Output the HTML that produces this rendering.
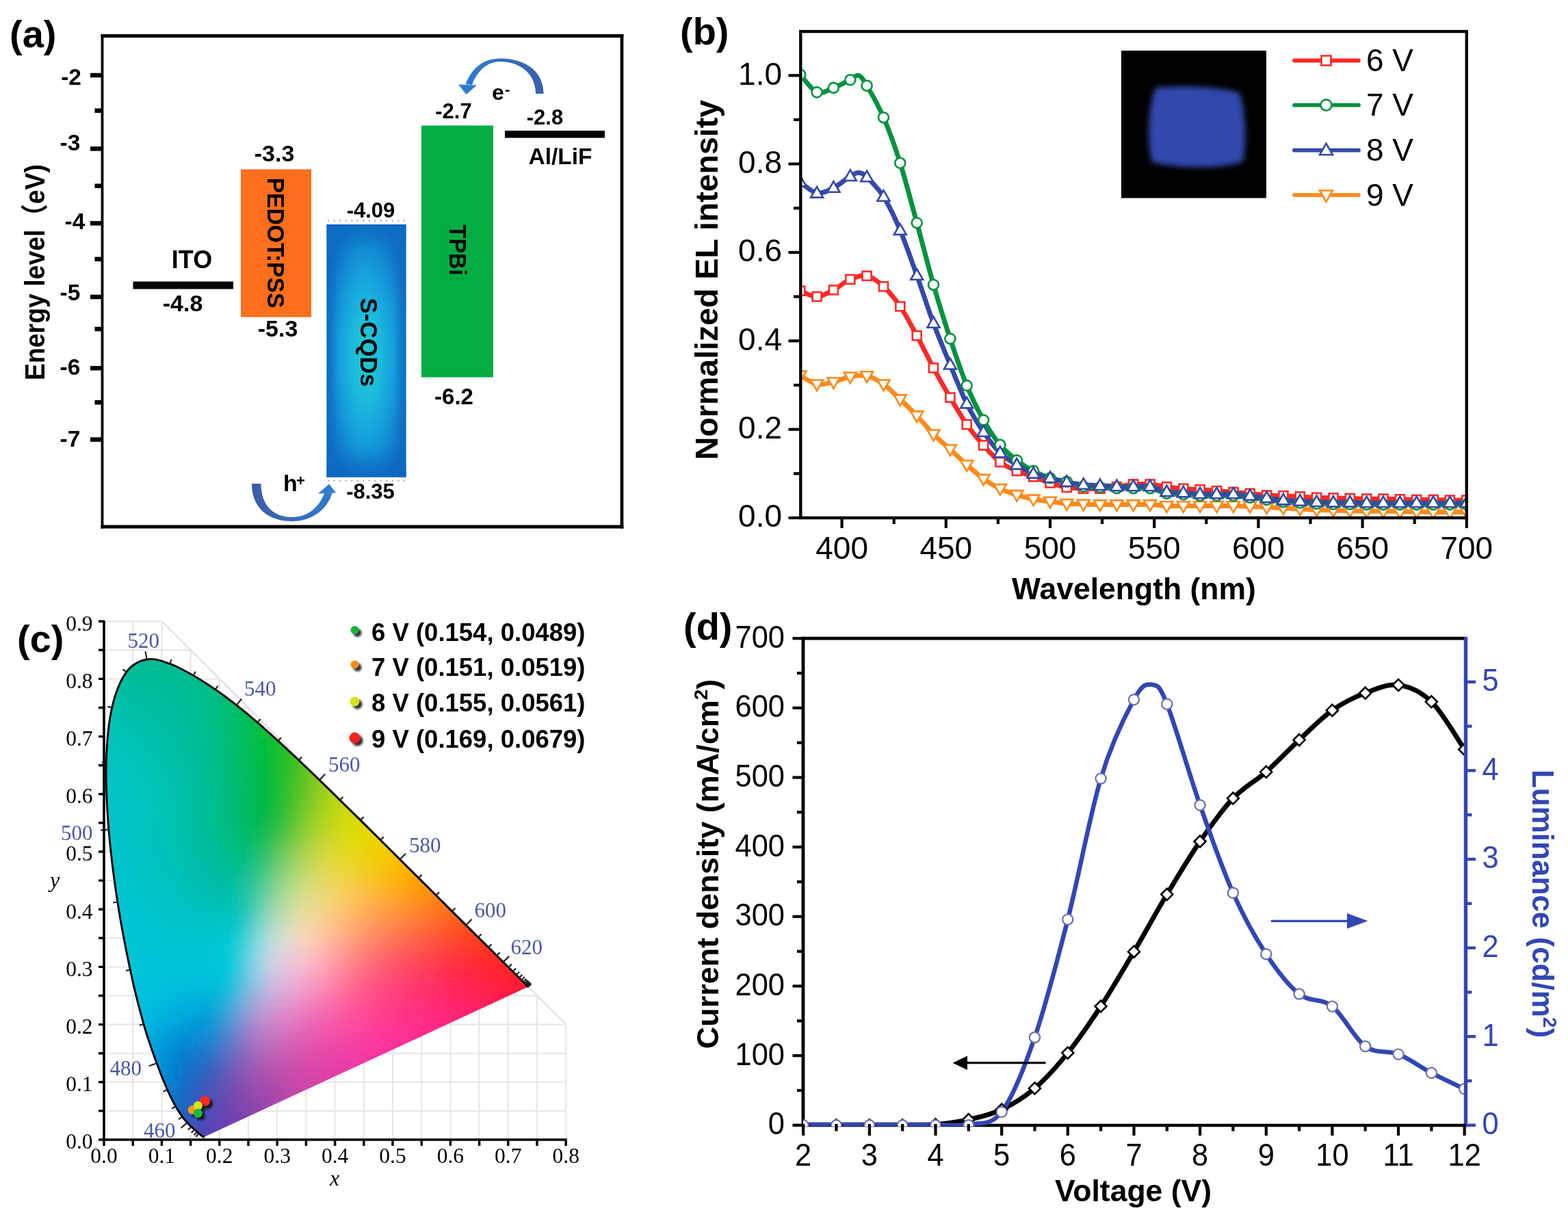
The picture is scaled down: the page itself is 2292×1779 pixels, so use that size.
<!DOCTYPE html>
<html><head><meta charset="utf-8"><title>Figure</title>
<style>html,body{margin:0;padding:0;background:#fff;}svg{display:block;}.cm rect{width:1.08px;height:1.08px;}</style></head>
<body><svg xmlns="http://www.w3.org/2000/svg" width="2292" height="1779" viewBox="0 0 2292 1779">
<rect width="2292" height="1779" fill="#fff"/>
<text x="14" y="69" font-family="'Liberation Sans', Arial, Helvetica, sans-serif" font-size="56" font-weight="bold">(a)</text>
<line x1="149.5" y1="50" x2="149.5" y2="772.5" stroke="#000" stroke-width="3.8"/>
<line x1="147.6" y1="52.6" x2="911.4" y2="52.6" stroke="#000" stroke-width="5"/>
<line x1="909" y1="50" x2="909" y2="772.5" stroke="#000" stroke-width="4.7"/>
<line x1="147.6" y1="770" x2="911.4" y2="770" stroke="#000" stroke-width="5"/>
<line x1="132" y1="110" x2="150" y2="110" stroke="#000" stroke-width="6.5"/>
<line x1="132" y1="217.4" x2="150" y2="217.4" stroke="#000" stroke-width="6.5"/>
<line x1="132" y1="326.4" x2="150" y2="326.4" stroke="#000" stroke-width="6.5"/>
<line x1="132" y1="434" x2="150" y2="434" stroke="#000" stroke-width="6.5"/>
<line x1="132" y1="538.2" x2="150" y2="538.2" stroke="#000" stroke-width="6.5"/>
<line x1="132" y1="642.5" x2="150" y2="642.5" stroke="#000" stroke-width="6.5"/>
<line x1="138.5" y1="161.7" x2="150" y2="161.7" stroke="#000" stroke-width="6.5"/>
<line x1="138.5" y1="271.8" x2="150" y2="271.8" stroke="#000" stroke-width="6.5"/>
<line x1="138.5" y1="378.8" x2="150" y2="378.8" stroke="#000" stroke-width="6.5"/>
<line x1="138.5" y1="481" x2="150" y2="481" stroke="#000" stroke-width="6.5"/>
<line x1="138.5" y1="588.2" x2="150" y2="588.2" stroke="#000" stroke-width="6.5"/>
<text x="119" y="124.1" font-family="'Liberation Sans', Arial, Helvetica, sans-serif" font-size="33.5" font-weight="bold" text-anchor="end">-2</text>
<text x="117.3" y="220.1" font-family="'Liberation Sans', Arial, Helvetica, sans-serif" font-size="33.5" font-weight="bold" text-anchor="end">-3</text>
<text x="124.4" y="335.4" font-family="'Liberation Sans', Arial, Helvetica, sans-serif" font-size="33.5" font-weight="bold" text-anchor="end">-4</text>
<text x="117.3" y="438.7" font-family="'Liberation Sans', Arial, Helvetica, sans-serif" font-size="33.5" font-weight="bold" text-anchor="end">-5</text>
<text x="117.3" y="548.1" font-family="'Liberation Sans', Arial, Helvetica, sans-serif" font-size="33.5" font-weight="bold" text-anchor="end">-6</text>
<text x="117.3" y="652.8" font-family="'Liberation Sans', Arial, Helvetica, sans-serif" font-size="33.5" font-weight="bold" text-anchor="end">-7</text>
<text transform="translate(64.5,398) rotate(-90) scale(0.935,1)" font-family="'Liberation Sans', 'Noto Sans CJK SC', 'WenQuanYi Zen Hei', sans-serif" font-size="40" font-weight="bold" text-anchor="middle">Energy level（eV)</text>
<rect x="194.5" y="411.5" width="146.5" height="11" fill="#000"/>
<text x="280.5" y="391.5" font-family="'Liberation Sans', Arial, Helvetica, sans-serif" font-size="36" font-weight="bold" text-anchor="middle">ITO</text>
<text x="267" y="455" font-family="'Liberation Sans', Arial, Helvetica, sans-serif" font-size="34" font-weight="bold" text-anchor="middle">-4.8</text>
<rect x="352" y="247.5" width="103" height="216" fill="#ff6f1c"/>
<text x="401" y="235.5" font-family="'Liberation Sans', Arial, Helvetica, sans-serif" font-size="34" font-weight="bold" text-anchor="middle">-3.3</text>
<text x="406" y="492" font-family="'Liberation Sans', Arial, Helvetica, sans-serif" font-size="34" font-weight="bold" text-anchor="middle">-5.3</text>
<text transform="translate(390.5,355) rotate(90) scale(0.935,1)" font-family="'Liberation Sans', Arial, Helvetica, sans-serif" font-size="36" font-weight="bold" text-anchor="middle">PEDOT:PSS</text>
<defs><radialGradient id="gq" cx="0.5" cy="0.52" r="0.56"><stop offset="0" stop-color="#22c8cc"/><stop offset="0.3" stop-color="#1cbcdc"/><stop offset="0.6" stop-color="#169fdc"/><stop offset="0.85" stop-color="#1080cc"/><stop offset="1" stop-color="#0e6ec4"/></radialGradient><linearGradient id="gqh" x1="0" x2="1" y1="0" y2="0"><stop offset="0" stop-color="#0e68c0" stop-opacity="0.7"/><stop offset="0.14" stop-color="#0e6ec4" stop-opacity="0"/><stop offset="0.86" stop-color="#0e6ec4" stop-opacity="0"/><stop offset="1" stop-color="#0e68c0" stop-opacity="0.7"/></linearGradient><linearGradient id="gqv" x1="0" x2="0" y1="0" y2="1"><stop offset="0" stop-color="#0e66c0" stop-opacity="0.75"/><stop offset="0.1" stop-color="#0e6ec4" stop-opacity="0"/><stop offset="0.88" stop-color="#0e6ec4" stop-opacity="0"/><stop offset="1" stop-color="#0e62bc" stop-opacity="0.8"/></linearGradient></defs>
<rect x="477.5" y="328" width="116" height="369.5" fill="url(#gq)"/>
<rect x="477.5" y="328" width="116" height="369.5" fill="url(#gqh)"/>
<rect x="477.5" y="328" width="116" height="369.5" fill="url(#gqv)"/>
<path d="M479,322.5H593M479,702.5H593" stroke="#9fb4c8" stroke-width="2.2" stroke-dasharray="2.5,6"/>
<text x="542" y="318" font-family="'Liberation Sans', Arial, Helvetica, sans-serif" font-size="31" font-weight="bold" text-anchor="middle">-4.09</text>
<text x="541.5" y="729" font-family="'Liberation Sans', Arial, Helvetica, sans-serif" font-size="31" font-weight="bold" text-anchor="middle">-8.35</text>
<text transform="translate(527,500.5) rotate(90) scale(0.955,1)" font-family="'Liberation Sans', Arial, Helvetica, sans-serif" font-size="36" font-weight="bold" text-anchor="middle">S-CQDs</text>
<rect x="616" y="183.5" width="105" height="368" fill="#02ad43"/>
<text x="663" y="173" font-family="'Liberation Sans', Arial, Helvetica, sans-serif" font-size="31" font-weight="bold" text-anchor="middle">-2.7</text>
<text x="663.5" y="591" font-family="'Liberation Sans', Arial, Helvetica, sans-serif" font-size="33" font-weight="bold" text-anchor="middle">-6.2</text>
<text transform="translate(657,365.5) rotate(90) scale(0.900,1)" font-family="'Liberation Sans', Arial, Helvetica, sans-serif" font-size="36" font-weight="bold" text-anchor="middle">TPBi</text>
<rect x="738" y="191" width="146" height="10.5" fill="#000"/>
<text x="796.5" y="182" font-family="'Liberation Sans', Arial, Helvetica, sans-serif" font-size="31" font-weight="bold" text-anchor="middle">-2.8</text>
<text x="819" y="239.6" font-family="'Liberation Sans', Arial, Helvetica, sans-serif" font-size="33.5" font-weight="bold" text-anchor="middle">Al/LiF</text>
<defs><linearGradient id="ge" x1="0" x2="1" y1="0" y2="0"><stop offset="0" stop-color="#2f7bd0"/><stop offset="1" stop-color="#3a5fae"/></linearGradient><linearGradient id="gh" x1="0" x2="1" y1="0" y2="0"><stop offset="0" stop-color="#3d5ca8"/><stop offset="1" stop-color="#2f7ccc"/></linearGradient></defs>
<path d="M794.5,137 C794.5,104 768,85.5 731,85.5 C707,85.5 690,99 680.5,123 L690,124 C697.5,104 712,90 731,90 C760,90 783,108 783,137 Z" fill="url(#ge)"/>
<polygon points="670,123.5 697,124.5 681.5,138" fill="#2f7bd0"/>
<text x="719" y="145.8" font-family="'Liberation Sans', Arial, Helvetica, sans-serif" font-size="32" font-weight="bold">e</text>
<text x="738" y="138" font-family="'Liberation Sans', Arial, Helvetica, sans-serif" font-size="22" font-weight="bold">-</text>
<path d="M368,707 C368,745 395,762 427,762 C456,762 478,745 485.5,721 L474,721 C467,741 450,756 427,756 C401,756 381.5,740 381.5,707 Z" fill="url(#gh)"/>
<polygon points="465,721.5 491,720.5 481,707.5" fill="#2f7ccc"/>
<text x="414" y="718" font-family="'Liberation Sans', Arial, Helvetica, sans-serif" font-size="34" font-weight="bold">h</text>
<text x="433" y="710" font-family="'Liberation Sans', Arial, Helvetica, sans-serif" font-size="22" font-weight="bold">+</text>
<text x="994" y="65" font-family="'Liberation Sans', Arial, Helvetica, sans-serif" font-size="56" font-weight="bold">(b)</text>
<defs><filter id="blb" x="-30%" y="-30%" width="160%" height="160%"><feGaussianBlur stdDeviation="4"/></filter><clipPath id="cpb"><rect x="1170" y="46" width="974" height="711"/></clipPath></defs>
<rect x="1639" y="74" width="212" height="215.5" fill="#000"/>
<path d="M1689,128 C1740,124 1790,128 1812,136 C1821,160 1822,212 1817,236 C1790,247 1722,247 1684,237 C1677,215 1677,160 1689,128 Z" fill="#3349ae" filter="url(#blb)"/>
<g clip-path="url(#cpb)">
<path d="M1169.7,548.8C1173.8,550.9 1185.9,560.1 1194.1,561.7C1202.2,563.3 1210.3,560.3 1218.4,558.5C1226.5,556.6 1234.6,552.2 1242.8,550.7C1250.9,549.2 1259,547.6 1267.1,549.4C1275.2,551.2 1283.3,556 1291.5,561.7C1299.6,567.4 1307.7,576 1315.8,583.7C1323.9,591.3 1332,599.1 1340.2,607.6C1348.3,616.1 1356.4,626.6 1364.5,634.8C1372.6,643 1380.8,649.3 1388.9,656.8C1397,664.2 1405.1,672.2 1413.2,679.4C1421.3,686.6 1429.5,694.3 1437.6,700.1C1445.7,705.9 1453.8,710.4 1461.9,714.3C1470,718.2 1478.2,720.8 1486.3,723.4C1494.4,726 1502.5,728.2 1510.6,729.8C1518.7,731.5 1526.9,732 1535,733.1C1543.1,734.1 1551.2,735.7 1559.3,736.3C1567.4,737 1575.6,736.7 1583.7,737C1591.8,737.2 1599.9,737.5 1608,737.6C1616.2,737.7 1624.3,737.6 1632.4,737.6C1640.5,737.6 1648.6,737.6 1656.7,737.6C1664.9,737.6 1673,737.3 1681.1,737.6C1689.2,737.9 1697.3,739.2 1705.4,739.5C1713.6,739.9 1721.7,739.5 1729.8,739.5C1737.9,739.5 1746,739.5 1754.1,739.5C1762.3,739.5 1770.4,739.5 1778.5,739.5C1786.6,739.5 1794.7,739.4 1802.9,739.5C1811,739.6 1819.1,739.9 1827.2,740.2C1835.3,740.5 1843.4,741 1851.6,741.5C1859.7,741.9 1867.8,742.3 1875.9,742.8C1884,743.2 1892.1,743.6 1900.3,744.1C1908.4,744.5 1916.5,745 1924.6,745.4C1932.7,745.7 1940.8,745.8 1949,746C1957.1,746.2 1965.2,746.4 1973.3,746.7C1981.4,746.9 1989.6,747.2 1997.7,747.3C2005.8,747.4 2013.9,747.2 2022,747.3C2030.1,747.4 2038.3,747.8 2046.4,747.9C2054.5,748.1 2062.6,747.8 2070.7,747.9C2078.8,748.1 2087,748.5 2095.1,748.6C2103.2,748.7 2111.3,748.6 2119.4,748.6C2127.5,748.6 2139.7,748.6 2143.8,748.6" fill="none" stroke="#ff8a1c" stroke-width="7" stroke-linejoin="round"/>
<path d="M1169.7,425.2C1173.8,426.6 1185.9,433.9 1194.1,433.6C1202.2,433.4 1210.3,428.2 1218.4,423.9C1226.5,419.7 1234.6,411.9 1242.8,408.4C1250.9,405 1259,401.5 1267.1,403.3C1275.2,405 1283.3,411.3 1291.5,418.8C1299.6,426.2 1307.7,435.9 1315.8,447.9C1323.9,459.8 1332,475.6 1340.2,490.6C1348.3,505.5 1356.4,522.7 1364.5,537.8C1372.6,552.9 1380.8,567.3 1388.9,581.1C1397,594.9 1405.1,608.9 1413.2,620.5C1421.3,632.2 1429.5,641.8 1437.6,650.9C1445.7,660.1 1453.8,669.3 1461.9,675.5C1470,681.8 1478.2,684.9 1486.3,688.4C1494.4,692 1502.5,693.9 1510.6,696.9C1518.7,699.8 1526.9,703.3 1535,705.9C1543.1,708.5 1551.2,711 1559.3,712.4C1567.4,713.8 1575.6,714 1583.7,714.3C1591.8,714.6 1599.9,714.7 1608,714.3C1616.2,713.9 1624.3,712.8 1632.4,711.7C1640.5,710.7 1648.6,708.5 1656.7,707.9C1664.9,707.2 1673,707.2 1681.1,707.9C1689.2,708.5 1697.3,710.7 1705.4,711.7C1713.6,712.8 1721.7,713.7 1729.8,714.3C1737.9,715 1746,715.1 1754.1,715.6C1762.3,716.2 1770.4,716.9 1778.5,717.6C1786.6,718.2 1794.7,718.8 1802.9,719.5C1811,720.1 1819.1,720.7 1827.2,721.4C1835.3,722.2 1843.4,723.5 1851.6,724C1859.7,724.6 1867.8,724.3 1875.9,724.7C1884,725 1892.1,725.5 1900.3,726C1908.4,726.4 1916.5,726.9 1924.6,727.3C1932.7,727.6 1940.8,727.7 1949,727.9C1957.1,728.1 1965.2,728.3 1973.3,728.5C1981.4,728.8 1989.6,729.1 1997.7,729.2C2005.8,729.3 2013.9,729.1 2022,729.2C2030.1,729.3 2038.3,729.6 2046.4,729.8C2054.5,730.1 2062.6,730.4 2070.7,730.5C2078.8,730.6 2087,730.4 2095.1,730.5C2103.2,730.6 2111.3,731 2119.4,731.1C2127.5,731.2 2139.7,731.1 2143.8,731.1" fill="none" stroke="#ff2a26" stroke-width="7" stroke-linejoin="round"/>
<path d="M1169.7,109C1173.8,113.3 1185.9,131.6 1194.1,134.9C1202.2,138.1 1210.3,131.4 1218.4,128.4C1226.5,125.4 1236.7,119.8 1242.8,116.8C1248.8,113.7 1250.9,108.9 1254.9,110.3C1259,111.7 1261,114.9 1267.1,125.2C1273.2,135.4 1283.3,152.9 1291.5,171.7C1299.6,190.6 1307.7,212.7 1315.8,238.3C1323.9,264 1332,296 1340.2,325.7C1348.3,355.3 1356.4,387.9 1364.5,416.2C1372.6,444.4 1380.8,470.5 1388.9,495.1C1397,519.7 1405.1,543.8 1413.2,563.6C1421.3,583.5 1429.5,599.6 1437.6,614.1C1445.7,628.5 1453.8,640.5 1461.9,650.3C1470,660.1 1478.2,666.6 1486.3,672.9C1494.4,679.3 1502.5,684.1 1510.6,688.4C1518.7,692.8 1526.9,696.2 1535,698.8C1543.1,701.4 1551.2,701.9 1559.3,704C1567.4,706 1575.6,709.7 1583.7,711.1C1591.8,712.5 1599.9,711.9 1608,712.4C1616.2,712.8 1624.3,713.5 1632.4,713.7C1640.5,713.9 1648.6,713.7 1656.7,713.7C1664.9,713.7 1673,712.4 1681.1,713.7C1689.2,715 1697.3,719.9 1705.4,721.4C1713.6,722.9 1721.7,722.2 1729.8,722.7C1737.9,723.3 1746,724.3 1754.1,724.7C1762.3,725 1770.4,724.7 1778.5,724.7C1786.6,724.7 1794.7,724.2 1802.9,724.7C1811,725.1 1819.1,726.3 1827.2,727.3C1835.3,728.2 1843.4,729.4 1851.6,730.5C1859.7,731.6 1867.8,733 1875.9,733.7C1884,734.5 1892.1,734.6 1900.3,735C1908.4,735.4 1916.5,736 1924.6,736.3C1932.7,736.6 1940.8,736.8 1949,737C1957.1,737.1 1965.2,736.8 1973.3,737C1981.4,737.1 1989.6,737.5 1997.7,737.6C2005.8,737.7 2013.9,737.6 2022,737.6C2030.1,737.6 2038.3,737.6 2046.4,737.6C2054.5,737.6 2062.6,737.6 2070.7,737.6C2078.8,737.6 2087,737.6 2095.1,737.6C2103.2,737.6 2111.3,737.6 2119.4,737.6C2127.5,737.6 2139.7,737.6 2143.8,737.6" fill="none" stroke="#00923f" stroke-width="7" stroke-linejoin="round"/>
<path d="M1169.7,266.2C1173.8,268.8 1185.9,280.9 1194.1,282.3C1202.2,283.7 1210.3,278.7 1218.4,274.6C1226.5,270.5 1236.7,261.4 1242.8,257.7C1248.8,254.1 1250.9,252.4 1254.9,252.6C1259,252.8 1261,253.2 1267.1,259C1273.2,264.9 1283.3,274.6 1291.5,287.5C1299.6,300.4 1307.7,317.5 1315.8,336.6C1323.9,355.8 1332,380 1340.2,402.6C1348.3,425.2 1356.4,450.7 1364.5,472.5C1372.6,494.2 1380.8,513.6 1388.9,533.2C1397,552.9 1405.1,573.8 1413.2,590.2C1421.3,606.5 1429.5,619.6 1437.6,631.5C1445.7,643.5 1453.8,654 1461.9,661.9C1470,669.9 1478.2,674.3 1486.3,679.4C1494.4,684.5 1502.5,689.1 1510.6,692.3C1518.7,695.6 1526.9,696.7 1535,698.8C1543.1,700.8 1551.2,703 1559.3,704.6C1567.4,706.2 1575.6,707.6 1583.7,708.5C1591.8,709.4 1599.9,709.4 1608,709.8C1616.2,710.2 1624.3,710.9 1632.4,711.1C1640.5,711.3 1648.6,711.1 1656.7,711.1C1664.9,711.1 1673,709.8 1681.1,711.1C1689.2,712.4 1697.3,717.3 1705.4,718.8C1713.6,720.4 1721.7,719.6 1729.8,720.1C1737.9,720.7 1746,721.8 1754.1,722.1C1762.3,722.4 1770.4,722.1 1778.5,722.1C1786.6,722.1 1794.7,721.6 1802.9,722.1C1811,722.5 1819.1,723.7 1827.2,724.7C1835.3,725.6 1843.4,726.8 1851.6,727.9C1859.7,729 1867.8,730.4 1875.9,731.1C1884,731.9 1892.1,732 1900.3,732.4C1908.4,732.9 1916.5,733.4 1924.6,733.7C1932.7,734 1940.8,734.3 1949,734.4C1957.1,734.5 1965.2,734.3 1973.3,734.4C1981.4,734.5 1989.6,734.9 1997.7,735C2005.8,735.1 2013.9,735 2022,735C2030.1,735 2038.3,735 2046.4,735C2054.5,735 2062.6,735 2070.7,735C2078.8,735 2087,735 2095.1,735C2103.2,735 2111.3,735 2119.4,735C2127.5,735 2139.7,735 2143.8,735" fill="none" stroke="#3548a8" stroke-width="7" stroke-linejoin="round"/>
<polygon points="1169.7,558.1 1160.7,542.5 1178.7,542.5" fill="#fff" stroke="#ff8a1c" stroke-width="2.6" stroke-linejoin="miter"/>
<polygon points="1194.1,571 1185.1,555.5 1203.1,555.5" fill="#fff" stroke="#ff8a1c" stroke-width="2.6" stroke-linejoin="miter"/>
<polygon points="1218.4,567.8 1209.4,552.2 1227.4,552.2" fill="#fff" stroke="#ff8a1c" stroke-width="2.6" stroke-linejoin="miter"/>
<polygon points="1242.8,560.1 1233.8,544.5 1251.8,544.5" fill="#fff" stroke="#ff8a1c" stroke-width="2.6" stroke-linejoin="miter"/>
<polygon points="1267.1,558.8 1258.1,543.2 1276.1,543.2" fill="#fff" stroke="#ff8a1c" stroke-width="2.6" stroke-linejoin="miter"/>
<polygon points="1291.5,571 1282.5,555.5 1300.5,555.5" fill="#fff" stroke="#ff8a1c" stroke-width="2.6" stroke-linejoin="miter"/>
<polygon points="1315.8,593 1306.8,577.4 1324.8,577.4" fill="#fff" stroke="#ff8a1c" stroke-width="2.6" stroke-linejoin="miter"/>
<polygon points="1340.2,617 1331.2,601.4 1349.2,601.4" fill="#fff" stroke="#ff8a1c" stroke-width="2.6" stroke-linejoin="miter"/>
<polygon points="1364.5,644.1 1355.5,628.5 1373.5,628.5" fill="#fff" stroke="#ff8a1c" stroke-width="2.6" stroke-linejoin="miter"/>
<polygon points="1388.9,666.1 1379.9,650.5 1397.9,650.5" fill="#fff" stroke="#ff8a1c" stroke-width="2.6" stroke-linejoin="miter"/>
<polygon points="1413.2,688.7 1404.2,673.2 1422.2,673.2" fill="#fff" stroke="#ff8a1c" stroke-width="2.6" stroke-linejoin="miter"/>
<polygon points="1437.6,709.4 1428.6,693.9 1446.6,693.9" fill="#fff" stroke="#ff8a1c" stroke-width="2.6" stroke-linejoin="miter"/>
<polygon points="1461.9,723.7 1452.9,708.1 1470.9,708.1" fill="#fff" stroke="#ff8a1c" stroke-width="2.6" stroke-linejoin="miter"/>
<polygon points="1486.3,732.7 1477.3,717.1 1495.3,717.1" fill="#fff" stroke="#ff8a1c" stroke-width="2.6" stroke-linejoin="miter"/>
<polygon points="1510.6,739.2 1501.6,723.6 1519.6,723.6" fill="#fff" stroke="#ff8a1c" stroke-width="2.6" stroke-linejoin="miter"/>
<polygon points="1535,742.4 1526,726.8 1544,726.8" fill="#fff" stroke="#ff8a1c" stroke-width="2.6" stroke-linejoin="miter"/>
<polygon points="1559.3,745.7 1550.3,730.1 1568.3,730.1" fill="#fff" stroke="#ff8a1c" stroke-width="2.6" stroke-linejoin="miter"/>
<polygon points="1583.7,746.3 1574.7,730.7 1592.7,730.7" fill="#fff" stroke="#ff8a1c" stroke-width="2.6" stroke-linejoin="miter"/>
<polygon points="1608,747 1599,731.4 1617,731.4" fill="#fff" stroke="#ff8a1c" stroke-width="2.6" stroke-linejoin="miter"/>
<polygon points="1632.4,747 1623.4,731.4 1641.4,731.4" fill="#fff" stroke="#ff8a1c" stroke-width="2.6" stroke-linejoin="miter"/>
<polygon points="1656.7,747 1647.7,731.4 1665.7,731.4" fill="#fff" stroke="#ff8a1c" stroke-width="2.6" stroke-linejoin="miter"/>
<polygon points="1681.1,747 1672.1,731.4 1690.1,731.4" fill="#fff" stroke="#ff8a1c" stroke-width="2.6" stroke-linejoin="miter"/>
<polygon points="1705.4,748.9 1696.4,733.3 1714.4,733.3" fill="#fff" stroke="#ff8a1c" stroke-width="2.6" stroke-linejoin="miter"/>
<polygon points="1729.8,748.9 1720.8,733.3 1738.8,733.3" fill="#fff" stroke="#ff8a1c" stroke-width="2.6" stroke-linejoin="miter"/>
<polygon points="1754.1,748.9 1745.1,733.3 1763.1,733.3" fill="#fff" stroke="#ff8a1c" stroke-width="2.6" stroke-linejoin="miter"/>
<polygon points="1778.5,748.9 1769.5,733.3 1787.5,733.3" fill="#fff" stroke="#ff8a1c" stroke-width="2.6" stroke-linejoin="miter"/>
<polygon points="1802.9,748.9 1793.9,733.3 1811.9,733.3" fill="#fff" stroke="#ff8a1c" stroke-width="2.6" stroke-linejoin="miter"/>
<polygon points="1827.2,749.5 1818.2,734 1836.2,734" fill="#fff" stroke="#ff8a1c" stroke-width="2.6" stroke-linejoin="miter"/>
<polygon points="1851.6,750.8 1842.6,735.2 1860.6,735.2" fill="#fff" stroke="#ff8a1c" stroke-width="2.6" stroke-linejoin="miter"/>
<polygon points="1875.9,752.1 1866.9,736.5 1884.9,736.5" fill="#fff" stroke="#ff8a1c" stroke-width="2.6" stroke-linejoin="miter"/>
<polygon points="1900.3,753.4 1891.3,737.8 1909.3,737.8" fill="#fff" stroke="#ff8a1c" stroke-width="2.6" stroke-linejoin="miter"/>
<polygon points="1924.6,754.7 1915.6,739.1 1933.6,739.1" fill="#fff" stroke="#ff8a1c" stroke-width="2.6" stroke-linejoin="miter"/>
<polygon points="1949,755.4 1940,739.8 1958,739.8" fill="#fff" stroke="#ff8a1c" stroke-width="2.6" stroke-linejoin="miter"/>
<polygon points="1973.3,756 1964.3,740.4 1982.3,740.4" fill="#fff" stroke="#ff8a1c" stroke-width="2.6" stroke-linejoin="miter"/>
<polygon points="1997.7,756.7 1988.7,741.1 2006.7,741.1" fill="#fff" stroke="#ff8a1c" stroke-width="2.6" stroke-linejoin="miter"/>
<polygon points="2022,756.7 2013,741.1 2031,741.1" fill="#fff" stroke="#ff8a1c" stroke-width="2.6" stroke-linejoin="miter"/>
<polygon points="2046.4,757.3 2037.4,741.7 2055.4,741.7" fill="#fff" stroke="#ff8a1c" stroke-width="2.6" stroke-linejoin="miter"/>
<polygon points="2070.7,757.3 2061.7,741.7 2079.7,741.7" fill="#fff" stroke="#ff8a1c" stroke-width="2.6" stroke-linejoin="miter"/>
<polygon points="2095.1,757.9 2086.1,742.4 2104.1,742.4" fill="#fff" stroke="#ff8a1c" stroke-width="2.6" stroke-linejoin="miter"/>
<polygon points="2119.4,757.9 2110.4,742.4 2128.4,742.4" fill="#fff" stroke="#ff8a1c" stroke-width="2.6" stroke-linejoin="miter"/>
<polygon points="2143.8,757.9 2134.8,742.4 2152.8,742.4" fill="#fff" stroke="#ff8a1c" stroke-width="2.6" stroke-linejoin="miter"/>
<rect x="1163.2" y="418.7" width="13" height="13" fill="#fff" stroke="#ff2a26" stroke-width="2.6"/>
<rect x="1187.6" y="427.1" width="13" height="13" fill="#fff" stroke="#ff2a26" stroke-width="2.6"/>
<rect x="1211.9" y="417.4" width="13" height="13" fill="#fff" stroke="#ff2a26" stroke-width="2.6"/>
<rect x="1236.3" y="401.9" width="13" height="13" fill="#fff" stroke="#ff2a26" stroke-width="2.6"/>
<rect x="1260.6" y="396.8" width="13" height="13" fill="#fff" stroke="#ff2a26" stroke-width="2.6"/>
<rect x="1285" y="412.3" width="13" height="13" fill="#fff" stroke="#ff2a26" stroke-width="2.6"/>
<rect x="1309.3" y="441.4" width="13" height="13" fill="#fff" stroke="#ff2a26" stroke-width="2.6"/>
<rect x="1333.7" y="484.1" width="13" height="13" fill="#fff" stroke="#ff2a26" stroke-width="2.6"/>
<rect x="1358" y="531.3" width="13" height="13" fill="#fff" stroke="#ff2a26" stroke-width="2.6"/>
<rect x="1382.4" y="574.6" width="13" height="13" fill="#fff" stroke="#ff2a26" stroke-width="2.6"/>
<rect x="1406.7" y="614" width="13" height="13" fill="#fff" stroke="#ff2a26" stroke-width="2.6"/>
<rect x="1431.1" y="644.4" width="13" height="13" fill="#fff" stroke="#ff2a26" stroke-width="2.6"/>
<rect x="1455.4" y="669" width="13" height="13" fill="#fff" stroke="#ff2a26" stroke-width="2.6"/>
<rect x="1479.8" y="681.9" width="13" height="13" fill="#fff" stroke="#ff2a26" stroke-width="2.6"/>
<rect x="1504.1" y="690.4" width="13" height="13" fill="#fff" stroke="#ff2a26" stroke-width="2.6"/>
<rect x="1528.5" y="699.4" width="13" height="13" fill="#fff" stroke="#ff2a26" stroke-width="2.6"/>
<rect x="1552.8" y="705.9" width="13" height="13" fill="#fff" stroke="#ff2a26" stroke-width="2.6"/>
<rect x="1577.2" y="707.8" width="13" height="13" fill="#fff" stroke="#ff2a26" stroke-width="2.6"/>
<rect x="1601.5" y="707.8" width="13" height="13" fill="#fff" stroke="#ff2a26" stroke-width="2.6"/>
<rect x="1625.9" y="705.2" width="13" height="13" fill="#fff" stroke="#ff2a26" stroke-width="2.6"/>
<rect x="1650.2" y="701.4" width="13" height="13" fill="#fff" stroke="#ff2a26" stroke-width="2.6"/>
<rect x="1674.6" y="701.4" width="13" height="13" fill="#fff" stroke="#ff2a26" stroke-width="2.6"/>
<rect x="1698.9" y="705.2" width="13" height="13" fill="#fff" stroke="#ff2a26" stroke-width="2.6"/>
<rect x="1723.3" y="707.8" width="13" height="13" fill="#fff" stroke="#ff2a26" stroke-width="2.6"/>
<rect x="1747.6" y="709.1" width="13" height="13" fill="#fff" stroke="#ff2a26" stroke-width="2.6"/>
<rect x="1772" y="711.1" width="13" height="13" fill="#fff" stroke="#ff2a26" stroke-width="2.6"/>
<rect x="1796.4" y="713" width="13" height="13" fill="#fff" stroke="#ff2a26" stroke-width="2.6"/>
<rect x="1820.7" y="714.9" width="13" height="13" fill="#fff" stroke="#ff2a26" stroke-width="2.6"/>
<rect x="1845.1" y="717.5" width="13" height="13" fill="#fff" stroke="#ff2a26" stroke-width="2.6"/>
<rect x="1869.4" y="718.2" width="13" height="13" fill="#fff" stroke="#ff2a26" stroke-width="2.6"/>
<rect x="1893.8" y="719.5" width="13" height="13" fill="#fff" stroke="#ff2a26" stroke-width="2.6"/>
<rect x="1918.1" y="720.8" width="13" height="13" fill="#fff" stroke="#ff2a26" stroke-width="2.6"/>
<rect x="1942.5" y="721.4" width="13" height="13" fill="#fff" stroke="#ff2a26" stroke-width="2.6"/>
<rect x="1966.8" y="722" width="13" height="13" fill="#fff" stroke="#ff2a26" stroke-width="2.6"/>
<rect x="1991.2" y="722.7" width="13" height="13" fill="#fff" stroke="#ff2a26" stroke-width="2.6"/>
<rect x="2015.5" y="722.7" width="13" height="13" fill="#fff" stroke="#ff2a26" stroke-width="2.6"/>
<rect x="2039.9" y="723.3" width="13" height="13" fill="#fff" stroke="#ff2a26" stroke-width="2.6"/>
<rect x="2064.2" y="724" width="13" height="13" fill="#fff" stroke="#ff2a26" stroke-width="2.6"/>
<rect x="2088.6" y="724" width="13" height="13" fill="#fff" stroke="#ff2a26" stroke-width="2.6"/>
<rect x="2112.9" y="724.6" width="13" height="13" fill="#fff" stroke="#ff2a26" stroke-width="2.6"/>
<rect x="2137.3" y="724.6" width="13" height="13" fill="#fff" stroke="#ff2a26" stroke-width="2.6"/>
<circle cx="1169.7" cy="109" r="7.5" fill="#fff" stroke="#00923f" stroke-width="2.6"/>
<circle cx="1194.1" cy="134.9" r="7.5" fill="#fff" stroke="#00923f" stroke-width="2.6"/>
<circle cx="1218.4" cy="128.4" r="7.5" fill="#fff" stroke="#00923f" stroke-width="2.6"/>
<circle cx="1242.8" cy="116.8" r="7.5" fill="#fff" stroke="#00923f" stroke-width="2.6"/>
<circle cx="1267.1" cy="125.2" r="7.5" fill="#fff" stroke="#00923f" stroke-width="2.6"/>
<circle cx="1291.5" cy="171.7" r="7.5" fill="#fff" stroke="#00923f" stroke-width="2.6"/>
<circle cx="1315.8" cy="238.3" r="7.5" fill="#fff" stroke="#00923f" stroke-width="2.6"/>
<circle cx="1340.2" cy="325.7" r="7.5" fill="#fff" stroke="#00923f" stroke-width="2.6"/>
<circle cx="1364.5" cy="416.2" r="7.5" fill="#fff" stroke="#00923f" stroke-width="2.6"/>
<circle cx="1388.9" cy="495.1" r="7.5" fill="#fff" stroke="#00923f" stroke-width="2.6"/>
<circle cx="1413.2" cy="563.6" r="7.5" fill="#fff" stroke="#00923f" stroke-width="2.6"/>
<circle cx="1437.6" cy="614.1" r="7.5" fill="#fff" stroke="#00923f" stroke-width="2.6"/>
<circle cx="1461.9" cy="650.3" r="7.5" fill="#fff" stroke="#00923f" stroke-width="2.6"/>
<circle cx="1486.3" cy="672.9" r="7.5" fill="#fff" stroke="#00923f" stroke-width="2.6"/>
<circle cx="1510.6" cy="688.4" r="7.5" fill="#fff" stroke="#00923f" stroke-width="2.6"/>
<circle cx="1535" cy="698.8" r="7.5" fill="#fff" stroke="#00923f" stroke-width="2.6"/>
<circle cx="1559.3" cy="704" r="7.5" fill="#fff" stroke="#00923f" stroke-width="2.6"/>
<circle cx="1583.7" cy="711.1" r="7.5" fill="#fff" stroke="#00923f" stroke-width="2.6"/>
<circle cx="1608" cy="712.4" r="7.5" fill="#fff" stroke="#00923f" stroke-width="2.6"/>
<circle cx="1632.4" cy="713.7" r="7.5" fill="#fff" stroke="#00923f" stroke-width="2.6"/>
<circle cx="1656.7" cy="713.7" r="7.5" fill="#fff" stroke="#00923f" stroke-width="2.6"/>
<circle cx="1681.1" cy="713.7" r="7.5" fill="#fff" stroke="#00923f" stroke-width="2.6"/>
<circle cx="1705.4" cy="721.4" r="7.5" fill="#fff" stroke="#00923f" stroke-width="2.6"/>
<circle cx="1729.8" cy="722.7" r="7.5" fill="#fff" stroke="#00923f" stroke-width="2.6"/>
<circle cx="1754.1" cy="724.7" r="7.5" fill="#fff" stroke="#00923f" stroke-width="2.6"/>
<circle cx="1778.5" cy="724.7" r="7.5" fill="#fff" stroke="#00923f" stroke-width="2.6"/>
<circle cx="1802.9" cy="724.7" r="7.5" fill="#fff" stroke="#00923f" stroke-width="2.6"/>
<circle cx="1827.2" cy="727.3" r="7.5" fill="#fff" stroke="#00923f" stroke-width="2.6"/>
<circle cx="1851.6" cy="730.5" r="7.5" fill="#fff" stroke="#00923f" stroke-width="2.6"/>
<circle cx="1875.9" cy="733.7" r="7.5" fill="#fff" stroke="#00923f" stroke-width="2.6"/>
<circle cx="1900.3" cy="735" r="7.5" fill="#fff" stroke="#00923f" stroke-width="2.6"/>
<circle cx="1924.6" cy="736.3" r="7.5" fill="#fff" stroke="#00923f" stroke-width="2.6"/>
<circle cx="1949" cy="737" r="7.5" fill="#fff" stroke="#00923f" stroke-width="2.6"/>
<circle cx="1973.3" cy="737" r="7.5" fill="#fff" stroke="#00923f" stroke-width="2.6"/>
<circle cx="1997.7" cy="737.6" r="7.5" fill="#fff" stroke="#00923f" stroke-width="2.6"/>
<circle cx="2022" cy="737.6" r="7.5" fill="#fff" stroke="#00923f" stroke-width="2.6"/>
<circle cx="2046.4" cy="737.6" r="7.5" fill="#fff" stroke="#00923f" stroke-width="2.6"/>
<circle cx="2070.7" cy="737.6" r="7.5" fill="#fff" stroke="#00923f" stroke-width="2.6"/>
<circle cx="2095.1" cy="737.6" r="7.5" fill="#fff" stroke="#00923f" stroke-width="2.6"/>
<circle cx="2119.4" cy="737.6" r="7.5" fill="#fff" stroke="#00923f" stroke-width="2.6"/>
<circle cx="2143.8" cy="737.6" r="7.5" fill="#fff" stroke="#00923f" stroke-width="2.6"/>
<polygon points="1169.7,256.8 1160.7,272.4 1178.7,272.4" fill="#fff" stroke="#3548a8" stroke-width="2.6" stroke-linejoin="miter"/>
<polygon points="1194.1,273 1185.1,288.6 1203.1,288.6" fill="#fff" stroke="#3548a8" stroke-width="2.6" stroke-linejoin="miter"/>
<polygon points="1218.4,265.2 1209.4,280.8 1227.4,280.8" fill="#fff" stroke="#3548a8" stroke-width="2.6" stroke-linejoin="miter"/>
<polygon points="1242.8,248.4 1233.8,264 1251.8,264" fill="#fff" stroke="#3548a8" stroke-width="2.6" stroke-linejoin="miter"/>
<polygon points="1267.1,249.7 1258.1,265.3 1276.1,265.3" fill="#fff" stroke="#3548a8" stroke-width="2.6" stroke-linejoin="miter"/>
<polygon points="1291.5,278.1 1282.5,293.7 1300.5,293.7" fill="#fff" stroke="#3548a8" stroke-width="2.6" stroke-linejoin="miter"/>
<polygon points="1315.8,327.3 1306.8,342.9 1324.8,342.9" fill="#fff" stroke="#3548a8" stroke-width="2.6" stroke-linejoin="miter"/>
<polygon points="1340.2,393.3 1331.2,408.8 1349.2,408.8" fill="#fff" stroke="#3548a8" stroke-width="2.6" stroke-linejoin="miter"/>
<polygon points="1364.5,463.1 1355.5,478.7 1373.5,478.7" fill="#fff" stroke="#3548a8" stroke-width="2.6" stroke-linejoin="miter"/>
<polygon points="1388.9,523.9 1379.9,539.5 1397.9,539.5" fill="#fff" stroke="#3548a8" stroke-width="2.6" stroke-linejoin="miter"/>
<polygon points="1413.2,580.8 1404.2,596.4 1422.2,596.4" fill="#fff" stroke="#3548a8" stroke-width="2.6" stroke-linejoin="miter"/>
<polygon points="1437.6,622.2 1428.6,637.8 1446.6,637.8" fill="#fff" stroke="#3548a8" stroke-width="2.6" stroke-linejoin="miter"/>
<polygon points="1461.9,652.6 1452.9,668.2 1470.9,668.2" fill="#fff" stroke="#3548a8" stroke-width="2.6" stroke-linejoin="miter"/>
<polygon points="1486.3,670 1477.3,685.6 1495.3,685.6" fill="#fff" stroke="#3548a8" stroke-width="2.6" stroke-linejoin="miter"/>
<polygon points="1510.6,683 1501.6,698.6 1519.6,698.6" fill="#fff" stroke="#3548a8" stroke-width="2.6" stroke-linejoin="miter"/>
<polygon points="1535,689.4 1526,705 1544,705" fill="#fff" stroke="#3548a8" stroke-width="2.6" stroke-linejoin="miter"/>
<polygon points="1559.3,695.3 1550.3,710.9 1568.3,710.9" fill="#fff" stroke="#3548a8" stroke-width="2.6" stroke-linejoin="miter"/>
<polygon points="1583.7,699.1 1574.7,714.7 1592.7,714.7" fill="#fff" stroke="#3548a8" stroke-width="2.6" stroke-linejoin="miter"/>
<polygon points="1608,700.4 1599,716 1617,716" fill="#fff" stroke="#3548a8" stroke-width="2.6" stroke-linejoin="miter"/>
<polygon points="1632.4,701.7 1623.4,717.3 1641.4,717.3" fill="#fff" stroke="#3548a8" stroke-width="2.6" stroke-linejoin="miter"/>
<polygon points="1656.7,701.7 1647.7,717.3 1665.7,717.3" fill="#fff" stroke="#3548a8" stroke-width="2.6" stroke-linejoin="miter"/>
<polygon points="1681.1,701.7 1672.1,717.3 1690.1,717.3" fill="#fff" stroke="#3548a8" stroke-width="2.6" stroke-linejoin="miter"/>
<polygon points="1705.4,709.5 1696.4,725.1 1714.4,725.1" fill="#fff" stroke="#3548a8" stroke-width="2.6" stroke-linejoin="miter"/>
<polygon points="1729.8,710.8 1720.8,726.4 1738.8,726.4" fill="#fff" stroke="#3548a8" stroke-width="2.6" stroke-linejoin="miter"/>
<polygon points="1754.1,712.7 1745.1,728.3 1763.1,728.3" fill="#fff" stroke="#3548a8" stroke-width="2.6" stroke-linejoin="miter"/>
<polygon points="1778.5,712.7 1769.5,728.3 1787.5,728.3" fill="#fff" stroke="#3548a8" stroke-width="2.6" stroke-linejoin="miter"/>
<polygon points="1802.9,712.7 1793.9,728.3 1811.9,728.3" fill="#fff" stroke="#3548a8" stroke-width="2.6" stroke-linejoin="miter"/>
<polygon points="1827.2,715.3 1818.2,730.9 1836.2,730.9" fill="#fff" stroke="#3548a8" stroke-width="2.6" stroke-linejoin="miter"/>
<polygon points="1851.6,718.5 1842.6,734.1 1860.6,734.1" fill="#fff" stroke="#3548a8" stroke-width="2.6" stroke-linejoin="miter"/>
<polygon points="1875.9,721.8 1866.9,737.4 1884.9,737.4" fill="#fff" stroke="#3548a8" stroke-width="2.6" stroke-linejoin="miter"/>
<polygon points="1900.3,723.1 1891.3,738.7 1909.3,738.7" fill="#fff" stroke="#3548a8" stroke-width="2.6" stroke-linejoin="miter"/>
<polygon points="1924.6,724.4 1915.6,740 1933.6,740" fill="#fff" stroke="#3548a8" stroke-width="2.6" stroke-linejoin="miter"/>
<polygon points="1949,725 1940,740.6 1958,740.6" fill="#fff" stroke="#3548a8" stroke-width="2.6" stroke-linejoin="miter"/>
<polygon points="1973.3,725 1964.3,740.6 1982.3,740.6" fill="#fff" stroke="#3548a8" stroke-width="2.6" stroke-linejoin="miter"/>
<polygon points="1997.7,725.7 1988.7,741.2 2006.7,741.2" fill="#fff" stroke="#3548a8" stroke-width="2.6" stroke-linejoin="miter"/>
<polygon points="2022,725.7 2013,741.2 2031,741.2" fill="#fff" stroke="#3548a8" stroke-width="2.6" stroke-linejoin="miter"/>
<polygon points="2046.4,725.7 2037.4,741.2 2055.4,741.2" fill="#fff" stroke="#3548a8" stroke-width="2.6" stroke-linejoin="miter"/>
<polygon points="2070.7,725.7 2061.7,741.2 2079.7,741.2" fill="#fff" stroke="#3548a8" stroke-width="2.6" stroke-linejoin="miter"/>
<polygon points="2095.1,725.7 2086.1,741.2 2104.1,741.2" fill="#fff" stroke="#3548a8" stroke-width="2.6" stroke-linejoin="miter"/>
<polygon points="2119.4,725.7 2110.4,741.2 2128.4,741.2" fill="#fff" stroke="#3548a8" stroke-width="2.6" stroke-linejoin="miter"/>
<polygon points="2143.8,725.7 2134.8,741.2 2152.8,741.2" fill="#fff" stroke="#3548a8" stroke-width="2.6" stroke-linejoin="miter"/>
</g>
<rect x="1170.3" y="46" width="973.5" height="711" fill="none" stroke="#000" stroke-width="4.4"/>
<line x1="1152.5" y1="757" x2="1171" y2="757" stroke="#000" stroke-width="4.2"/>
<text x="1143" y="770.2" font-family="'Liberation Sans', Arial, Helvetica, sans-serif" font-size="46" text-anchor="end">0.0</text>
<line x1="1152.5" y1="627.7" x2="1171" y2="627.7" stroke="#000" stroke-width="4.2"/>
<text x="1143" y="640.9" font-family="'Liberation Sans', Arial, Helvetica, sans-serif" font-size="46" text-anchor="end">0.2</text>
<line x1="1152.5" y1="498.3" x2="1171" y2="498.3" stroke="#000" stroke-width="4.2"/>
<text x="1143" y="511.5" font-family="'Liberation Sans', Arial, Helvetica, sans-serif" font-size="46" text-anchor="end">0.4</text>
<line x1="1152.5" y1="369" x2="1171" y2="369" stroke="#000" stroke-width="4.2"/>
<text x="1143" y="382.2" font-family="'Liberation Sans', Arial, Helvetica, sans-serif" font-size="46" text-anchor="end">0.6</text>
<line x1="1152.5" y1="239.6" x2="1171" y2="239.6" stroke="#000" stroke-width="4.2"/>
<text x="1143" y="252.8" font-family="'Liberation Sans', Arial, Helvetica, sans-serif" font-size="46" text-anchor="end">0.8</text>
<line x1="1152.5" y1="110.3" x2="1171" y2="110.3" stroke="#000" stroke-width="4.2"/>
<text x="1143" y="123.5" font-family="'Liberation Sans', Arial, Helvetica, sans-serif" font-size="46" text-anchor="end">1.0</text>
<line x1="1160" y1="692.3" x2="1171" y2="692.3" stroke="#000" stroke-width="4.2"/>
<line x1="1160" y1="563" x2="1171" y2="563" stroke="#000" stroke-width="4.2"/>
<line x1="1160" y1="433.6" x2="1171" y2="433.6" stroke="#000" stroke-width="4.2"/>
<line x1="1160" y1="304.3" x2="1171" y2="304.3" stroke="#000" stroke-width="4.2"/>
<line x1="1160" y1="175" x2="1171" y2="175" stroke="#000" stroke-width="4.2"/>
<line x1="1230.6" y1="756" x2="1230.6" y2="772" stroke="#000" stroke-width="4.2"/>
<text x="1230.6" y="816.5" font-family="'Liberation Sans', Arial, Helvetica, sans-serif" font-size="46" text-anchor="middle">400</text>
<line x1="1382.8" y1="756" x2="1382.8" y2="772" stroke="#000" stroke-width="4.2"/>
<text x="1382.8" y="816.5" font-family="'Liberation Sans', Arial, Helvetica, sans-serif" font-size="46" text-anchor="middle">450</text>
<line x1="1535" y1="756" x2="1535" y2="772" stroke="#000" stroke-width="4.2"/>
<text x="1535" y="816.5" font-family="'Liberation Sans', Arial, Helvetica, sans-serif" font-size="46" text-anchor="middle">500</text>
<line x1="1687.2" y1="756" x2="1687.2" y2="772" stroke="#000" stroke-width="4.2"/>
<text x="1687.2" y="816.5" font-family="'Liberation Sans', Arial, Helvetica, sans-serif" font-size="46" text-anchor="middle">550</text>
<line x1="1839.4" y1="756" x2="1839.4" y2="772" stroke="#000" stroke-width="4.2"/>
<text x="1839.4" y="816.5" font-family="'Liberation Sans', Arial, Helvetica, sans-serif" font-size="46" text-anchor="middle">600</text>
<line x1="1991.6" y1="756" x2="1991.6" y2="772" stroke="#000" stroke-width="4.2"/>
<text x="1991.6" y="816.5" font-family="'Liberation Sans', Arial, Helvetica, sans-serif" font-size="46" text-anchor="middle">650</text>
<line x1="2143.8" y1="756" x2="2143.8" y2="772" stroke="#000" stroke-width="4.2"/>
<text x="2143.8" y="816.5" font-family="'Liberation Sans', Arial, Helvetica, sans-serif" font-size="46" text-anchor="middle">700</text>
<line x1="1306.7" y1="756" x2="1306.7" y2="766" stroke="#000" stroke-width="4.2"/>
<line x1="1458.9" y1="756" x2="1458.9" y2="766" stroke="#000" stroke-width="4.2"/>
<line x1="1611.1" y1="756" x2="1611.1" y2="766" stroke="#000" stroke-width="4.2"/>
<line x1="1763.3" y1="756" x2="1763.3" y2="766" stroke="#000" stroke-width="4.2"/>
<line x1="1915.5" y1="756" x2="1915.5" y2="766" stroke="#000" stroke-width="4.2"/>
<line x1="2067.7" y1="756" x2="2067.7" y2="766" stroke="#000" stroke-width="4.2"/>
<text x="1657.5" y="876" font-family="'Liberation Sans', Arial, Helvetica, sans-serif" font-size="44.5" font-weight="bold" text-anchor="middle">Wavelength (nm)</text>
<text transform="translate(1048.6,409) rotate(-90)" text-anchor="middle" font-family="'Liberation Sans', Arial, Helvetica, sans-serif" font-size="46.5" font-weight="bold">Normalized EL intensity</text>
<line x1="1892" y1="88.5" x2="1986" y2="88.5" stroke="#ff2a26" stroke-width="5.8" stroke-linecap="round"/>
<rect x="1931.5" y="81.5" width="14" height="14" fill="#fff" stroke="#ff2a26" stroke-width="2.6"/>
<text x="1997" y="104" font-family="'Liberation Sans', Arial, Helvetica, sans-serif" font-size="46">6 V</text>
<line x1="1892" y1="153.6" x2="1986" y2="153.6" stroke="#00923f" stroke-width="5.8" stroke-linecap="round"/>
<circle cx="1938.5" cy="153.6" r="8" fill="#fff" stroke="#00923f" stroke-width="2.6"/>
<text x="1997" y="169.1" font-family="'Liberation Sans', Arial, Helvetica, sans-serif" font-size="46">7 V</text>
<line x1="1892" y1="219.7" x2="1986" y2="219.7" stroke="#3548a8" stroke-width="5.8" stroke-linecap="round"/>
<polygon points="1938.5,209.8 1929,226.3 1948,226.3" fill="#fff" stroke="#3548a8" stroke-width="2.6" stroke-linejoin="miter"/>
<text x="1997" y="235.2" font-family="'Liberation Sans', Arial, Helvetica, sans-serif" font-size="46">8 V</text>
<line x1="1892" y1="285.1" x2="1986" y2="285.1" stroke="#ff8a1c" stroke-width="5.8" stroke-linecap="round"/>
<polygon points="1938.5,295 1929,278.5 1948,278.5" fill="#fff" stroke="#ff8a1c" stroke-width="2.6" stroke-linejoin="miter"/>
<text x="1997" y="300.6" font-family="'Liberation Sans', Arial, Helvetica, sans-serif" font-size="46">9 V</text>
<text x="25" y="953" font-family="'Liberation Sans', Arial, Helvetica, sans-serif" font-size="56" font-weight="bold">(c)</text>
<path d="M152,1666V908.2M194.2,1666V908.2M236.4,1666V908.2M278.6,1666V950.3M320.8,1666V992.4M363,1666V1034.5M405.2,1666V1076.6M447.4,1666V1118.7M489.6,1666V1160.8M531.8,1666V1202.9M574,1666V1245M616.2,1666V1287.1M658.4,1666V1329.2M700.6,1666V1371.3M742.8,1666V1413.4M785,1666V1455.5M827.2,1666V1497.6M152,1666H827.2M152,1623.9H827.2M152,1581.8H827.2M152,1539.7H827.2M152,1497.6H827.2M152,1455.5H785M152,1413.4H742.8M152,1371.3H700.6M152,1329.2H658.4M152,1287.1H616.2M152,1245H574M152,1202.9H531.8M152,1160.8H489.6M152,1118.7H447.4M152,1076.6H405.2M152,1034.5H363M152,992.4H320.8M152,950.3H278.6M152,908.2H236.4" stroke="#ebe3e6" stroke-width="2" fill="none"/>
<path d="M236.4,908.2L827.2,1497.6" stroke="#e3e3e3" stroke-width="2.6" fill="none"/>
<defs><clipPath id="hs"><path d="M298.9,1661.8C298.9,1661.8 298.9,1661.8 298.9,1661.8C298.8,1661.8 298.7,1661.9 298.7,1661.9C298.6,1661.9 298.6,1661.9 298.5,1661.9C298.4,1661.9 298.3,1661.9 298.3,1662C298.2,1662 298.1,1662 298,1662C297.9,1662 297.8,1662 297.7,1662C297.5,1662 297.4,1662 297.3,1662C297.1,1661.9 296.9,1661.8 296.7,1661.7C296.4,1661.6 296.1,1661.4 295.7,1661.1C295.4,1660.9 295,1660.6 294.6,1660.2C294.1,1659.8 293.5,1659.3 292.9,1658.8C292.2,1658.2 291.6,1657.6 290.8,1656.8C289.9,1656.1 289.1,1655.3 288,1654.4C286.9,1653.4 285.6,1652.3 284.2,1651.1C282.7,1649.8 281.2,1648.6 279.4,1646.9C277.7,1645.2 275.7,1643.4 273.5,1641C271.4,1638.6 269.2,1636.3 266.4,1632.4C263.6,1628.5 260.4,1623.9 256.7,1617.3C253.1,1610.8 249.1,1603.4 244.5,1592.9C239.9,1582.4 234.8,1570.3 229.1,1554.3C223.3,1538.3 216.4,1519.8 210,1497C203.5,1474.2 196.7,1447.4 190.3,1417.6C184,1387.9 177.1,1352.7 171.8,1318.5C166.6,1284.3 161.7,1246.6 158.9,1212.7C156.2,1178.7 154.5,1144.4 155.3,1114.7C156.1,1084.9 158.8,1056.4 163.7,1034.3C168.7,1012.3 176.3,994 184.8,982.3C193.3,970.6 204.1,965.9 214.7,963.9C225.3,961.9 237.1,966.4 248.4,970.3C259.7,974.3 271.5,981.2 282.6,987.4C293.6,993.7 304.3,1000.7 314.8,1007.9C325.3,1015.1 335.5,1022.8 345.8,1030.9C356,1038.9 366.2,1047.4 376.3,1056.1C386.5,1064.8 396.5,1073.9 406.6,1083.1C416.6,1092.3 426.6,1101.7 436.7,1111.2C446.7,1120.7 456.9,1130.4 466.9,1140.2C476.9,1149.9 487,1159.8 496.9,1169.6C506.9,1179.4 517,1189.2 526.8,1198.9C536.7,1208.7 546.5,1218.4 556.1,1228C565.7,1237.5 575.3,1247 584.5,1256.3C593.8,1265.5 603,1274.6 611.8,1283.4C620.6,1292.2 629.3,1300.7 637.5,1308.8C645.6,1316.9 653.6,1324.9 660.8,1332.1C668.1,1339.4 674.8,1346 681.2,1352.4C687.6,1358.7 693.6,1364.7 699.1,1370.1C704.5,1375.5 709.4,1380.3 713.9,1384.8C718.4,1389.2 722.4,1393.2 726,1396.8C729.6,1400.4 732.7,1403.5 735.6,1406.4C738.5,1409.3 741,1411.7 743.3,1414C745.6,1416.3 747.6,1418.3 749.5,1420.1C751.4,1422 753.1,1423.7 754.6,1425.3C756.2,1426.8 757.6,1428.2 758.8,1429.5C760.1,1430.7 761.2,1431.8 762.2,1432.8C763.2,1433.7 764,1434.5 764.7,1435.3C765.5,1436 766.1,1436.7 766.7,1437.2C767.2,1437.8 767.7,1438.3 768.1,1438.7C768.5,1439.1 768.8,1439.3 769,1439.6C769.3,1439.9 769.6,1440.1 769.8,1440.3C770,1440.6 770.2,1440.7 770.4,1440.9C770.6,1441.1 770.8,1441.3 771,1441.5C771.2,1441.7 771.4,1441.9 771.5,1442C771.6,1442.2 771.7,1442.3 771.8,1442.4C771.9,1442.4 772,1442.5 772,1442.5C772,1442.6 772.1,1442.6 772.1,1442.6Z"/></clipPath><filter id="cblur" x="0" y="0" width="1" height="1"><feGaussianBlur stdDeviation="6"/></filter></defs>
<g clip-path="url(#hs)"><g filter="url(#cblur)"><g transform="translate(140,940) scale(10)" class="cm"><rect x="0" y="0" fill="#00bea1"/><rect x="1" y="0" fill="#00bd9b"/><rect x="2" y="0" fill="#00bd9a"/><rect x="3" y="0" fill="#00bd99"/><rect x="4" y="0" fill="#00bc98"/><rect x="5" y="0" fill="#00bc97"/><rect x="6" y="0" fill="#00bb92"/><rect x="7" y="0" fill="#00bb91"/><rect x="8" y="0" fill="#00bc95"/><rect x="9" y="0" fill="#00bc94"/><rect x="10" y="0" fill="#00bc93"/><rect x="11" y="0" fill="#00bc91"/><rect x="12" y="0" fill="#01bc8f"/><rect x="13" y="0" fill="#00bd8b"/><rect x="14" y="0" fill="#01bd86"/><rect x="15" y="0" fill="#01bd80"/><rect x="16" y="0" fill="#01be76"/><rect x="17" y="0" fill="#02be6e"/><rect x="18" y="0" fill="#03be66"/><rect x="19" y="0" fill="#02bf59"/><rect x="20" y="0" fill="#04bf50"/><rect x="21" y="0" fill="#07c048"/><rect x="22" y="0" fill="#08c03c"/><rect x="23" y="0" fill="#0dc035"/><rect x="24" y="0" fill="#13c12f"/><rect x="25" y="0" fill="#1ac02b"/><rect x="26" y="0" fill="#23c127"/><rect x="27" y="0" fill="#2cc223"/><rect x="28" y="0" fill="#3bc125"/><rect x="29" y="0" fill="#46c222"/><rect x="30" y="0" fill="#51c420"/><rect x="31" y="0" fill="#5bc51e"/><rect x="32" y="0" fill="#6ec623"/><rect x="33" y="0" fill="#79c821"/><rect x="34" y="0" fill="#83c91f"/><rect x="35" y="0" fill="#8ccb1d"/><rect x="36" y="0" fill="#98cf1f"/><rect x="37" y="0" fill="#a0d01d"/><rect x="38" y="0" fill="#a8d21a"/><rect x="39" y="0" fill="#aed417"/><rect x="40" y="0" fill="#b5d514"/><rect x="41" y="0" fill="#bcd717"/><rect x="42" y="0" fill="#c1d814"/><rect x="43" y="0" fill="#c5d911"/><rect x="44" y="0" fill="#c9da0e"/><rect x="45" y="0" fill="#cdda0b"/><rect x="46" y="0" fill="#d0da08"/><rect x="47" y="0" fill="#d5da0f"/><rect x="48" y="0" fill="#d7db0d"/><rect x="49" y="0" fill="#d9db0a"/><rect x="50" y="0" fill="#dbdb07"/><rect x="51" y="0" fill="#ddda05"/><rect x="52" y="0" fill="#deda02"/><rect x="53" y="0" fill="#e0d900"/><rect x="54" y="0" fill="#e1d900"/><rect x="55" y="0" fill="#e4d80c"/><rect x="56" y="0" fill="#e5d70a"/><rect x="57" y="0" fill="#e6d608"/><rect x="58" y="0" fill="#e8d606"/><rect x="59" y="0" fill="#e9d404"/><rect x="60" y="0" fill="#ead302"/><rect x="61" y="0" fill="#ebd200"/><rect x="62" y="0" fill="#ecd100"/><rect x="63" y="0" fill="#edd000"/><rect x="64" y="0" fill="#eece00"/><rect x="65" y="0" fill="#efcf0f"/><rect x="0" y="1" fill="#00bfa3"/><rect x="1" y="1" fill="#00be9e"/><rect x="2" y="1" fill="#00bd9d"/><rect x="3" y="1" fill="#00bd9c"/><rect x="4" y="1" fill="#00bc96"/><rect x="5" y="1" fill="#00bc95"/><rect x="6" y="1" fill="#00bb94"/><rect x="7" y="1" fill="#00bc93"/><rect x="8" y="1" fill="#00bc93"/><rect x="9" y="1" fill="#00bc92"/><rect x="10" y="1" fill="#00bc91"/><rect x="11" y="1" fill="#00bc93"/><rect x="12" y="1" fill="#00bc91"/><rect x="13" y="1" fill="#00bc8d"/><rect x="14" y="1" fill="#00bd87"/><rect x="15" y="1" fill="#01bd81"/><rect x="16" y="1" fill="#02bd7a"/><rect x="17" y="1" fill="#01be6e"/><rect x="18" y="1" fill="#02be66"/><rect x="19" y="1" fill="#04bf5e"/><rect x="20" y="1" fill="#02bf50"/><rect x="21" y="1" fill="#05c048"/><rect x="22" y="1" fill="#09c03f"/><rect x="23" y="1" fill="#0cc036"/><rect x="24" y="1" fill="#12c030"/><rect x="25" y="1" fill="#19c12a"/><rect x="26" y="1" fill="#23c028"/><rect x="27" y="1" fill="#2dc125"/><rect x="28" y="1" fill="#37c222"/><rect x="29" y="1" fill="#48c224"/><rect x="30" y="1" fill="#53c322"/><rect x="31" y="1" fill="#5ec520"/><rect x="32" y="1" fill="#69c61e"/><rect x="33" y="1" fill="#7bc822"/><rect x="34" y="1" fill="#85ca20"/><rect x="35" y="1" fill="#8ecc1e"/><rect x="36" y="1" fill="#97ce1b"/><rect x="37" y="1" fill="#a2d11d"/><rect x="38" y="1" fill="#aad31a"/><rect x="39" y="1" fill="#b1d517"/><rect x="40" y="1" fill="#b7d614"/><rect x="41" y="1" fill="#bcd711"/><rect x="42" y="1" fill="#c3d815"/><rect x="43" y="1" fill="#c7d912"/><rect x="44" y="1" fill="#cbda0f"/><rect x="45" y="1" fill="#ceda0c"/><rect x="46" y="1" fill="#d1da09"/><rect x="47" y="1" fill="#d4db06"/><rect x="48" y="1" fill="#d8db0e"/><rect x="49" y="1" fill="#dadb0b"/><rect x="50" y="1" fill="#dcda09"/><rect x="51" y="1" fill="#deda06"/><rect x="52" y="1" fill="#dfda04"/><rect x="53" y="1" fill="#e1d901"/><rect x="54" y="1" fill="#e2d800"/><rect x="55" y="1" fill="#e4d800"/><rect x="56" y="1" fill="#e7d70b"/><rect x="57" y="1" fill="#e8d609"/><rect x="58" y="1" fill="#e9d507"/><rect x="59" y="1" fill="#ead405"/><rect x="60" y="1" fill="#ebd304"/><rect x="61" y="1" fill="#ecd102"/><rect x="62" y="1" fill="#edd000"/><rect x="63" y="1" fill="#eecf00"/><rect x="64" y="1" fill="#efce00"/><rect x="65" y="1" fill="#f0cc00"/><rect x="0" y="2" fill="#00bfa6"/><rect x="1" y="2" fill="#00bea0"/><rect x="2" y="2" fill="#00be9f"/><rect x="3" y="2" fill="#00bd9a"/><rect x="4" y="2" fill="#00bc99"/><rect x="5" y="2" fill="#00bc98"/><rect x="6" y="2" fill="#00bc97"/><rect x="7" y="2" fill="#00bb91"/><rect x="8" y="2" fill="#00bc95"/><rect x="9" y="2" fill="#00bc94"/><rect x="10" y="2" fill="#00bc93"/><rect x="11" y="2" fill="#00bc92"/><rect x="12" y="2" fill="#00bc90"/><rect x="13" y="2" fill="#00bd8f"/><rect x="14" y="2" fill="#00bd8a"/><rect x="15" y="2" fill="#01bd85"/><rect x="16" y="2" fill="#01bd7b"/><rect x="17" y="2" fill="#02be73"/><rect x="18" y="2" fill="#03be6b"/><rect x="19" y="2" fill="#02bf5e"/><rect x="20" y="2" fill="#04bf55"/><rect x="21" y="2" fill="#04bf48"/><rect x="22" y="2" fill="#07c03f"/><rect x="23" y="2" fill="#0cc137"/><rect x="24" y="2" fill="#11c031"/><rect x="25" y="2" fill="#19c12b"/><rect x="26" y="2" fill="#21c127"/><rect x="27" y="2" fill="#2dc126"/><rect x="28" y="2" fill="#38c223"/><rect x="29" y="2" fill="#43c320"/><rect x="30" y="2" fill="#55c323"/><rect x="31" y="2" fill="#61c521"/><rect x="32" y="2" fill="#6cc620"/><rect x="33" y="2" fill="#77c81e"/><rect x="34" y="2" fill="#87ca21"/><rect x="35" y="2" fill="#91cc1f"/><rect x="36" y="2" fill="#99ce1c"/><rect x="37" y="2" fill="#a1d019"/><rect x="38" y="2" fill="#acd31b"/><rect x="39" y="2" fill="#b3d518"/><rect x="40" y="2" fill="#b9d715"/><rect x="41" y="2" fill="#bed811"/><rect x="42" y="2" fill="#c3d80e"/><rect x="43" y="2" fill="#c9d912"/><rect x="44" y="2" fill="#cdda0f"/><rect x="45" y="2" fill="#d0da0c"/><rect x="46" y="2" fill="#d3db09"/><rect x="47" y="2" fill="#d5db06"/><rect x="48" y="2" fill="#d8db04"/><rect x="49" y="2" fill="#dcda0c"/><rect x="50" y="2" fill="#ddda0a"/><rect x="51" y="2" fill="#dfda07"/><rect x="52" y="2" fill="#e0d905"/><rect x="53" y="2" fill="#e2d902"/><rect x="54" y="2" fill="#e3d800"/><rect x="55" y="2" fill="#e5d700"/><rect x="56" y="2" fill="#e6d600"/><rect x="57" y="2" fill="#e9d50b"/><rect x="58" y="2" fill="#ead409"/><rect x="59" y="2" fill="#ebd307"/><rect x="60" y="2" fill="#ecd206"/><rect x="61" y="2" fill="#edd004"/><rect x="62" y="2" fill="#eecf02"/><rect x="63" y="2" fill="#efce00"/><rect x="64" y="2" fill="#f0cd00"/><rect x="65" y="2" fill="#f0cb00"/><rect x="0" y="3" fill="#00bfa5"/><rect x="1" y="3" fill="#00bfa3"/><rect x="2" y="3" fill="#00bfa2"/><rect x="3" y="3" fill="#00bd9c"/><rect x="4" y="3" fill="#00bd9b"/><rect x="5" y="3" fill="#00bd9a"/><rect x="6" y="3" fill="#00bc95"/><rect x="7" y="3" fill="#00bb94"/><rect x="8" y="3" fill="#00bb93"/><rect x="9" y="3" fill="#00bc92"/><rect x="10" y="3" fill="#00bc91"/><rect x="11" y="3" fill="#01bc90"/><rect x="12" y="3" fill="#00bc92"/><rect x="13" y="3" fill="#00bc90"/><rect x="14" y="3" fill="#01bc8c"/><rect x="15" y="3" fill="#00bd85"/><rect x="16" y="3" fill="#01bd7f"/><rect x="17" y="3" fill="#01be74"/><rect x="18" y="3" fill="#02be6c"/><rect x="19" y="3" fill="#03bf63"/><rect x="20" y="3" fill="#02bf55"/><rect x="21" y="3" fill="#05c04c"/><rect x="22" y="3" fill="#06bf40"/><rect x="23" y="3" fill="#0bc038"/><rect x="24" y="3" fill="#11c131"/><rect x="25" y="3" fill="#18c02c"/><rect x="26" y="3" fill="#21c128"/><rect x="27" y="3" fill="#2bc224"/><rect x="28" y="3" fill="#3ac124"/><rect x="29" y="3" fill="#45c322"/><rect x="30" y="3" fill="#51c41f"/><rect x="31" y="3" fill="#64c523"/><rect x="32" y="3" fill="#6fc721"/><rect x="33" y="3" fill="#7ac820"/><rect x="34" y="3" fill="#85ca1d"/><rect x="35" y="3" fill="#93cd20"/><rect x="36" y="3" fill="#9ccf1d"/><rect x="37" y="3" fill="#a4d11a"/><rect x="38" y="3" fill="#abd316"/><rect x="39" y="3" fill="#b5d618"/><rect x="40" y="3" fill="#bbd715"/><rect x="41" y="3" fill="#c0d812"/><rect x="42" y="3" fill="#c5d90f"/><rect x="43" y="3" fill="#c9d90b"/><rect x="44" y="3" fill="#ceda10"/><rect x="45" y="3" fill="#d2da0d"/><rect x="46" y="3" fill="#d4db0a"/><rect x="47" y="3" fill="#d7db07"/><rect x="48" y="3" fill="#d9db04"/><rect x="49" y="3" fill="#dbda02"/><rect x="50" y="3" fill="#ddda00"/><rect x="51" y="3" fill="#e0da09"/><rect x="52" y="3" fill="#e1d906"/><rect x="53" y="3" fill="#e3d804"/><rect x="54" y="3" fill="#e4d802"/><rect x="55" y="3" fill="#e6d700"/><rect x="56" y="3" fill="#e7d500"/><rect x="57" y="3" fill="#e8d400"/><rect x="58" y="3" fill="#ebd30c"/><rect x="59" y="3" fill="#ecd20a"/><rect x="60" y="3" fill="#edd108"/><rect x="61" y="3" fill="#eed006"/><rect x="62" y="3" fill="#efce04"/><rect x="63" y="3" fill="#efcd01"/><rect x="64" y="3" fill="#f0cc00"/><rect x="65" y="3" fill="#f1cb00"/><rect x="0" y="4" fill="#00c0a7"/><rect x="1" y="4" fill="#00bfa6"/><rect x="2" y="4" fill="#00bea1"/><rect x="3" y="4" fill="#00be9f"/><rect x="4" y="4" fill="#00bd9a"/><rect x="5" y="4" fill="#00bc99"/><rect x="6" y="4" fill="#00bc98"/><rect x="7" y="4" fill="#00bc97"/><rect x="8" y="4" fill="#00bc96"/><rect x="9" y="4" fill="#00bc95"/><rect x="10" y="4" fill="#00bc94"/><rect x="11" y="4" fill="#00bc93"/><rect x="12" y="4" fill="#00bc91"/><rect x="13" y="4" fill="#01bc8f"/><rect x="14" y="4" fill="#00bd8e"/><rect x="15" y="4" fill="#01bd89"/><rect x="16" y="4" fill="#00bd80"/><rect x="17" y="4" fill="#01be78"/><rect x="18" y="4" fill="#03be70"/><rect x="19" y="4" fill="#02be63"/><rect x="20" y="4" fill="#04bf5a"/><rect x="21" y="4" fill="#03bf4c"/><rect x="22" y="4" fill="#07c043"/><rect x="23" y="4" fill="#09bf39"/><rect x="24" y="4" fill="#10c032"/><rect x="25" y="4" fill="#17c12c"/><rect x="26" y="4" fill="#21c029"/><rect x="27" y="4" fill="#2bc125"/><rect x="28" y="4" fill="#36c222"/><rect x="29" y="4" fill="#47c223"/><rect x="30" y="4" fill="#53c421"/><rect x="31" y="4" fill="#5fc51f"/><rect x="32" y="4" fill="#72c723"/><rect x="33" y="4" fill="#7dc921"/><rect x="34" y="4" fill="#88ca1f"/><rect x="35" y="4" fill="#92cc1c"/><rect x="36" y="4" fill="#9ed01d"/><rect x="37" y="4" fill="#a6d21a"/><rect x="38" y="4" fill="#aed417"/><rect x="39" y="4" fill="#b5d514"/><rect x="40" y="4" fill="#bdd716"/><rect x="41" y="4" fill="#c2d813"/><rect x="42" y="4" fill="#c7d90f"/><rect x="43" y="4" fill="#cbda0c"/><rect x="44" y="4" fill="#ceda09"/><rect x="45" y="4" fill="#d3da0e"/><rect x="46" y="4" fill="#d6db0b"/><rect x="47" y="4" fill="#d8db08"/><rect x="48" y="4" fill="#dadb05"/><rect x="49" y="4" fill="#dcda03"/><rect x="50" y="4" fill="#deda00"/><rect x="51" y="4" fill="#e0d900"/><rect x="52" y="4" fill="#e3d908"/><rect x="53" y="4" fill="#e4d806"/><rect x="54" y="4" fill="#e5d703"/><rect x="55" y="4" fill="#e7d601"/><rect x="56" y="4" fill="#e8d500"/><rect x="57" y="4" fill="#e9d300"/><rect x="58" y="4" fill="#ebd200"/><rect x="59" y="4" fill="#edd10c"/><rect x="60" y="4" fill="#eed00a"/><rect x="61" y="4" fill="#eecf08"/><rect x="62" y="4" fill="#efcd06"/><rect x="63" y="4" fill="#f0cc04"/><rect x="64" y="4" fill="#f1cb01"/><rect x="65" y="4" fill="#f2ca00"/><rect x="0" y="5" fill="#00c0aa"/><rect x="1" y="5" fill="#00c0a8"/><rect x="2" y="5" fill="#00bfa3"/><rect x="3" y="5" fill="#00bfa2"/><rect x="4" y="5" fill="#00be9d"/><rect x="5" y="5" fill="#00bd9b"/><rect x="6" y="5" fill="#00bd9a"/><rect x="7" y="5" fill="#00bd99"/><rect x="8" y="5" fill="#00bd98"/><rect x="9" y="5" fill="#00bd98"/><rect x="10" y="5" fill="#00bd97"/><rect x="11" y="5" fill="#00bc95"/><rect x="12" y="5" fill="#00bc94"/><rect x="13" y="5" fill="#00bc92"/><rect x="14" y="5" fill="#00bc8f"/><rect x="15" y="5" fill="#00bd8a"/><rect x="16" y="5" fill="#01bd84"/><rect x="17" y="5" fill="#02bd7c"/><rect x="18" y="5" fill="#01be71"/><rect x="19" y="5" fill="#03be68"/><rect x="20" y="5" fill="#02bf5a"/><rect x="21" y="5" fill="#05bf51"/><rect x="22" y="5" fill="#05bf43"/><rect x="23" y="5" fill="#0ac03a"/><rect x="24" y="5" fill="#10c133"/><rect x="25" y="5" fill="#16c02d"/><rect x="26" y="5" fill="#1fc128"/><rect x="27" y="5" fill="#2cc026"/><rect x="28" y="5" fill="#37c223"/><rect x="29" y="5" fill="#43c320"/><rect x="30" y="5" fill="#56c423"/><rect x="31" y="5" fill="#62c521"/><rect x="32" y="5" fill="#6ec71f"/><rect x="33" y="5" fill="#80c922"/><rect x="34" y="5" fill="#8acb20"/><rect x="35" y="5" fill="#94cd1d"/><rect x="36" y="5" fill="#9dcf1a"/><rect x="37" y="5" fill="#a9d31b"/><rect x="38" y="5" fill="#b0d418"/><rect x="39" y="5" fill="#b7d614"/><rect x="40" y="5" fill="#bdd711"/><rect x="41" y="5" fill="#c4d913"/><rect x="42" y="5" fill="#c8d910"/><rect x="43" y="5" fill="#ccda0d"/><rect x="44" y="5" fill="#d0da09"/><rect x="45" y="5" fill="#d3da06"/><rect x="46" y="5" fill="#d7db0c"/><rect x="47" y="5" fill="#dadb09"/><rect x="48" y="5" fill="#dcda07"/><rect x="49" y="5" fill="#deda04"/><rect x="50" y="5" fill="#dfda01"/><rect x="51" y="5" fill="#e1d900"/><rect x="52" y="5" fill="#e3d800"/><rect x="53" y="5" fill="#e5d708"/><rect x="54" y="5" fill="#e7d605"/><rect x="55" y="5" fill="#e8d503"/><rect x="56" y="5" fill="#e9d401"/><rect x="57" y="5" fill="#ead300"/><rect x="58" y="5" fill="#ecd100"/><rect x="59" y="5" fill="#edd000"/><rect x="60" y="5" fill="#eecf0c"/><rect x="61" y="5" fill="#efce0a"/><rect x="62" y="5" fill="#f0cd08"/><rect x="63" y="5" fill="#f1cb06"/><rect x="64" y="5" fill="#f2ca03"/><rect x="65" y="5" fill="#f3c901"/><rect x="0" y="6" fill="#00c1ac"/><rect x="1" y="6" fill="#00c0a8"/><rect x="2" y="6" fill="#00c0a6"/><rect x="3" y="6" fill="#00bfa5"/><rect x="4" y="6" fill="#00bea0"/><rect x="5" y="6" fill="#00be9e"/><rect x="6" y="6" fill="#00bd9d"/><rect x="7" y="6" fill="#00bd9c"/><rect x="8" y="6" fill="#00bd9b"/><rect x="9" y="6" fill="#00bd9a"/><rect x="10" y="6" fill="#00bd99"/><rect x="11" y="6" fill="#00bd98"/><rect x="12" y="6" fill="#00bd96"/><rect x="13" y="6" fill="#00bd94"/><rect x="14" y="6" fill="#00bd91"/><rect x="15" y="6" fill="#00bd8c"/><rect x="16" y="6" fill="#01bd87"/><rect x="17" y="6" fill="#01bd7d"/><rect x="18" y="6" fill="#02be75"/><rect x="19" y="6" fill="#01be68"/><rect x="20" y="6" fill="#03bf5f"/><rect x="21" y="6" fill="#03bf51"/><rect x="22" y="6" fill="#06c047"/><rect x="23" y="6" fill="#08c03b"/><rect x="24" y="6" fill="#0ec033"/><rect x="25" y="6" fill="#16c12d"/><rect x="26" y="6" fill="#1fc029"/><rect x="27" y="6" fill="#29c125"/><rect x="28" y="6" fill="#39c125"/><rect x="29" y="6" fill="#45c322"/><rect x="30" y="6" fill="#52c41f"/><rect x="31" y="6" fill="#65c522"/><rect x="32" y="6" fill="#72c721"/><rect x="33" y="6" fill="#7ec91f"/><rect x="34" y="6" fill="#8dcc21"/><rect x="35" y="6" fill="#97ce1e"/><rect x="36" y="6" fill="#a0d01b"/><rect x="37" y="6" fill="#a8d217"/><rect x="38" y="6" fill="#b3d518"/><rect x="39" y="6" fill="#b9d715"/><rect x="40" y="6" fill="#bfd811"/><rect x="41" y="6" fill="#c4d90e"/><rect x="42" y="6" fill="#cada11"/><rect x="43" y="6" fill="#ceda0d"/><rect x="44" y="6" fill="#d2da0a"/><rect x="45" y="6" fill="#d5db07"/><rect x="46" y="6" fill="#d7db04"/><rect x="47" y="6" fill="#dbdb0b"/><rect x="48" y="6" fill="#ddda08"/><rect x="49" y="6" fill="#dfda05"/><rect x="50" y="6" fill="#e0d902"/><rect x="51" y="6" fill="#e2d900"/><rect x="52" y="6" fill="#e4d800"/><rect x="53" y="6" fill="#e5d600"/><rect x="54" y="6" fill="#e8d607"/><rect x="55" y="6" fill="#e9d405"/><rect x="56" y="6" fill="#ead303"/><rect x="57" y="6" fill="#ebd201"/><rect x="58" y="6" fill="#edd000"/><rect x="59" y="6" fill="#eecf00"/><rect x="60" y="6" fill="#efcd00"/><rect x="61" y="6" fill="#f0cd0c"/><rect x="62" y="6" fill="#f1cc0a"/><rect x="63" y="6" fill="#f2ca08"/><rect x="64" y="6" fill="#f3c906"/><rect x="65" y="6" fill="#f3c803"/><rect x="0" y="7" fill="#00c1af"/><rect x="1" y="7" fill="#00c0ab"/><rect x="2" y="7" fill="#00c0a9"/><rect x="3" y="7" fill="#00bfa4"/><rect x="4" y="7" fill="#00bfa2"/><rect x="5" y="7" fill="#00bea1"/><rect x="6" y="7" fill="#00bea0"/><rect x="7" y="7" fill="#00be9f"/><rect x="8" y="7" fill="#00be9e"/><rect x="9" y="7" fill="#00be9c"/><rect x="10" y="7" fill="#00bd9b"/><rect x="11" y="7" fill="#00bd9a"/><rect x="12" y="7" fill="#00bd98"/><rect x="13" y="7" fill="#00bd95"/><rect x="14" y="7" fill="#00bd92"/><rect x="15" y="7" fill="#00bd8e"/><rect x="16" y="7" fill="#00bd88"/><rect x="17" y="7" fill="#01bd81"/><rect x="18" y="7" fill="#01be76"/><rect x="19" y="7" fill="#02be6d"/><rect x="20" y="7" fill="#01bf5f"/><rect x="21" y="7" fill="#04bf55"/><rect x="22" y="7" fill="#04bf47"/><rect x="23" y="7" fill="#08c03d"/><rect x="24" y="7" fill="#0ec135"/><rect x="25" y="7" fill="#15c02e"/><rect x="26" y="7" fill="#1ec128"/><rect x="27" y="7" fill="#2ac126"/><rect x="28" y="7" fill="#36c222"/><rect x="29" y="7" fill="#48c223"/><rect x="30" y="7" fill="#55c421"/><rect x="31" y="7" fill="#62c51f"/><rect x="32" y="7" fill="#75c722"/><rect x="33" y="7" fill="#81c920"/><rect x="34" y="7" fill="#8ccb1e"/><rect x="35" y="7" fill="#99cf1e"/><rect x="36" y="7" fill="#a3d11b"/><rect x="37" y="7" fill="#abd318"/><rect x="38" y="7" fill="#b3d514"/><rect x="39" y="7" fill="#bbd715"/><rect x="40" y="7" fill="#c1d812"/><rect x="41" y="7" fill="#c6d90e"/><rect x="42" y="7" fill="#cbda0b"/><rect x="43" y="7" fill="#d0da0e"/><rect x="44" y="7" fill="#d3db0b"/><rect x="45" y="7" fill="#d6db08"/><rect x="46" y="7" fill="#d9db05"/><rect x="47" y="7" fill="#dbda01"/><rect x="48" y="7" fill="#deda09"/><rect x="49" y="7" fill="#e0da07"/><rect x="50" y="7" fill="#e2d904"/><rect x="51" y="7" fill="#e3d801"/><rect x="52" y="7" fill="#e5d700"/><rect x="53" y="7" fill="#e6d600"/><rect x="54" y="7" fill="#e8d400"/><rect x="55" y="7" fill="#ead307"/><rect x="56" y="7" fill="#ebd205"/><rect x="57" y="7" fill="#ecd103"/><rect x="58" y="7" fill="#eecf01"/><rect x="59" y="7" fill="#efce00"/><rect x="60" y="7" fill="#f0cc00"/><rect x="61" y="7" fill="#f1cb00"/><rect x="62" y="7" fill="#f2cb0c"/><rect x="63" y="7" fill="#f3ca0a"/><rect x="64" y="7" fill="#f3c808"/><rect x="65" y="7" fill="#f4c705"/><rect x="0" y="8" fill="#00c2b1"/><rect x="1" y="8" fill="#00c1ad"/><rect x="2" y="8" fill="#00c1ac"/><rect x="3" y="8" fill="#00c0a7"/><rect x="4" y="8" fill="#00bfa5"/><rect x="5" y="8" fill="#00bfa4"/><rect x="6" y="8" fill="#00bfa2"/><rect x="7" y="8" fill="#00bea1"/><rect x="8" y="8" fill="#00bea0"/><rect x="9" y="8" fill="#00be9f"/><rect x="10" y="8" fill="#00be9d"/><rect x="11" y="8" fill="#00bd9b"/><rect x="12" y="8" fill="#00bd99"/><rect x="13" y="8" fill="#00bd97"/><rect x="14" y="8" fill="#00bd93"/><rect x="15" y="8" fill="#00bd8e"/><rect x="16" y="8" fill="#00bd89"/><rect x="17" y="8" fill="#00bd82"/><rect x="18" y="8" fill="#01bd7a"/><rect x="19" y="8" fill="#03be71"/><rect x="20" y="8" fill="#02be64"/><rect x="21" y="8" fill="#05bf5a"/><rect x="22" y="8" fill="#05c04b"/><rect x="23" y="8" fill="#09c041"/><rect x="24" y="8" fill="#0dc035"/><rect x="25" y="8" fill="#14c12e"/><rect x="26" y="8" fill="#1dc029"/><rect x="27" y="8" fill="#28c125"/><rect x="28" y="8" fill="#37c124"/><rect x="29" y="8" fill="#44c321"/><rect x="30" y="8" fill="#58c423"/><rect x="31" y="8" fill="#65c521"/><rect x="32" y="8" fill="#72c71f"/><rect x="33" y="8" fill="#84ca21"/><rect x="34" y="8" fill="#8fcc1f"/><rect x="35" y="8" fill="#99ce1b"/><rect x="36" y="8" fill="#a5d21c"/><rect x="37" y="8" fill="#aed418"/><rect x="38" y="8" fill="#b5d615"/><rect x="39" y="8" fill="#bcd711"/><rect x="40" y="8" fill="#c3d812"/><rect x="41" y="8" fill="#c8d90f"/><rect x="42" y="8" fill="#cdda0b"/><rect x="43" y="8" fill="#d0da08"/><rect x="44" y="8" fill="#d5db0c"/><rect x="45" y="8" fill="#d8db09"/><rect x="46" y="8" fill="#dadb06"/><rect x="47" y="8" fill="#dcda03"/><rect x="48" y="8" fill="#deda00"/><rect x="49" y="8" fill="#e1d908"/><rect x="50" y="8" fill="#e3d806"/><rect x="51" y="8" fill="#e4d803"/><rect x="52" y="8" fill="#e6d601"/><rect x="53" y="8" fill="#e7d500"/><rect x="54" y="8" fill="#e9d400"/><rect x="55" y="8" fill="#ead200"/><rect x="56" y="8" fill="#ecd108"/><rect x="57" y="8" fill="#edd005"/><rect x="58" y="8" fill="#efce03"/><rect x="59" y="8" fill="#f0cd01"/><rect x="60" y="8" fill="#f1cb00"/><rect x="61" y="8" fill="#f2ca00"/><rect x="62" y="8" fill="#f3c800"/><rect x="63" y="8" fill="#f3c90c"/><rect x="64" y="8" fill="#f4c70a"/><rect x="65" y="8" fill="#f5c608"/><rect x="0" y="9" fill="#00c2b4"/><rect x="1" y="9" fill="#00c1b0"/><rect x="2" y="9" fill="#00c1ac"/><rect x="3" y="9" fill="#00c0aa"/><rect x="4" y="9" fill="#00c0a8"/><rect x="5" y="9" fill="#00bfa7"/><rect x="6" y="9" fill="#00bfa5"/><rect x="7" y="9" fill="#00bfa4"/><rect x="8" y="9" fill="#00bfa2"/><rect x="9" y="9" fill="#00bea1"/><rect x="10" y="9" fill="#00be9f"/><rect x="11" y="9" fill="#00be9d"/><rect x="12" y="9" fill="#00bd9b"/><rect x="13" y="9" fill="#00bd98"/><rect x="14" y="9" fill="#00bd94"/><rect x="15" y="9" fill="#00bd8f"/><rect x="16" y="9" fill="#00bd8a"/><rect x="17" y="9" fill="#00bd83"/><rect x="18" y="9" fill="#00bd7b"/><rect x="19" y="9" fill="#01be72"/><rect x="20" y="9" fill="#03be68"/><rect x="21" y="9" fill="#02bf5a"/><rect x="22" y="9" fill="#05c04f"/><rect x="23" y="9" fill="#07c041"/><rect x="24" y="9" fill="#0dc137"/><rect x="25" y="9" fill="#13c02f"/><rect x="26" y="9" fill="#1cc129"/><rect x="27" y="9" fill="#28c126"/><rect x="28" y="9" fill="#35c222"/><rect x="29" y="9" fill="#47c223"/><rect x="30" y="9" fill="#54c420"/><rect x="31" y="9" fill="#68c622"/><rect x="32" y="9" fill="#76c721"/><rect x="33" y="9" fill="#82c91e"/><rect x="34" y="9" fill="#91cd20"/><rect x="35" y="9" fill="#9ccf1c"/><rect x="36" y="9" fill="#a5d119"/><rect x="37" y="9" fill="#b0d519"/><rect x="38" y="9" fill="#b8d615"/><rect x="39" y="9" fill="#bed811"/><rect x="40" y="9" fill="#c4d90d"/><rect x="41" y="9" fill="#cada10"/><rect x="42" y="9" fill="#ceda0c"/><rect x="43" y="9" fill="#d2da08"/><rect x="44" y="9" fill="#d5db05"/><rect x="45" y="9" fill="#d9db0a"/><rect x="46" y="9" fill="#dcda07"/><rect x="47" y="9" fill="#deda04"/><rect x="48" y="9" fill="#e0d901"/><rect x="49" y="9" fill="#e2d900"/><rect x="50" y="9" fill="#e4d808"/><rect x="51" y="9" fill="#e6d705"/><rect x="52" y="9" fill="#e7d603"/><rect x="53" y="9" fill="#e9d400"/><rect x="54" y="9" fill="#ead300"/><rect x="55" y="9" fill="#ecd100"/><rect x="56" y="9" fill="#edd000"/><rect x="57" y="9" fill="#eecf08"/><rect x="58" y="9" fill="#f0cd05"/><rect x="59" y="9" fill="#f1cc03"/><rect x="60" y="9" fill="#f2ca00"/><rect x="61" y="9" fill="#f2c900"/><rect x="62" y="9" fill="#f3c700"/><rect x="63" y="9" fill="#f4c600"/><rect x="64" y="9" fill="#f5c60c"/><rect x="65" y="9" fill="#f6c50a"/><rect x="0" y="10" fill="#00c2b6"/><rect x="1" y="10" fill="#00c2b3"/><rect x="2" y="10" fill="#00c1af"/><rect x="3" y="10" fill="#00c1ad"/><rect x="4" y="10" fill="#00c0ab"/><rect x="5" y="10" fill="#00c0a9"/><rect x="6" y="10" fill="#00c0a8"/><rect x="7" y="10" fill="#00bfa6"/><rect x="8" y="10" fill="#00bfa4"/><rect x="9" y="10" fill="#00bfa2"/><rect x="10" y="10" fill="#00bea1"/><rect x="11" y="10" fill="#00be9f"/><rect x="12" y="10" fill="#00be9c"/><rect x="13" y="10" fill="#00bd99"/><rect x="14" y="10" fill="#00bd95"/><rect x="15" y="10" fill="#00bd90"/><rect x="16" y="10" fill="#00bd8a"/><rect x="17" y="10" fill="#00bd83"/><rect x="18" y="10" fill="#00bd7b"/><rect x="19" y="10" fill="#00be72"/><rect x="20" y="10" fill="#01be68"/><rect x="21" y="10" fill="#03bf5e"/><rect x="22" y="10" fill="#03bf4f"/><rect x="23" y="10" fill="#07c044"/><rect x="24" y="10" fill="#0bc038"/><rect x="25" y="10" fill="#12c130"/><rect x="26" y="10" fill="#1bc02a"/><rect x="27" y="10" fill="#27c125"/><rect x="28" y="10" fill="#36c124"/><rect x="29" y="10" fill="#44c320"/><rect x="30" y="10" fill="#58c422"/><rect x="31" y="10" fill="#66c620"/><rect x="32" y="10" fill="#79c822"/><rect x="33" y="10" fill="#86ca20"/><rect x="34" y="10" fill="#91cc1d"/><rect x="35" y="10" fill="#9fd01d"/><rect x="36" y="10" fill="#a8d219"/><rect x="37" y="10" fill="#b1d415"/><rect x="38" y="10" fill="#bad716"/><rect x="39" y="10" fill="#c1d812"/><rect x="40" y="10" fill="#c6d90e"/><rect x="41" y="10" fill="#cbda0a"/><rect x="42" y="10" fill="#d0da0d"/><rect x="43" y="10" fill="#d4db09"/><rect x="44" y="10" fill="#d7db06"/><rect x="45" y="10" fill="#dada02"/><rect x="46" y="10" fill="#ddda08"/><rect x="47" y="10" fill="#dfda05"/><rect x="48" y="10" fill="#e1d902"/><rect x="49" y="10" fill="#e3d800"/><rect x="50" y="10" fill="#e4d700"/><rect x="51" y="10" fill="#e7d607"/><rect x="52" y="10" fill="#e9d505"/><rect x="53" y="10" fill="#ead302"/><rect x="54" y="10" fill="#ebd200"/><rect x="55" y="10" fill="#edd000"/><rect x="56" y="10" fill="#eecf00"/><rect x="57" y="10" fill="#efcd00"/><rect x="58" y="10" fill="#f0cc08"/><rect x="59" y="10" fill="#f1cb05"/><rect x="60" y="10" fill="#f2c903"/><rect x="61" y="10" fill="#f3c800"/><rect x="62" y="10" fill="#f4c600"/><rect x="63" y="10" fill="#f5c500"/><rect x="64" y="10" fill="#f6c300"/><rect x="65" y="10" fill="#f6c40c"/><rect x="0" y="11" fill="#00c2b8"/><rect x="1" y="11" fill="#00c2b5"/><rect x="2" y="11" fill="#00c2b2"/><rect x="3" y="11" fill="#00c1b0"/><rect x="4" y="11" fill="#00c1ae"/><rect x="5" y="11" fill="#00c0ac"/><rect x="6" y="11" fill="#00c0aa"/><rect x="7" y="11" fill="#00c0a8"/><rect x="8" y="11" fill="#00bfa6"/><rect x="9" y="11" fill="#00bfa4"/><rect x="10" y="11" fill="#00bfa2"/><rect x="11" y="11" fill="#00bea0"/><rect x="12" y="11" fill="#00be9d"/><rect x="13" y="11" fill="#00be9a"/><rect x="14" y="11" fill="#00bd96"/><rect x="15" y="11" fill="#00bd91"/><rect x="16" y="11" fill="#00bd8b"/><rect x="17" y="11" fill="#00bd84"/><rect x="18" y="11" fill="#00bd7c"/><rect x="19" y="11" fill="#00bd73"/><rect x="20" y="11" fill="#00be69"/><rect x="21" y="11" fill="#01be5e"/><rect x="22" y="11" fill="#04bf53"/><rect x="23" y="11" fill="#05c044"/><rect x="24" y="11" fill="#0bc039"/><rect x="25" y="11" fill="#11c031"/><rect x="26" y="11" fill="#1ac12a"/><rect x="27" y="11" fill="#27c126"/><rect x="28" y="11" fill="#34c222"/><rect x="29" y="11" fill="#46c222"/><rect x="30" y="11" fill="#55c41f"/><rect x="31" y="11" fill="#69c622"/><rect x="32" y="11" fill="#77c81f"/><rect x="33" y="11" fill="#88cb21"/><rect x="34" y="11" fill="#94cd1e"/><rect x="35" y="11" fill="#9fd01a"/><rect x="36" y="11" fill="#abd31a"/><rect x="37" y="11" fill="#b4d516"/><rect x="38" y="11" fill="#bbd712"/><rect x="39" y="11" fill="#c3d813"/><rect x="40" y="11" fill="#c8d90f"/><rect x="41" y="11" fill="#cdda0b"/><rect x="42" y="11" fill="#d1da07"/><rect x="43" y="11" fill="#d6db0a"/><rect x="44" y="11" fill="#d9db07"/><rect x="45" y="11" fill="#dbda03"/><rect x="46" y="11" fill="#deda00"/><rect x="47" y="11" fill="#e1d907"/><rect x="48" y="11" fill="#e2d904"/><rect x="49" y="11" fill="#e4d801"/><rect x="50" y="11" fill="#e6d600"/><rect x="51" y="11" fill="#e7d500"/><rect x="52" y="11" fill="#ead407"/><rect x="53" y="11" fill="#ebd205"/><rect x="54" y="11" fill="#ecd102"/><rect x="55" y="11" fill="#eecf00"/><rect x="56" y="11" fill="#efcd00"/><rect x="57" y="11" fill="#f0cc00"/><rect x="58" y="11" fill="#f1ca00"/><rect x="59" y="11" fill="#f2ca08"/><rect x="60" y="11" fill="#f3c805"/><rect x="61" y="11" fill="#f4c703"/><rect x="62" y="11" fill="#f5c500"/><rect x="63" y="11" fill="#f6c300"/><rect x="64" y="11" fill="#f6c200"/><rect x="65" y="11" fill="#f7c000"/><rect x="0" y="12" fill="#00c3b9"/><rect x="1" y="12" fill="#00c2b7"/><rect x="2" y="12" fill="#00c2b4"/><rect x="3" y="12" fill="#00c2b2"/><rect x="4" y="12" fill="#00c1b0"/><rect x="5" y="12" fill="#00c1ae"/><rect x="6" y="12" fill="#00c1ac"/><rect x="7" y="12" fill="#00c0aa"/><rect x="8" y="12" fill="#00c0a8"/><rect x="9" y="12" fill="#00bfa6"/><rect x="10" y="12" fill="#00bfa4"/><rect x="11" y="12" fill="#00bfa1"/><rect x="12" y="12" fill="#00be9e"/><rect x="13" y="12" fill="#00be9b"/><rect x="14" y="12" fill="#00be97"/><rect x="15" y="12" fill="#00bd92"/><rect x="16" y="12" fill="#00bd8c"/><rect x="17" y="12" fill="#00bd85"/><rect x="18" y="12" fill="#00bd7d"/><rect x="19" y="12" fill="#00bd74"/><rect x="20" y="12" fill="#00be69"/><rect x="21" y="12" fill="#00be5e"/><rect x="22" y="12" fill="#01bf53"/><rect x="23" y="12" fill="#05c047"/><rect x="24" y="12" fill="#0bc13c"/><rect x="25" y="12" fill="#10c131"/><rect x="26" y="12" fill="#1ac02b"/><rect x="27" y="12" fill="#25c126"/><rect x="28" y="12" fill="#36c124"/><rect x="29" y="12" fill="#44c320"/><rect x="30" y="12" fill="#58c421"/><rect x="31" y="12" fill="#67c61f"/><rect x="32" y="12" fill="#7bc821"/><rect x="33" y="12" fill="#88ca1f"/><rect x="34" y="12" fill="#97ce1f"/><rect x="35" y="12" fill="#a2d11b"/><rect x="36" y="12" fill="#acd317"/><rect x="37" y="12" fill="#b6d617"/><rect x="38" y="12" fill="#bed812"/><rect x="39" y="12" fill="#c4d90e"/><rect x="40" y="12" fill="#cada10"/><rect x="41" y="12" fill="#cfda0c"/><rect x="42" y="12" fill="#d3db08"/><rect x="43" y="12" fill="#d6db04"/><rect x="44" y="12" fill="#dadb08"/><rect x="45" y="12" fill="#ddda05"/><rect x="46" y="12" fill="#dfda01"/><rect x="47" y="12" fill="#e1d900"/><rect x="48" y="12" fill="#e4d806"/><rect x="49" y="12" fill="#e5d703"/><rect x="50" y="12" fill="#e7d601"/><rect x="51" y="12" fill="#e9d400"/><rect x="52" y="12" fill="#ead200"/><rect x="53" y="12" fill="#ecd107"/><rect x="54" y="12" fill="#eecf05"/><rect x="55" y="12" fill="#efce02"/><rect x="56" y="12" fill="#f0cc00"/><rect x="57" y="12" fill="#f1cb00"/><rect x="58" y="12" fill="#f2c900"/><rect x="59" y="12" fill="#f3c700"/><rect x="60" y="12" fill="#f4c708"/><rect x="61" y="12" fill="#f5c605"/><rect x="62" y="12" fill="#f6c402"/><rect x="63" y="12" fill="#f6c200"/><rect x="64" y="12" fill="#f7c100"/><rect x="65" y="12" fill="#f8bf00"/><rect x="0" y="13" fill="#00c3bb"/><rect x="1" y="13" fill="#00c3ba"/><rect x="2" y="13" fill="#00c2b7"/><rect x="3" y="13" fill="#00c2b5"/><rect x="4" y="13" fill="#00c2b3"/><rect x="5" y="13" fill="#01c1b1"/><rect x="6" y="13" fill="#00c1ae"/><rect x="7" y="13" fill="#00c1ac"/><rect x="8" y="13" fill="#00c0aa"/><rect x="9" y="13" fill="#00c0a7"/><rect x="10" y="13" fill="#00bfa5"/><rect x="11" y="13" fill="#00bfa3"/><rect x="12" y="13" fill="#00bfa0"/><rect x="13" y="13" fill="#00be9c"/><rect x="14" y="13" fill="#00be98"/><rect x="15" y="13" fill="#00bd93"/><rect x="16" y="13" fill="#00bd8d"/><rect x="17" y="13" fill="#00bd86"/><rect x="18" y="13" fill="#00bd7e"/><rect x="19" y="13" fill="#00bd74"/><rect x="20" y="13" fill="#00bd6a"/><rect x="21" y="13" fill="#00be5f"/><rect x="22" y="13" fill="#00be53"/><rect x="23" y="13" fill="#03bf48"/><rect x="24" y="13" fill="#08c03c"/><rect x="25" y="13" fill="#10c132"/><rect x="26" y="13" fill="#19c12b"/><rect x="27" y="13" fill="#26c027"/><rect x="28" y="13" fill="#34c223"/><rect x="29" y="13" fill="#47c222"/><rect x="30" y="13" fill="#56c41f"/><rect x="31" y="13" fill="#6bc621"/><rect x="32" y="13" fill="#7ac81f"/><rect x="33" y="13" fill="#8bcb20"/><rect x="34" y="13" fill="#98ce1c"/><rect x="35" y="13" fill="#a2d018"/><rect x="36" y="13" fill="#afd417"/><rect x="37" y="13" fill="#b7d613"/><rect x="38" y="13" fill="#c0d813"/><rect x="39" y="13" fill="#c6d90f"/><rect x="40" y="13" fill="#cbda0b"/><rect x="41" y="13" fill="#d1da0d"/><rect x="42" y="13" fill="#d5db09"/><rect x="43" y="13" fill="#d8db05"/><rect x="44" y="13" fill="#dbda01"/><rect x="45" y="13" fill="#deda06"/><rect x="46" y="13" fill="#e0d903"/><rect x="47" y="13" fill="#e2d800"/><rect x="48" y="13" fill="#e4d700"/><rect x="49" y="13" fill="#e7d606"/><rect x="50" y="13" fill="#e8d503"/><rect x="51" y="13" fill="#ead300"/><rect x="52" y="13" fill="#ecd100"/><rect x="53" y="13" fill="#edd000"/><rect x="54" y="13" fill="#efce08"/><rect x="55" y="13" fill="#f0cd05"/><rect x="56" y="13" fill="#f1cb02"/><rect x="57" y="13" fill="#f2c900"/><rect x="58" y="13" fill="#f3c800"/><rect x="59" y="13" fill="#f4c600"/><rect x="60" y="13" fill="#f5c400"/><rect x="61" y="13" fill="#f6c408"/><rect x="62" y="13" fill="#f6c305"/><rect x="63" y="13" fill="#f7c102"/><rect x="64" y="13" fill="#f8bf00"/><rect x="65" y="13" fill="#f8bd00"/><rect x="0" y="14" fill="#00c3bd"/><rect x="1" y="14" fill="#00c3bc"/><rect x="2" y="14" fill="#00c3b9"/><rect x="3" y="14" fill="#00c2b7"/><rect x="4" y="14" fill="#01c2b5"/><rect x="5" y="14" fill="#01c2b3"/><rect x="6" y="14" fill="#01c1b0"/><rect x="7" y="14" fill="#00c1ae"/><rect x="8" y="14" fill="#00c1ac"/><rect x="9" y="14" fill="#00c0a9"/><rect x="10" y="14" fill="#00c0a7"/><rect x="11" y="14" fill="#00bfa4"/><rect x="12" y="14" fill="#00bfa1"/><rect x="13" y="14" fill="#00be9d"/><rect x="14" y="14" fill="#00be99"/><rect x="15" y="14" fill="#00bd94"/><rect x="16" y="14" fill="#00bd8e"/><rect x="17" y="14" fill="#00bd87"/><rect x="18" y="14" fill="#00bd7f"/><rect x="19" y="14" fill="#00bd75"/><rect x="20" y="14" fill="#00bd6a"/><rect x="21" y="14" fill="#00bd5f"/><rect x="22" y="14" fill="#00be54"/><rect x="23" y="14" fill="#00be48"/><rect x="24" y="14" fill="#06bf3d"/><rect x="25" y="14" fill="#0ec034"/><rect x="26" y="14" fill="#18c12c"/><rect x="27" y="14" fill="#24c127"/><rect x="28" y="14" fill="#35c124"/><rect x="29" y="14" fill="#45c321"/><rect x="30" y="14" fill="#5ac422"/><rect x="31" y="14" fill="#6ac61f"/><rect x="32" y="14" fill="#7ec921"/><rect x="33" y="14" fill="#8ccb1e"/><rect x="34" y="14" fill="#9bcf1d"/><rect x="35" y="14" fill="#a6d219"/><rect x="36" y="14" fill="#b0d414"/><rect x="37" y="14" fill="#bad714"/><rect x="38" y="14" fill="#c1d80f"/><rect x="39" y="14" fill="#c9d910"/><rect x="40" y="14" fill="#ceda0c"/><rect x="41" y="14" fill="#d2da07"/><rect x="42" y="14" fill="#d7db0a"/><rect x="43" y="14" fill="#dadb06"/><rect x="44" y="14" fill="#dcda02"/><rect x="45" y="14" fill="#dfda00"/><rect x="46" y="14" fill="#e2d905"/><rect x="47" y="14" fill="#e4d802"/><rect x="48" y="14" fill="#e6d600"/><rect x="49" y="14" fill="#e7d500"/><rect x="50" y="14" fill="#ead406"/><rect x="51" y="14" fill="#ebd203"/><rect x="52" y="14" fill="#edd000"/><rect x="53" y="14" fill="#eece00"/><rect x="54" y="14" fill="#f0cc00"/><rect x="55" y="14" fill="#f1cc08"/><rect x="56" y="14" fill="#f2ca05"/><rect x="57" y="14" fill="#f3c802"/><rect x="58" y="14" fill="#f4c600"/><rect x="59" y="14" fill="#f5c500"/><rect x="60" y="14" fill="#f6c300"/><rect x="61" y="14" fill="#f7c100"/><rect x="62" y="14" fill="#f7c108"/><rect x="63" y="14" fill="#f8c005"/><rect x="64" y="14" fill="#f9be03"/><rect x="65" y="14" fill="#f9bc00"/><rect x="0" y="15" fill="#00c3bf"/><rect x="1" y="15" fill="#00c3bd"/><rect x="2" y="15" fill="#00c3bb"/><rect x="3" y="15" fill="#00c3b9"/><rect x="4" y="15" fill="#01c2b7"/><rect x="5" y="15" fill="#01c2b5"/><rect x="6" y="15" fill="#01c2b2"/><rect x="7" y="15" fill="#00c1b0"/><rect x="8" y="15" fill="#00c1ae"/><rect x="9" y="15" fill="#00c0ab"/><rect x="10" y="15" fill="#00c0a8"/><rect x="11" y="15" fill="#00c0a5"/><rect x="12" y="15" fill="#00bfa2"/><rect x="13" y="15" fill="#00bf9e"/><rect x="14" y="15" fill="#00be9a"/><rect x="15" y="15" fill="#00be95"/><rect x="16" y="15" fill="#00bd8e"/><rect x="17" y="15" fill="#00bd87"/><rect x="18" y="15" fill="#00bc7f"/><rect x="19" y="15" fill="#00bc75"/><rect x="20" y="15" fill="#00bc6b"/><rect x="21" y="15" fill="#00bd60"/><rect x="22" y="15" fill="#00bd55"/><rect x="23" y="15" fill="#00bd49"/><rect x="24" y="15" fill="#04be3f"/><rect x="25" y="15" fill="#0cbf35"/><rect x="26" y="15" fill="#16c02d"/><rect x="27" y="15" fill="#23c126"/><rect x="28" y="15" fill="#34c123"/><rect x="29" y="15" fill="#48c223"/><rect x="30" y="15" fill="#58c420"/><rect x="31" y="15" fill="#6ec621"/><rect x="32" y="15" fill="#7dc91f"/><rect x="33" y="15" fill="#8fcc1f"/><rect x="34" y="15" fill="#9ccf1b"/><rect x="35" y="15" fill="#a9d31a"/><rect x="36" y="15" fill="#b3d515"/><rect x="37" y="15" fill="#bbd710"/><rect x="38" y="15" fill="#c4d910"/><rect x="39" y="15" fill="#cada0b"/><rect x="40" y="15" fill="#d0da0d"/><rect x="41" y="15" fill="#d4db08"/><rect x="42" y="15" fill="#d8db04"/><rect x="43" y="15" fill="#dcdb08"/><rect x="44" y="15" fill="#deda04"/><rect x="45" y="15" fill="#e0d900"/><rect x="46" y="15" fill="#e3d800"/><rect x="47" y="15" fill="#e5d704"/><rect x="48" y="15" fill="#e7d601"/><rect x="49" y="15" fill="#e9d400"/><rect x="50" y="15" fill="#ebd200"/><rect x="51" y="15" fill="#edd106"/><rect x="52" y="15" fill="#eecf03"/><rect x="53" y="15" fill="#efcd00"/><rect x="54" y="15" fill="#f1cb00"/><rect x="55" y="15" fill="#f2c900"/><rect x="56" y="15" fill="#f3c908"/><rect x="57" y="15" fill="#f4c705"/><rect x="58" y="15" fill="#f5c502"/><rect x="59" y="15" fill="#f6c300"/><rect x="60" y="15" fill="#f7c200"/><rect x="61" y="15" fill="#f7c000"/><rect x="62" y="15" fill="#f8be00"/><rect x="63" y="15" fill="#f9be08"/><rect x="64" y="15" fill="#f9bc05"/><rect x="65" y="15" fill="#fabb03"/><rect x="0" y="16" fill="#00c3c1"/><rect x="1" y="16" fill="#00c3bf"/><rect x="2" y="16" fill="#00c3bd"/><rect x="3" y="16" fill="#01c3bb"/><rect x="4" y="16" fill="#01c2b9"/><rect x="5" y="16" fill="#01c2b7"/><rect x="6" y="16" fill="#01c2b4"/><rect x="7" y="16" fill="#01c2b2"/><rect x="8" y="16" fill="#00c1af"/><rect x="9" y="16" fill="#00c1ad"/><rect x="10" y="16" fill="#00c0aa"/><rect x="11" y="16" fill="#00c0a7"/><rect x="12" y="16" fill="#00bfa3"/><rect x="13" y="16" fill="#00bf9f"/><rect x="14" y="16" fill="#00be9b"/><rect x="15" y="16" fill="#00be95"/><rect x="16" y="16" fill="#00bd8f"/><rect x="17" y="16" fill="#00bd88"/><rect x="18" y="16" fill="#00bc7f"/><rect x="19" y="16" fill="#00bc76"/><rect x="20" y="16" fill="#00bc6c"/><rect x="21" y="16" fill="#00bc61"/><rect x="22" y="16" fill="#00bc56"/><rect x="23" y="16" fill="#00bd4b"/><rect x="24" y="16" fill="#02bd40"/><rect x="25" y="16" fill="#0abe36"/><rect x="26" y="16" fill="#16bf2f"/><rect x="27" y="16" fill="#23c028"/><rect x="28" y="16" fill="#32c223"/><rect x="29" y="16" fill="#46c322"/><rect x="30" y="16" fill="#57c51e"/><rect x="31" y="16" fill="#6dc720"/><rect x="32" y="16" fill="#82c921"/><rect x="33" y="16" fill="#90cc1d"/><rect x="34" y="16" fill="#9fd01c"/><rect x="35" y="16" fill="#abd317"/><rect x="36" y="16" fill="#b6d616"/><rect x="37" y="16" fill="#bfd811"/><rect x="38" y="16" fill="#c5d90c"/><rect x="39" y="16" fill="#ccda0c"/><rect x="40" y="16" fill="#d1da08"/><rect x="41" y="16" fill="#d6db0a"/><rect x="42" y="16" fill="#d9db05"/><rect x="43" y="16" fill="#dcda01"/><rect x="44" y="16" fill="#e0da06"/><rect x="45" y="16" fill="#e2d902"/><rect x="46" y="16" fill="#e4d800"/><rect x="47" y="16" fill="#e6d600"/><rect x="48" y="16" fill="#e9d504"/><rect x="49" y="16" fill="#ead301"/><rect x="50" y="16" fill="#ecd100"/><rect x="51" y="16" fill="#eecf00"/><rect x="52" y="16" fill="#efce06"/><rect x="53" y="16" fill="#f1cc03"/><rect x="54" y="16" fill="#f2ca00"/><rect x="55" y="16" fill="#f3c800"/><rect x="56" y="16" fill="#f4c600"/><rect x="57" y="16" fill="#f5c608"/><rect x="58" y="16" fill="#f6c405"/><rect x="59" y="16" fill="#f7c202"/><rect x="60" y="16" fill="#f7c000"/><rect x="61" y="16" fill="#f8be00"/><rect x="62" y="16" fill="#f9bc00"/><rect x="63" y="16" fill="#faba00"/><rect x="64" y="16" fill="#fabb08"/><rect x="65" y="16" fill="#fab906"/><rect x="0" y="17" fill="#00c3c3"/><rect x="1" y="17" fill="#00c3c1"/><rect x="2" y="17" fill="#00c3bf"/><rect x="3" y="17" fill="#01c3bd"/><rect x="4" y="17" fill="#01c3bb"/><rect x="5" y="17" fill="#01c2b9"/><rect x="6" y="17" fill="#01c2b6"/><rect x="7" y="17" fill="#01c2b4"/><rect x="8" y="17" fill="#00c1b1"/><rect x="9" y="17" fill="#00c1ae"/><rect x="10" y="17" fill="#00c1ab"/><rect x="11" y="17" fill="#00c0a8"/><rect x="12" y="17" fill="#00c0a4"/><rect x="13" y="17" fill="#00bfa0"/><rect x="14" y="17" fill="#00be9c"/><rect x="15" y="17" fill="#00be96"/><rect x="16" y="17" fill="#00bd90"/><rect x="17" y="17" fill="#00bd88"/><rect x="18" y="17" fill="#00bc80"/><rect x="19" y="17" fill="#00bc77"/><rect x="20" y="17" fill="#00bc6c"/><rect x="21" y="17" fill="#00bb62"/><rect x="22" y="17" fill="#00bb57"/><rect x="23" y="17" fill="#00bc4c"/><rect x="24" y="17" fill="#01bc41"/><rect x="25" y="17" fill="#09bd38"/><rect x="26" y="17" fill="#15be30"/><rect x="27" y="17" fill="#24bf2a"/><rect x="28" y="17" fill="#34c125"/><rect x="29" y="17" fill="#45c321"/><rect x="30" y="17" fill="#5bc421"/><rect x="31" y="17" fill="#6dc71e"/><rect x="32" y="17" fill="#82c91f"/><rect x="33" y="17" fill="#94cd1e"/><rect x="34" y="17" fill="#a1d01a"/><rect x="35" y="17" fill="#aed418"/><rect x="36" y="17" fill="#b8d613"/><rect x="37" y="17" fill="#c1d812"/><rect x="38" y="17" fill="#c8d90d"/><rect x="39" y="17" fill="#ceda08"/><rect x="40" y="17" fill="#d3db09"/><rect x="41" y="17" fill="#d7db04"/><rect x="42" y="17" fill="#dbdb07"/><rect x="43" y="17" fill="#deda03"/><rect x="44" y="17" fill="#e1d900"/><rect x="45" y="17" fill="#e3d805"/><rect x="46" y="17" fill="#e5d701"/><rect x="47" y="17" fill="#e8d500"/><rect x="48" y="17" fill="#ead300"/><rect x="49" y="17" fill="#ecd104"/><rect x="50" y="17" fill="#edcf00"/><rect x="51" y="17" fill="#efce00"/><rect x="52" y="17" fill="#f0cc00"/><rect x="53" y="17" fill="#f2ca06"/><rect x="54" y="17" fill="#f3c903"/><rect x="55" y="17" fill="#f4c700"/><rect x="56" y="17" fill="#f5c500"/><rect x="57" y="17" fill="#f6c300"/><rect x="58" y="17" fill="#f7c208"/><rect x="59" y="17" fill="#f7c105"/><rect x="60" y="17" fill="#f8bf02"/><rect x="61" y="17" fill="#f9bd00"/><rect x="62" y="17" fill="#faba00"/><rect x="63" y="17" fill="#fab800"/><rect x="64" y="17" fill="#fbb600"/><rect x="65" y="17" fill="#fbb709"/><rect x="0" y="18" fill="#00c3c4"/><rect x="1" y="18" fill="#01c3c2"/><rect x="2" y="18" fill="#00c3c1"/><rect x="3" y="18" fill="#01c3bf"/><rect x="4" y="18" fill="#01c3bd"/><rect x="5" y="18" fill="#01c3ba"/><rect x="6" y="18" fill="#01c2b8"/><rect x="7" y="18" fill="#01c2b5"/><rect x="8" y="18" fill="#00c2b3"/><rect x="9" y="18" fill="#00c1b0"/><rect x="10" y="18" fill="#00c1ad"/><rect x="11" y="18" fill="#00c0a9"/><rect x="12" y="18" fill="#00c0a6"/><rect x="13" y="18" fill="#00bfa1"/><rect x="14" y="18" fill="#00bf9c"/><rect x="15" y="18" fill="#00be97"/><rect x="16" y="18" fill="#00bd90"/><rect x="17" y="18" fill="#00bd89"/><rect x="18" y="18" fill="#00bc81"/><rect x="19" y="18" fill="#00bc77"/><rect x="20" y="18" fill="#00bb6d"/><rect x="21" y="18" fill="#00bb63"/><rect x="22" y="18" fill="#00bb58"/><rect x="23" y="18" fill="#00bb4d"/><rect x="24" y="18" fill="#00bb43"/><rect x="25" y="18" fill="#09bc3a"/><rect x="26" y="18" fill="#15bd32"/><rect x="27" y="18" fill="#25bf2c"/><rect x="28" y="18" fill="#36c027"/><rect x="29" y="18" fill="#48c223"/><rect x="30" y="18" fill="#5bc520"/><rect x="31" y="18" fill="#72c721"/><rect x="32" y="18" fill="#83ca1d"/><rect x="33" y="18" fill="#95cd1d"/><rect x="34" y="18" fill="#a4d11b"/><rect x="35" y="18" fill="#b0d416"/><rect x="36" y="18" fill="#bbd714"/><rect x="37" y="18" fill="#c3d90f"/><rect x="38" y="18" fill="#cbda0e"/><rect x="39" y="18" fill="#d0da09"/><rect x="40" y="18" fill="#d5da04"/><rect x="41" y="18" fill="#d9db06"/><rect x="42" y="18" fill="#dcda01"/><rect x="43" y="18" fill="#e0da05"/><rect x="44" y="18" fill="#e2d901"/><rect x="45" y="18" fill="#e4d700"/><rect x="46" y="18" fill="#e7d604"/><rect x="47" y="18" fill="#e9d401"/><rect x="48" y="18" fill="#ebd200"/><rect x="49" y="18" fill="#edd000"/><rect x="50" y="18" fill="#efce04"/><rect x="51" y="18" fill="#f0cc00"/><rect x="52" y="18" fill="#f2ca00"/><rect x="53" y="18" fill="#f3c800"/><rect x="54" y="18" fill="#f4c706"/><rect x="55" y="18" fill="#f5c502"/><rect x="56" y="18" fill="#f6c300"/><rect x="57" y="18" fill="#f7c100"/><rect x="58" y="18" fill="#f8bf00"/><rect x="59" y="18" fill="#f8bf08"/><rect x="60" y="18" fill="#f9bd05"/><rect x="61" y="18" fill="#fabb02"/><rect x="62" y="18" fill="#fab900"/><rect x="63" y="18" fill="#fbb700"/><rect x="64" y="18" fill="#fbb400"/><rect x="65" y="18" fill="#fcb200"/><rect x="0" y="19" fill="#00c3c5"/><rect x="1" y="19" fill="#01c3c3"/><rect x="2" y="19" fill="#00c3c2"/><rect x="3" y="19" fill="#01c3c0"/><rect x="4" y="19" fill="#01c3be"/><rect x="5" y="19" fill="#01c3bc"/><rect x="6" y="19" fill="#01c2b9"/><rect x="7" y="19" fill="#01c2b7"/><rect x="8" y="19" fill="#00c2b4"/><rect x="9" y="19" fill="#00c2b1"/><rect x="10" y="19" fill="#00c1ae"/><rect x="11" y="19" fill="#00c1aa"/><rect x="12" y="19" fill="#00c0a7"/><rect x="13" y="19" fill="#00c0a2"/><rect x="14" y="19" fill="#00bf9d"/><rect x="15" y="19" fill="#00be98"/><rect x="16" y="19" fill="#00be91"/><rect x="17" y="19" fill="#00bd8a"/><rect x="18" y="19" fill="#00bc81"/><rect x="19" y="19" fill="#00bb78"/><rect x="20" y="19" fill="#00bb6f"/><rect x="21" y="19" fill="#00ba64"/><rect x="22" y="19" fill="#00ba5a"/><rect x="23" y="19" fill="#00ba4f"/><rect x="24" y="19" fill="#00bb45"/><rect x="25" y="19" fill="#09bb3c"/><rect x="26" y="19" fill="#17bc34"/><rect x="27" y="19" fill="#27be2d"/><rect x="28" y="19" fill="#39c029"/><rect x="29" y="19" fill="#4cc225"/><rect x="30" y="19" fill="#5fc522"/><rect x="31" y="19" fill="#72c71f"/><rect x="32" y="19" fill="#87ca20"/><rect x="33" y="19" fill="#97ce1b"/><rect x="34" y="19" fill="#a6d219"/><rect x="35" y="19" fill="#b4d516"/><rect x="36" y="19" fill="#bdd711"/><rect x="37" y="19" fill="#c6d910"/><rect x="38" y="19" fill="#cdda0a"/><rect x="39" y="19" fill="#d3db0a"/><rect x="40" y="19" fill="#d7db05"/><rect x="41" y="19" fill="#dbda01"/><rect x="42" y="19" fill="#deda03"/><rect x="43" y="19" fill="#e1d900"/><rect x="44" y="19" fill="#e4d803"/><rect x="45" y="19" fill="#e6d600"/><rect x="46" y="19" fill="#e8d400"/><rect x="47" y="19" fill="#ebd204"/><rect x="48" y="19" fill="#edd000"/><rect x="49" y="19" fill="#eece00"/><rect x="50" y="19" fill="#f0cc00"/><rect x="51" y="19" fill="#f1cb04"/><rect x="52" y="19" fill="#f3c900"/><rect x="53" y="19" fill="#f4c700"/><rect x="54" y="19" fill="#f5c400"/><rect x="55" y="19" fill="#f6c406"/><rect x="56" y="19" fill="#f7c202"/><rect x="57" y="19" fill="#f8c000"/><rect x="58" y="19" fill="#f9bd00"/><rect x="59" y="19" fill="#f9bb00"/><rect x="60" y="19" fill="#fabb08"/><rect x="61" y="19" fill="#fab906"/><rect x="62" y="19" fill="#fbb703"/><rect x="63" y="19" fill="#fbb501"/><rect x="64" y="19" fill="#fcb200"/><rect x="65" y="19" fill="#fcb000"/><rect x="0" y="20" fill="#00c3c7"/><rect x="1" y="20" fill="#01c3c5"/><rect x="2" y="20" fill="#00c3c4"/><rect x="3" y="20" fill="#01c3c2"/><rect x="4" y="20" fill="#01c3c0"/><rect x="5" y="20" fill="#01c3bd"/><rect x="6" y="20" fill="#01c3bb"/><rect x="7" y="20" fill="#01c2b8"/><rect x="8" y="20" fill="#00c2b5"/><rect x="9" y="20" fill="#00c2b2"/><rect x="10" y="20" fill="#00c1af"/><rect x="11" y="20" fill="#00c1ac"/><rect x="12" y="20" fill="#00c0a7"/><rect x="13" y="20" fill="#00c0a3"/><rect x="14" y="20" fill="#00bf9e"/><rect x="15" y="20" fill="#00be98"/><rect x="16" y="20" fill="#00be92"/><rect x="17" y="20" fill="#00bd8b"/><rect x="18" y="20" fill="#00bc82"/><rect x="19" y="20" fill="#00bb79"/><rect x="20" y="20" fill="#00bb70"/><rect x="21" y="20" fill="#00ba65"/><rect x="22" y="20" fill="#00ba5b"/><rect x="23" y="20" fill="#00ba51"/><rect x="24" y="20" fill="#00ba47"/><rect x="25" y="20" fill="#0abb3d"/><rect x="26" y="20" fill="#18bc35"/><rect x="27" y="20" fill="#29be2f"/><rect x="28" y="20" fill="#3cc02a"/><rect x="29" y="20" fill="#50c227"/><rect x="30" y="20" fill="#64c524"/><rect x="31" y="20" fill="#77c822"/><rect x="32" y="20" fill="#89cb1f"/><rect x="33" y="20" fill="#9bcf1c"/><rect x="34" y="20" fill="#a8d217"/><rect x="35" y="20" fill="#b6d614"/><rect x="36" y="20" fill="#c0d812"/><rect x="37" y="20" fill="#c8d90c"/><rect x="38" y="20" fill="#cfda0b"/><rect x="39" y="20" fill="#d4db06"/><rect x="40" y="20" fill="#d9db07"/><rect x="41" y="20" fill="#ddda02"/><rect x="42" y="20" fill="#e0d900"/><rect x="43" y="20" fill="#e2d801"/><rect x="44" y="20" fill="#e5d700"/><rect x="45" y="20" fill="#e8d503"/><rect x="46" y="20" fill="#ead300"/><rect x="47" y="20" fill="#ecd100"/><rect x="48" y="20" fill="#eecf04"/><rect x="49" y="20" fill="#f0cd00"/><rect x="50" y="20" fill="#f1cb00"/><rect x="51" y="20" fill="#f3c800"/><rect x="52" y="20" fill="#f4c703"/><rect x="53" y="20" fill="#f5c500"/><rect x="54" y="20" fill="#f6c300"/><rect x="55" y="20" fill="#f7c000"/><rect x="56" y="20" fill="#f8c006"/><rect x="57" y="20" fill="#f9be02"/><rect x="58" y="20" fill="#f9bb00"/><rect x="59" y="20" fill="#fab900"/><rect x="60" y="20" fill="#fbb700"/><rect x="61" y="20" fill="#fbb709"/><rect x="62" y="20" fill="#fbb506"/><rect x="63" y="20" fill="#fcb304"/><rect x="64" y="20" fill="#fcb002"/><rect x="65" y="20" fill="#fcae00"/><rect x="0" y="21" fill="#00c3c8"/><rect x="1" y="21" fill="#01c3c6"/><rect x="2" y="21" fill="#00c3c5"/><rect x="3" y="21" fill="#01c3c3"/><rect x="4" y="21" fill="#01c3c1"/><rect x="5" y="21" fill="#01c3be"/><rect x="6" y="21" fill="#01c3bc"/><rect x="7" y="21" fill="#01c3b9"/><rect x="8" y="21" fill="#00c2b7"/><rect x="9" y="21" fill="#00c2b3"/><rect x="10" y="21" fill="#00c2b0"/><rect x="11" y="21" fill="#00c1ac"/><rect x="12" y="21" fill="#00c1a8"/><rect x="13" y="21" fill="#00c0a4"/><rect x="14" y="21" fill="#00bf9f"/><rect x="15" y="21" fill="#00be99"/><rect x="16" y="21" fill="#00be93"/><rect x="17" y="21" fill="#00bd8b"/><rect x="18" y="21" fill="#00bc83"/><rect x="19" y="21" fill="#00bb7a"/><rect x="20" y="21" fill="#00ba70"/><rect x="21" y="21" fill="#00ba66"/><rect x="22" y="21" fill="#00b95c"/><rect x="23" y="21" fill="#00b953"/><rect x="24" y="21" fill="#01b948"/><rect x="25" y="21" fill="#0bba3e"/><rect x="26" y="21" fill="#19bc36"/><rect x="27" y="21" fill="#2bbd30"/><rect x="28" y="21" fill="#3fc02b"/><rect x="29" y="21" fill="#53c228"/><rect x="30" y="21" fill="#67c526"/><rect x="31" y="21" fill="#7bc824"/><rect x="32" y="21" fill="#8dcc20"/><rect x="33" y="21" fill="#9dcf1b"/><rect x="34" y="21" fill="#add418"/><rect x="35" y="21" fill="#b8d612"/><rect x="36" y="21" fill="#c3d80f"/><rect x="37" y="21" fill="#cbda0e"/><rect x="38" y="21" fill="#d1da08"/><rect x="39" y="21" fill="#d7db08"/><rect x="40" y="21" fill="#dbda03"/><rect x="41" y="21" fill="#dfda04"/><rect x="42" y="21" fill="#e1d900"/><rect x="43" y="21" fill="#e4d700"/><rect x="44" y="21" fill="#e7d600"/><rect x="45" y="21" fill="#e9d300"/><rect x="46" y="21" fill="#ecd103"/><rect x="47" y="21" fill="#eecf00"/><rect x="48" y="21" fill="#efcd00"/><rect x="49" y="21" fill="#f1cb04"/><rect x="50" y="21" fill="#f2c900"/><rect x="51" y="21" fill="#f4c700"/><rect x="52" y="21" fill="#f5c400"/><rect x="53" y="21" fill="#f6c303"/><rect x="54" y="21" fill="#f7c100"/><rect x="55" y="21" fill="#f8bf00"/><rect x="56" y="21" fill="#f9bc00"/><rect x="57" y="21" fill="#f9bc06"/><rect x="58" y="21" fill="#faba03"/><rect x="59" y="21" fill="#fbb700"/><rect x="60" y="21" fill="#fbb500"/><rect x="61" y="21" fill="#fcb200"/><rect x="62" y="21" fill="#fcb30a"/><rect x="63" y="21" fill="#fcb008"/><rect x="64" y="21" fill="#fdae05"/><rect x="65" y="21" fill="#fdac03"/><rect x="0" y="22" fill="#00c3c9"/><rect x="1" y="22" fill="#01c3c7"/><rect x="2" y="22" fill="#01c3c6"/><rect x="3" y="22" fill="#01c3c4"/><rect x="4" y="22" fill="#01c3c2"/><rect x="5" y="22" fill="#01c3c0"/><rect x="6" y="22" fill="#01c3bd"/><rect x="7" y="22" fill="#01c3ba"/><rect x="8" y="22" fill="#00c3b7"/><rect x="9" y="22" fill="#00c2b4"/><rect x="10" y="22" fill="#00c2b1"/><rect x="11" y="22" fill="#00c1ad"/><rect x="12" y="22" fill="#00c1a9"/><rect x="13" y="22" fill="#00c0a4"/><rect x="14" y="22" fill="#00bf9f"/><rect x="15" y="22" fill="#00be99"/><rect x="16" y="22" fill="#00be93"/><rect x="17" y="22" fill="#00bd8c"/><rect x="18" y="22" fill="#00bc84"/><rect x="19" y="22" fill="#00bb7b"/><rect x="20" y="22" fill="#00ba71"/><rect x="21" y="22" fill="#00b967"/><rect x="22" y="22" fill="#00b95d"/><rect x="23" y="22" fill="#00b953"/><rect x="24" y="22" fill="#02b949"/><rect x="25" y="22" fill="#0cba3f"/><rect x="26" y="22" fill="#1bbb37"/><rect x="27" y="22" fill="#2ebe31"/><rect x="28" y="22" fill="#42c02d"/><rect x="29" y="22" fill="#57c32a"/><rect x="30" y="22" fill="#6bc627"/><rect x="31" y="22" fill="#7fc925"/><rect x="32" y="22" fill="#91cd21"/><rect x="33" y="22" fill="#a1d11c"/><rect x="34" y="22" fill="#afd416"/><rect x="35" y="22" fill="#bcd713"/><rect x="36" y="22" fill="#c5d90d"/><rect x="37" y="22" fill="#cdda0a"/><rect x="38" y="22" fill="#d4db09"/><rect x="39" y="22" fill="#d8db04"/><rect x="40" y="22" fill="#ddda04"/><rect x="41" y="22" fill="#e0d900"/><rect x="42" y="22" fill="#e3d802"/><rect x="43" y="22" fill="#e6d600"/><rect x="44" y="22" fill="#e8d400"/><rect x="45" y="22" fill="#ebd200"/><rect x="46" y="22" fill="#edd000"/><rect x="47" y="22" fill="#efcd03"/><rect x="48" y="22" fill="#f1cb00"/><rect x="49" y="22" fill="#f2c900"/><rect x="50" y="22" fill="#f4c704"/><rect x="51" y="22" fill="#f5c500"/><rect x="52" y="22" fill="#f6c300"/><rect x="53" y="22" fill="#f7c000"/><rect x="54" y="22" fill="#f8bf03"/><rect x="55" y="22" fill="#f9bd00"/><rect x="56" y="22" fill="#faba00"/><rect x="57" y="22" fill="#fab800"/><rect x="58" y="22" fill="#fbb707"/><rect x="59" y="22" fill="#fbb504"/><rect x="60" y="22" fill="#fcb202"/><rect x="61" y="22" fill="#fcb000"/><rect x="62" y="22" fill="#fdad00"/><rect x="63" y="22" fill="#fdae0b"/><rect x="64" y="22" fill="#fdac09"/><rect x="65" y="22" fill="#fdaa07"/><rect x="0" y="23" fill="#00c4c9"/><rect x="1" y="23" fill="#01c3c7"/><rect x="2" y="23" fill="#01c3c7"/><rect x="3" y="23" fill="#01c3c5"/><rect x="4" y="23" fill="#01c3c3"/><rect x="5" y="23" fill="#01c3c0"/><rect x="6" y="23" fill="#01c3be"/><rect x="7" y="23" fill="#01c3bb"/><rect x="8" y="23" fill="#00c3b8"/><rect x="9" y="23" fill="#00c2b5"/><rect x="10" y="23" fill="#00c2b2"/><rect x="11" y="23" fill="#00c1ae"/><rect x="12" y="23" fill="#00c1aa"/><rect x="13" y="23" fill="#00c0a5"/><rect x="14" y="23" fill="#00bfa0"/><rect x="15" y="23" fill="#00be9a"/><rect x="16" y="23" fill="#00be93"/><rect x="17" y="23" fill="#00bd8c"/><rect x="18" y="23" fill="#00bc84"/><rect x="19" y="23" fill="#00bb7b"/><rect x="20" y="23" fill="#00ba71"/><rect x="21" y="23" fill="#00b967"/><rect x="22" y="23" fill="#00b95d"/><rect x="23" y="23" fill="#00b953"/><rect x="24" y="23" fill="#03b949"/><rect x="25" y="23" fill="#0fba40"/><rect x="26" y="23" fill="#1ebc39"/><rect x="27" y="23" fill="#31be33"/><rect x="28" y="23" fill="#46c12f"/><rect x="29" y="23" fill="#5bc42b"/><rect x="30" y="23" fill="#70c729"/><rect x="31" y="23" fill="#83cb26"/><rect x="32" y="23" fill="#96ce22"/><rect x="33" y="23" fill="#a6d21d"/><rect x="34" y="23" fill="#b4d517"/><rect x="35" y="23" fill="#bfd811"/><rect x="36" y="23" fill="#c9d90e"/><rect x="37" y="23" fill="#d0da08"/><rect x="38" y="23" fill="#d6db06"/><rect x="39" y="23" fill="#dbdb06"/><rect x="40" y="23" fill="#deda00"/><rect x="41" y="23" fill="#e2d902"/><rect x="42" y="23" fill="#e5d700"/><rect x="43" y="23" fill="#e8d501"/><rect x="44" y="23" fill="#ead300"/><rect x="45" y="23" fill="#edd000"/><rect x="46" y="23" fill="#efce00"/><rect x="47" y="23" fill="#f1cb00"/><rect x="48" y="23" fill="#f2c902"/><rect x="49" y="23" fill="#f4c700"/><rect x="50" y="23" fill="#f5c400"/><rect x="51" y="23" fill="#f6c303"/><rect x="52" y="23" fill="#f7c100"/><rect x="53" y="23" fill="#f8be00"/><rect x="54" y="23" fill="#f9bb00"/><rect x="55" y="23" fill="#fabb04"/><rect x="56" y="23" fill="#fab801"/><rect x="57" y="23" fill="#fbb500"/><rect x="58" y="23" fill="#fcb300"/><rect x="59" y="23" fill="#fcb308"/><rect x="60" y="23" fill="#fcb005"/><rect x="61" y="23" fill="#fdae03"/><rect x="62" y="23" fill="#fdab01"/><rect x="63" y="23" fill="#fda800"/><rect x="64" y="23" fill="#fdaa0d"/><rect x="65" y="23" fill="#fea70a"/><rect x="0" y="24" fill="#00c4ca"/><rect x="1" y="24" fill="#01c3c8"/><rect x="2" y="24" fill="#01c3c8"/><rect x="3" y="24" fill="#01c3c6"/><rect x="4" y="24" fill="#01c3c4"/><rect x="5" y="24" fill="#01c3c1"/><rect x="6" y="24" fill="#01c3bf"/><rect x="7" y="24" fill="#01c3bc"/><rect x="8" y="24" fill="#00c3b9"/><rect x="9" y="24" fill="#00c2b6"/><rect x="10" y="24" fill="#00c2b2"/><rect x="11" y="24" fill="#00c1ae"/><rect x="12" y="24" fill="#00c1aa"/><rect x="13" y="24" fill="#00c0a5"/><rect x="14" y="24" fill="#00bfa0"/><rect x="15" y="24" fill="#00be9a"/><rect x="16" y="24" fill="#00bd94"/><rect x="17" y="24" fill="#00bd8c"/><rect x="18" y="24" fill="#00bc84"/><rect x="19" y="24" fill="#00bb7b"/><rect x="20" y="24" fill="#00ba72"/><rect x="21" y="24" fill="#00b968"/><rect x="22" y="24" fill="#00b95e"/><rect x="23" y="24" fill="#00b954"/><rect x="24" y="24" fill="#05b94a"/><rect x="25" y="24" fill="#12ba41"/><rect x="26" y="24" fill="#22bc3a"/><rect x="27" y="24" fill="#35bf35"/><rect x="28" y="24" fill="#4ac231"/><rect x="29" y="24" fill="#60c52e"/><rect x="30" y="24" fill="#75c82b"/><rect x="31" y="24" fill="#88cc27"/><rect x="32" y="24" fill="#9ad023"/><rect x="33" y="24" fill="#aad31e"/><rect x="34" y="24" fill="#b8d618"/><rect x="35" y="24" fill="#c3d812"/><rect x="36" y="24" fill="#cbda0b"/><rect x="37" y="24" fill="#d3db09"/><rect x="38" y="24" fill="#d8db03"/><rect x="39" y="24" fill="#ddda02"/><rect x="40" y="24" fill="#e0d903"/><rect x="41" y="24" fill="#e4d800"/><rect x="42" y="24" fill="#e7d601"/><rect x="43" y="24" fill="#e9d300"/><rect x="44" y="24" fill="#ecd101"/><rect x="45" y="24" fill="#eece00"/><rect x="46" y="24" fill="#f0cb00"/><rect x="47" y="24" fill="#f2c900"/><rect x="48" y="24" fill="#f4c700"/><rect x="49" y="24" fill="#f5c502"/><rect x="50" y="24" fill="#f6c300"/><rect x="51" y="24" fill="#f7c000"/><rect x="52" y="24" fill="#f8bf04"/><rect x="53" y="24" fill="#f9bc00"/><rect x="54" y="24" fill="#fab900"/><rect x="55" y="24" fill="#fbb600"/><rect x="56" y="24" fill="#fbb605"/><rect x="57" y="24" fill="#fcb302"/><rect x="58" y="24" fill="#fcb000"/><rect x="59" y="24" fill="#fdad00"/><rect x="60" y="24" fill="#fdae09"/><rect x="61" y="24" fill="#fdab07"/><rect x="62" y="24" fill="#fda804"/><rect x="63" y="24" fill="#fea602"/><rect x="64" y="24" fill="#fea300"/><rect x="65" y="24" fill="#fea50e"/><rect x="0" y="25" fill="#00c4cb"/><rect x="1" y="25" fill="#01c3c9"/><rect x="2" y="25" fill="#01c3c9"/><rect x="3" y="25" fill="#01c3c7"/><rect x="4" y="25" fill="#01c3c4"/><rect x="5" y="25" fill="#01c3c2"/><rect x="6" y="25" fill="#01c3bf"/><rect x="7" y="25" fill="#01c3bd"/><rect x="8" y="25" fill="#00c3ba"/><rect x="9" y="25" fill="#00c2b6"/><rect x="10" y="25" fill="#00c2b3"/><rect x="11" y="25" fill="#00c1af"/><rect x="12" y="25" fill="#00c1ab"/><rect x="13" y="25" fill="#00c0a6"/><rect x="14" y="25" fill="#00bfa1"/><rect x="15" y="25" fill="#00be9b"/><rect x="16" y="25" fill="#00bd94"/><rect x="17" y="25" fill="#00bc8d"/><rect x="18" y="25" fill="#00bc85"/><rect x="19" y="25" fill="#00bb7c"/><rect x="20" y="25" fill="#00ba72"/><rect x="21" y="25" fill="#00b968"/><rect x="22" y="25" fill="#00b95e"/><rect x="23" y="25" fill="#00b955"/><rect x="24" y="25" fill="#08ba4b"/><rect x="25" y="25" fill="#15bb43"/><rect x="26" y="25" fill="#26bd3d"/><rect x="27" y="25" fill="#3ac038"/><rect x="28" y="25" fill="#50c334"/><rect x="29" y="25" fill="#66c631"/><rect x="30" y="25" fill="#7bca2d"/><rect x="31" y="25" fill="#8fcd2a"/><rect x="32" y="25" fill="#a0d125"/><rect x="33" y="25" fill="#afd420"/><rect x="34" y="25" fill="#bcd71a"/><rect x="35" y="25" fill="#c7d914"/><rect x="36" y="25" fill="#cfda0d"/><rect x="37" y="25" fill="#d5db06"/><rect x="38" y="25" fill="#dbdb05"/><rect x="39" y="25" fill="#dfda00"/><rect x="40" y="25" fill="#e2d800"/><rect x="41" y="25" fill="#e6d701"/><rect x="42" y="25" fill="#e9d400"/><rect x="43" y="25" fill="#ecd100"/><rect x="44" y="25" fill="#eecf00"/><rect x="45" y="25" fill="#f0cc01"/><rect x="46" y="25" fill="#f2c900"/><rect x="47" y="25" fill="#f4c700"/><rect x="48" y="25" fill="#f5c500"/><rect x="49" y="25" fill="#f6c200"/><rect x="50" y="25" fill="#f7c002"/><rect x="51" y="25" fill="#f8be00"/><rect x="52" y="25" fill="#f9bb00"/><rect x="53" y="25" fill="#faba04"/><rect x="54" y="25" fill="#fbb701"/><rect x="55" y="25" fill="#fbb400"/><rect x="56" y="25" fill="#fcb100"/><rect x="57" y="25" fill="#fcb006"/><rect x="58" y="25" fill="#fdae03"/><rect x="59" y="25" fill="#fdab01"/><rect x="60" y="25" fill="#fda800"/><rect x="61" y="25" fill="#fda80b"/><rect x="62" y="25" fill="#fea608"/><rect x="63" y="25" fill="#fea306"/><rect x="64" y="25" fill="#fea004"/><rect x="65" y="25" fill="#fe9e02"/><rect x="0" y="26" fill="#00c4cb"/><rect x="1" y="26" fill="#01c3c9"/><rect x="2" y="26" fill="#01c3ca"/><rect x="3" y="26" fill="#01c3c7"/><rect x="4" y="26" fill="#01c3c5"/><rect x="5" y="26" fill="#01c3c3"/><rect x="6" y="26" fill="#01c3c0"/><rect x="7" y="26" fill="#00c3bd"/><rect x="8" y="26" fill="#00c2ba"/><rect x="9" y="26" fill="#00c2b7"/><rect x="10" y="26" fill="#00c2b3"/><rect x="11" y="26" fill="#00c1b0"/><rect x="12" y="26" fill="#00c1ab"/><rect x="13" y="26" fill="#00c0a7"/><rect x="14" y="26" fill="#00bfa2"/><rect x="15" y="26" fill="#00be9c"/><rect x="16" y="26" fill="#00bd95"/><rect x="17" y="26" fill="#00bd8e"/><rect x="18" y="26" fill="#00bc86"/><rect x="19" y="26" fill="#00bb7d"/><rect x="20" y="26" fill="#00ba74"/><rect x="21" y="26" fill="#00b96a"/><rect x="22" y="26" fill="#00b960"/><rect x="23" y="26" fill="#02ba57"/><rect x="24" y="26" fill="#0dba4e"/><rect x="25" y="26" fill="#1abc47"/><rect x="26" y="26" fill="#2cbe41"/><rect x="27" y="26" fill="#41c13c"/><rect x="28" y="26" fill="#57c438"/><rect x="29" y="26" fill="#6ec835"/><rect x="30" y="26" fill="#82cb31"/><rect x="31" y="26" fill="#96cf2d"/><rect x="32" y="26" fill="#a7d228"/><rect x="33" y="26" fill="#b5d523"/><rect x="34" y="26" fill="#c1d71c"/><rect x="35" y="26" fill="#cbd916"/><rect x="36" y="26" fill="#d2da0f"/><rect x="37" y="26" fill="#d8db08"/><rect x="38" y="26" fill="#ddda02"/><rect x="39" y="26" fill="#e1d901"/><rect x="40" y="26" fill="#e4d700"/><rect x="41" y="26" fill="#e8d500"/><rect x="42" y="26" fill="#ebd201"/><rect x="43" y="26" fill="#edcf00"/><rect x="44" y="26" fill="#f0cd00"/><rect x="45" y="26" fill="#f2ca00"/><rect x="46" y="26" fill="#f4c701"/><rect x="47" y="26" fill="#f5c500"/><rect x="48" y="26" fill="#f7c100"/><rect x="49" y="26" fill="#f8c000"/><rect x="50" y="26" fill="#f9bd00"/><rect x="51" y="26" fill="#f9bb03"/><rect x="52" y="26" fill="#fab800"/><rect x="53" y="26" fill="#fbb500"/><rect x="54" y="26" fill="#fbb405"/><rect x="55" y="26" fill="#fcb102"/><rect x="56" y="26" fill="#fdae00"/><rect x="57" y="26" fill="#fdab00"/><rect x="58" y="26" fill="#fdab08"/><rect x="59" y="26" fill="#fda805"/><rect x="60" y="26" fill="#fea503"/><rect x="61" y="26" fill="#fea200"/><rect x="62" y="26" fill="#fea30d"/><rect x="63" y="26" fill="#fea00a"/><rect x="64" y="26" fill="#fe9e08"/><rect x="65" y="26" fill="#ff9b06"/><rect x="0" y="27" fill="#01c3c9"/><rect x="1" y="27" fill="#01c3ca"/><rect x="2" y="27" fill="#01c3ca"/><rect x="3" y="27" fill="#01c3c8"/><rect x="4" y="27" fill="#01c3c6"/><rect x="5" y="27" fill="#01c3c3"/><rect x="6" y="27" fill="#01c3c1"/><rect x="7" y="27" fill="#00c3be"/><rect x="8" y="27" fill="#00c2bb"/><rect x="9" y="27" fill="#00c2b8"/><rect x="10" y="27" fill="#00c2b4"/><rect x="11" y="27" fill="#00c1b0"/><rect x="12" y="27" fill="#00c1ac"/><rect x="13" y="27" fill="#00c0a8"/><rect x="14" y="27" fill="#00bfa3"/><rect x="15" y="27" fill="#00be9d"/><rect x="16" y="27" fill="#00bd97"/><rect x="17" y="27" fill="#00bd90"/><rect x="18" y="27" fill="#00bc88"/><rect x="19" y="27" fill="#00bb7f"/><rect x="20" y="27" fill="#00ba76"/><rect x="21" y="27" fill="#00ba6d"/><rect x="22" y="27" fill="#00ba64"/><rect x="23" y="27" fill="#07ba5b"/><rect x="24" y="27" fill="#13bb53"/><rect x="25" y="27" fill="#21bd4c"/><rect x="26" y="27" fill="#34c046"/><rect x="27" y="27" fill="#4ac342"/><rect x="28" y="27" fill="#61c63e"/><rect x="29" y="27" fill="#77ca3a"/><rect x="30" y="27" fill="#8bcd36"/><rect x="31" y="27" fill="#9ed032"/><rect x="32" y="27" fill="#aed32c"/><rect x="33" y="27" fill="#bcd526"/><rect x="34" y="27" fill="#c7d820"/><rect x="35" y="27" fill="#d0d919"/><rect x="36" y="27" fill="#d6da12"/><rect x="37" y="27" fill="#dbdb0b"/><rect x="38" y="27" fill="#dfda05"/><rect x="39" y="27" fill="#e3d800"/><rect x="40" y="27" fill="#e7d600"/><rect x="41" y="27" fill="#ead300"/><rect x="42" y="27" fill="#edd000"/><rect x="43" y="27" fill="#efcd00"/><rect x="44" y="27" fill="#f2ca00"/><rect x="45" y="27" fill="#f3c800"/><rect x="46" y="27" fill="#f5c400"/><rect x="47" y="27" fill="#f6c200"/><rect x="48" y="27" fill="#f8bf00"/><rect x="49" y="27" fill="#f9bc00"/><rect x="50" y="27" fill="#faba00"/><rect x="51" y="27" fill="#fbb700"/><rect x="52" y="27" fill="#fbb504"/><rect x="53" y="27" fill="#fcb201"/><rect x="54" y="27" fill="#fcaf00"/><rect x="55" y="27" fill="#fdae07"/><rect x="56" y="27" fill="#fdab04"/><rect x="57" y="27" fill="#fda801"/><rect x="58" y="27" fill="#fea500"/><rect x="59" y="27" fill="#fea50a"/><rect x="60" y="27" fill="#fea207"/><rect x="61" y="27" fill="#fe9f05"/><rect x="62" y="27" fill="#ff9c03"/><rect x="63" y="27" fill="#fe9d0f"/><rect x="64" y="27" fill="#ff9b0c"/><rect x="65" y="27" fill="#ff980a"/><rect x="0" y="28" fill="#01c3ca"/><rect x="1" y="28" fill="#01c3cb"/><rect x="2" y="28" fill="#01c3cb"/><rect x="3" y="28" fill="#01c3c9"/><rect x="4" y="28" fill="#01c3c6"/><rect x="5" y="28" fill="#01c3c4"/><rect x="6" y="28" fill="#01c3c1"/><rect x="7" y="28" fill="#00c3be"/><rect x="8" y="28" fill="#00c2bb"/><rect x="9" y="28" fill="#00c2b8"/><rect x="10" y="28" fill="#00c2b5"/><rect x="11" y="28" fill="#00c1b1"/><rect x="12" y="28" fill="#00c1ad"/><rect x="13" y="28" fill="#00c0a9"/><rect x="14" y="28" fill="#00bfa4"/><rect x="15" y="28" fill="#00be9f"/><rect x="16" y="28" fill="#00be99"/><rect x="17" y="28" fill="#00bd92"/><rect x="18" y="28" fill="#00bc8a"/><rect x="19" y="28" fill="#00bb82"/><rect x="20" y="28" fill="#00bb7a"/><rect x="21" y="28" fill="#00bb71"/><rect x="22" y="28" fill="#03bb68"/><rect x="23" y="28" fill="#0dbb60"/><rect x="24" y="28" fill="#1abd58"/><rect x="25" y="28" fill="#2bbf52"/><rect x="26" y="28" fill="#3fc24d"/><rect x="27" y="28" fill="#55c549"/><rect x="28" y="28" fill="#6cc845"/><rect x="29" y="28" fill="#81cc41"/><rect x="30" y="28" fill="#95cf3d"/><rect x="31" y="28" fill="#a7d138"/><rect x="32" y="28" fill="#b6d432"/><rect x="33" y="28" fill="#c3d62b"/><rect x="34" y="28" fill="#cdd824"/><rect x="35" y="28" fill="#d5d91d"/><rect x="36" y="28" fill="#dbda16"/><rect x="37" y="28" fill="#dfda0f"/><rect x="38" y="28" fill="#e2d909"/><rect x="39" y="28" fill="#e6d703"/><rect x="40" y="28" fill="#e9d400"/><rect x="41" y="28" fill="#ecd100"/><rect x="42" y="28" fill="#efcd00"/><rect x="43" y="28" fill="#f1ca00"/><rect x="44" y="28" fill="#f3c800"/><rect x="45" y="28" fill="#f5c400"/><rect x="46" y="28" fill="#f7c200"/><rect x="47" y="28" fill="#f8bf00"/><rect x="48" y="28" fill="#f9bc01"/><rect x="49" y="28" fill="#fab900"/><rect x="50" y="28" fill="#fbb500"/><rect x="51" y="28" fill="#fbb400"/><rect x="52" y="28" fill="#fcb000"/><rect x="53" y="28" fill="#fcaf05"/><rect x="54" y="28" fill="#fdac02"/><rect x="55" y="28" fill="#fda800"/><rect x="56" y="28" fill="#fda809"/><rect x="57" y="28" fill="#fea506"/><rect x="58" y="28" fill="#fea104"/><rect x="59" y="28" fill="#fe9e01"/><rect x="60" y="28" fill="#fe9f0c"/><rect x="61" y="28" fill="#ff9c09"/><rect x="62" y="28" fill="#ff9907"/><rect x="63" y="28" fill="#ff9605"/><rect x="64" y="28" fill="#ff9811"/><rect x="65" y="28" fill="#ff950f"/><rect x="0" y="29" fill="#01c3cb"/><rect x="1" y="29" fill="#01c3cb"/><rect x="2" y="29" fill="#01c3cc"/><rect x="3" y="29" fill="#01c3c9"/><rect x="4" y="29" fill="#01c3c7"/><rect x="5" y="29" fill="#01c3c5"/><rect x="6" y="29" fill="#01c3c2"/><rect x="7" y="29" fill="#00c3bf"/><rect x="8" y="29" fill="#00c2bc"/><rect x="9" y="29" fill="#00c2b9"/><rect x="10" y="29" fill="#00c2b6"/><rect x="11" y="29" fill="#00c1b2"/><rect x="12" y="29" fill="#00c1af"/><rect x="13" y="29" fill="#00c0aa"/><rect x="14" y="29" fill="#00bfa6"/><rect x="15" y="29" fill="#00bea1"/><rect x="16" y="29" fill="#00be9b"/><rect x="17" y="29" fill="#00bd95"/><rect x="18" y="29" fill="#00bd8e"/><rect x="19" y="29" fill="#00bc86"/><rect x="20" y="29" fill="#00bc7e"/><rect x="21" y="29" fill="#00bc76"/><rect x="22" y="29" fill="#07bc6e"/><rect x="23" y="29" fill="#13bd67"/><rect x="24" y="29" fill="#24be60"/><rect x="25" y="29" fill="#37c15a"/><rect x="26" y="29" fill="#4bc455"/><rect x="27" y="29" fill="#62c751"/><rect x="28" y="29" fill="#78cb4e"/><rect x="29" y="29" fill="#8cce4a"/><rect x="30" y="29" fill="#9fd045"/><rect x="31" y="29" fill="#b0d33f"/><rect x="32" y="29" fill="#bfd539"/><rect x="33" y="29" fill="#cbd632"/><rect x="34" y="29" fill="#d4d82a"/><rect x="35" y="29" fill="#dad922"/><rect x="36" y="29" fill="#dfda1a"/><rect x="37" y="29" fill="#e3d914"/><rect x="38" y="29" fill="#e6d80e"/><rect x="39" y="29" fill="#e9d508"/><rect x="40" y="29" fill="#ecd202"/><rect x="41" y="29" fill="#eece00"/><rect x="42" y="29" fill="#f1cb00"/><rect x="43" y="29" fill="#f3c700"/><rect x="44" y="29" fill="#f5c400"/><rect x="45" y="29" fill="#f7c200"/><rect x="46" y="29" fill="#f8be00"/><rect x="47" y="29" fill="#f9bc00"/><rect x="48" y="29" fill="#fab800"/><rect x="49" y="29" fill="#fbb602"/><rect x="50" y="29" fill="#fcb200"/><rect x="51" y="29" fill="#fcae00"/><rect x="52" y="29" fill="#fdad02"/><rect x="53" y="29" fill="#fda900"/><rect x="54" y="29" fill="#fda807"/><rect x="55" y="29" fill="#fea504"/><rect x="56" y="29" fill="#fea102"/><rect x="57" y="29" fill="#fea10b"/><rect x="58" y="29" fill="#fe9e08"/><rect x="59" y="29" fill="#ff9b06"/><rect x="60" y="29" fill="#ff9804"/><rect x="61" y="29" fill="#ff990e"/><rect x="62" y="29" fill="#ff960c"/><rect x="63" y="29" fill="#ff930a"/><rect x="64" y="29" fill="#ff9008"/><rect x="65" y="29" fill="#ff9213"/><rect x="0" y="30" fill="#01c3cb"/><rect x="1" y="30" fill="#01c3cc"/><rect x="2" y="30" fill="#01c3cc"/><rect x="3" y="30" fill="#01c3ca"/><rect x="4" y="30" fill="#01c3c8"/><rect x="5" y="30" fill="#01c3c5"/><rect x="6" y="30" fill="#01c3c3"/><rect x="7" y="30" fill="#00c3c0"/><rect x="8" y="30" fill="#00c2bd"/><rect x="9" y="30" fill="#00c2ba"/><rect x="10" y="30" fill="#00c2b7"/><rect x="11" y="30" fill="#00c1b4"/><rect x="12" y="30" fill="#00c1b0"/><rect x="13" y="30" fill="#00c0ac"/><rect x="14" y="30" fill="#00bfa8"/><rect x="15" y="30" fill="#00bfa3"/><rect x="16" y="30" fill="#00be9e"/><rect x="17" y="30" fill="#00be98"/><rect x="18" y="30" fill="#00bd92"/><rect x="19" y="30" fill="#00bd8b"/><rect x="20" y="30" fill="#00bd83"/><rect x="21" y="30" fill="#02bd7c"/><rect x="22" y="30" fill="#0bbd75"/><rect x="23" y="30" fill="#19be6f"/><rect x="24" y="30" fill="#2dc068"/><rect x="25" y="30" fill="#42c362"/><rect x="26" y="30" fill="#57c65e"/><rect x="27" y="30" fill="#6eca5b"/><rect x="28" y="30" fill="#84cd57"/><rect x="29" y="30" fill="#97d053"/><rect x="30" y="30" fill="#a8d24e"/><rect x="31" y="30" fill="#b8d448"/><rect x="32" y="30" fill="#c6d641"/><rect x="33" y="30" fill="#d1d739"/><rect x="34" y="30" fill="#d9d831"/><rect x="35" y="30" fill="#dfd929"/><rect x="36" y="30" fill="#e3d921"/><rect x="37" y="30" fill="#e6d81a"/><rect x="38" y="30" fill="#e9d614"/><rect x="39" y="30" fill="#ecd30e"/><rect x="40" y="30" fill="#eecf08"/><rect x="41" y="30" fill="#f1cb02"/><rect x="42" y="30" fill="#f3c800"/><rect x="43" y="30" fill="#f5c500"/><rect x="44" y="30" fill="#f7c100"/><rect x="45" y="30" fill="#f8be00"/><rect x="46" y="30" fill="#f9bb00"/><rect x="47" y="30" fill="#fab700"/><rect x="48" y="30" fill="#fbb501"/><rect x="49" y="30" fill="#fcb100"/><rect x="50" y="30" fill="#fcaf04"/><rect x="51" y="30" fill="#fdab00"/><rect x="52" y="30" fill="#fea700"/><rect x="53" y="30" fill="#fea604"/><rect x="54" y="30" fill="#fea201"/><rect x="55" y="30" fill="#fea10a"/><rect x="56" y="30" fill="#fe9e07"/><rect x="57" y="30" fill="#ff9a04"/><rect x="58" y="30" fill="#ff9b0d"/><rect x="59" y="30" fill="#ff970b"/><rect x="60" y="30" fill="#ff9409"/><rect x="61" y="30" fill="#ff9107"/><rect x="62" y="30" fill="#ff9211"/><rect x="63" y="30" fill="#ff8f0f"/><rect x="64" y="30" fill="#ff8d0d"/><rect x="65" y="30" fill="#ff8a0c"/><rect x="0" y="31" fill="#01c3cc"/><rect x="1" y="31" fill="#01c3cd"/><rect x="2" y="31" fill="#01c3cd"/><rect x="3" y="31" fill="#01c3cb"/><rect x="4" y="31" fill="#01c3c9"/><rect x="5" y="31" fill="#01c3c6"/><rect x="6" y="31" fill="#01c3c4"/><rect x="7" y="31" fill="#00c3c1"/><rect x="8" y="31" fill="#00c2be"/><rect x="9" y="31" fill="#00c2bb"/><rect x="10" y="31" fill="#00c2b8"/><rect x="11" y="31" fill="#00c1b5"/><rect x="12" y="31" fill="#00c1b2"/><rect x="13" y="31" fill="#00c0ae"/><rect x="14" y="31" fill="#00bfaa"/><rect x="15" y="31" fill="#00bfa6"/><rect x="16" y="31" fill="#00bea1"/><rect x="17" y="31" fill="#00be9c"/><rect x="18" y="31" fill="#00bd96"/><rect x="19" y="31" fill="#00bd90"/><rect x="20" y="31" fill="#00bd89"/><rect x="21" y="31" fill="#06be83"/><rect x="22" y="31" fill="#10bf7e"/><rect x="23" y="31" fill="#20c078"/><rect x="24" y="31" fill="#34c271"/><rect x="25" y="31" fill="#4bc56c"/><rect x="26" y="31" fill="#62c968"/><rect x="27" y="31" fill="#78cd65"/><rect x="28" y="31" fill="#8dd061"/><rect x="29" y="31" fill="#a0d25d"/><rect x="30" y="31" fill="#b0d457"/><rect x="31" y="31" fill="#c0d651"/><rect x="32" y="31" fill="#ccd74a"/><rect x="33" y="31" fill="#d7d842"/><rect x="34" y="31" fill="#ded93a"/><rect x="35" y="31" fill="#e3d931"/><rect x="36" y="31" fill="#e7d829"/><rect x="37" y="31" fill="#e9d722"/><rect x="38" y="31" fill="#ecd41b"/><rect x="39" y="31" fill="#eed115"/><rect x="40" y="31" fill="#f1cd0f"/><rect x="41" y="31" fill="#f3c908"/><rect x="42" y="31" fill="#f5c502"/><rect x="43" y="31" fill="#f7c100"/><rect x="44" y="31" fill="#f8be00"/><rect x="45" y="31" fill="#fab900"/><rect x="46" y="31" fill="#fbb600"/><rect x="47" y="31" fill="#fbb302"/><rect x="48" y="31" fill="#fcaf00"/><rect x="49" y="31" fill="#fdad03"/><rect x="50" y="31" fill="#fda900"/><rect x="51" y="31" fill="#fea706"/><rect x="52" y="31" fill="#fea303"/><rect x="53" y="31" fill="#fe9f00"/><rect x="54" y="31" fill="#fe9e07"/><rect x="55" y="31" fill="#ff9a04"/><rect x="56" y="31" fill="#ff9a0c"/><rect x="57" y="31" fill="#ff970a"/><rect x="58" y="31" fill="#ff9308"/><rect x="59" y="31" fill="#ff9410"/><rect x="60" y="31" fill="#ff910e"/><rect x="61" y="31" fill="#ff8d0d"/><rect x="62" y="31" fill="#ff8a0b"/><rect x="63" y="31" fill="#ff8c14"/><rect x="64" y="31" fill="#ff8913"/><rect x="65" y="31" fill="#ff8611"/><rect x="0" y="32" fill="#01c3cd"/><rect x="1" y="32" fill="#01c3ce"/><rect x="2" y="32" fill="#01c3cc"/><rect x="3" y="32" fill="#01c3cc"/><rect x="4" y="32" fill="#01c3ca"/><rect x="5" y="32" fill="#01c3c7"/><rect x="6" y="32" fill="#00c3c5"/><rect x="7" y="32" fill="#00c2c2"/><rect x="8" y="32" fill="#00c2c0"/><rect x="9" y="32" fill="#00c2bd"/><rect x="10" y="32" fill="#00c2ba"/><rect x="11" y="32" fill="#00c1b7"/><rect x="12" y="32" fill="#00c1b4"/><rect x="13" y="32" fill="#00c0b0"/><rect x="14" y="32" fill="#00bfad"/><rect x="15" y="32" fill="#00bfa9"/><rect x="16" y="32" fill="#00bea4"/><rect x="17" y="32" fill="#00bea0"/><rect x="18" y="32" fill="#00be9b"/><rect x="19" y="32" fill="#00be95"/><rect x="20" y="32" fill="#03be90"/><rect x="21" y="32" fill="#0bbf8a"/><rect x="22" y="32" fill="#17c085"/><rect x="23" y="32" fill="#28c280"/><rect x="24" y="32" fill="#3cc57a"/><rect x="25" y="32" fill="#53c876"/><rect x="26" y="32" fill="#6bcc72"/><rect x="27" y="32" fill="#81cf6f"/><rect x="28" y="32" fill="#95d26b"/><rect x="29" y="32" fill="#a7d567"/><rect x="30" y="32" fill="#b8d661"/><rect x="31" y="32" fill="#c6d85a"/><rect x="32" y="32" fill="#d2d853"/><rect x="33" y="32" fill="#dbd94b"/><rect x="34" y="32" fill="#e2d943"/><rect x="35" y="32" fill="#e7d83b"/><rect x="36" y="32" fill="#ead732"/><rect x="37" y="32" fill="#ecd52b"/><rect x="38" y="32" fill="#eed224"/><rect x="39" y="32" fill="#f1ce1d"/><rect x="40" y="32" fill="#f3ca16"/><rect x="41" y="32" fill="#f5c60f"/><rect x="42" y="32" fill="#f7c208"/><rect x="43" y="32" fill="#f9bd02"/><rect x="44" y="32" fill="#fab900"/><rect x="45" y="32" fill="#fbb500"/><rect x="46" y="32" fill="#fcb100"/><rect x="47" y="32" fill="#fdae00"/><rect x="48" y="32" fill="#fdab04"/><rect x="49" y="32" fill="#fea700"/><rect x="50" y="32" fill="#fea506"/><rect x="51" y="32" fill="#fea003"/><rect x="52" y="32" fill="#fe9f09"/><rect x="53" y="32" fill="#ff9b06"/><rect x="54" y="32" fill="#ff9703"/><rect x="55" y="32" fill="#ff960a"/><rect x="56" y="32" fill="#ff9208"/><rect x="57" y="32" fill="#ff930f"/><rect x="58" y="32" fill="#ff8f0d"/><rect x="59" y="32" fill="#ff8c0c"/><rect x="60" y="32" fill="#ff8d14"/><rect x="61" y="32" fill="#ff8a12"/><rect x="62" y="32" fill="#ff8611"/><rect x="63" y="32" fill="#ff830f"/><rect x="64" y="32" fill="#ff8618"/><rect x="65" y="32" fill="#ff8317"/><rect x="0" y="33" fill="#01c3ce"/><rect x="1" y="33" fill="#01c4cf"/><rect x="2" y="33" fill="#01c3cc"/><rect x="3" y="33" fill="#01c3cd"/><rect x="4" y="33" fill="#01c3ca"/><rect x="5" y="33" fill="#01c3c8"/><rect x="6" y="33" fill="#00c3c6"/><rect x="7" y="33" fill="#00c2c4"/><rect x="8" y="33" fill="#00c2c1"/><rect x="9" y="33" fill="#00c2be"/><rect x="10" y="33" fill="#00c2bc"/><rect x="11" y="33" fill="#00c1b9"/><rect x="12" y="33" fill="#00c1b6"/><rect x="13" y="33" fill="#00c0b3"/><rect x="14" y="33" fill="#00bfaf"/><rect x="15" y="33" fill="#00bfac"/><rect x="16" y="33" fill="#00bfa8"/><rect x="17" y="33" fill="#00bea3"/><rect x="18" y="33" fill="#00be9f"/><rect x="19" y="33" fill="#00be9a"/><rect x="20" y="33" fill="#05bf96"/><rect x="21" y="33" fill="#10c091"/><rect x="22" y="33" fill="#1ec28d"/><rect x="23" y="33" fill="#30c488"/><rect x="24" y="33" fill="#45c783"/><rect x="25" y="33" fill="#5dcb7f"/><rect x="26" y="33" fill="#74ce7c"/><rect x="27" y="33" fill="#8ad278"/><rect x="28" y="33" fill="#9ed575"/><rect x="29" y="33" fill="#afd770"/><rect x="30" y="33" fill="#bfd86a"/><rect x="31" y="33" fill="#ccd964"/><rect x="32" y="33" fill="#d6d95d"/><rect x="33" y="33" fill="#dfd955"/><rect x="34" y="33" fill="#e5d84d"/><rect x="35" y="33" fill="#ead744"/><rect x="36" y="33" fill="#edd53c"/><rect x="37" y="33" fill="#efd334"/><rect x="38" y="33" fill="#f1cf2d"/><rect x="39" y="33" fill="#f4cb25"/><rect x="40" y="33" fill="#f5c71e"/><rect x="41" y="33" fill="#f7c317"/><rect x="42" y="33" fill="#f9be10"/><rect x="43" y="33" fill="#faba09"/><rect x="44" y="33" fill="#fbb504"/><rect x="45" y="33" fill="#fcb000"/><rect x="46" y="33" fill="#fdac02"/><rect x="47" y="33" fill="#fda700"/><rect x="48" y="33" fill="#fea402"/><rect x="49" y="33" fill="#fea207"/><rect x="50" y="33" fill="#fe9d03"/><rect x="51" y="33" fill="#ff9c09"/><rect x="52" y="33" fill="#ff9706"/><rect x="53" y="33" fill="#ff960c"/><rect x="54" y="33" fill="#ff920a"/><rect x="55" y="33" fill="#ff8e08"/><rect x="56" y="33" fill="#ff8e0e"/><rect x="57" y="33" fill="#ff8b0c"/><rect x="58" y="33" fill="#ff8b14"/><rect x="59" y="33" fill="#ff8812"/><rect x="60" y="33" fill="#ff8410"/><rect x="61" y="33" fill="#ff8619"/><rect x="62" y="33" fill="#ff8317"/><rect x="63" y="33" fill="#ff7f15"/><rect x="64" y="33" fill="#ff7c13"/><rect x="65" y="33" fill="#ff7f1c"/><rect x="0" y="34" fill="#01c4cf"/><rect x="1" y="34" fill="#01c4cf"/><rect x="2" y="34" fill="#01c3cd"/><rect x="3" y="34" fill="#01c3ce"/><rect x="4" y="34" fill="#01c3cc"/><rect x="5" y="34" fill="#01c3c9"/><rect x="6" y="34" fill="#00c3c7"/><rect x="7" y="34" fill="#00c2c5"/><rect x="8" y="34" fill="#00c2c3"/><rect x="9" y="34" fill="#00c2c0"/><rect x="10" y="34" fill="#00c2be"/><rect x="11" y="34" fill="#00c1bb"/><rect x="12" y="34" fill="#00c1b8"/><rect x="13" y="34" fill="#00c0b5"/><rect x="14" y="34" fill="#00c0b2"/><rect x="15" y="34" fill="#00bfaf"/><rect x="16" y="34" fill="#00bfab"/><rect x="17" y="34" fill="#00bfa7"/><rect x="18" y="34" fill="#00bfa4"/><rect x="19" y="34" fill="#00bf9f"/><rect x="20" y="34" fill="#08c09b"/><rect x="21" y="34" fill="#14c197"/><rect x="22" y="34" fill="#24c494"/><rect x="23" y="34" fill="#38c690"/><rect x="24" y="34" fill="#4eca8c"/><rect x="25" y="34" fill="#66cd89"/><rect x="26" y="34" fill="#7ed185"/><rect x="27" y="34" fill="#94d582"/><rect x="28" y="34" fill="#a7d77e"/><rect x="29" y="34" fill="#b7d979"/><rect x="30" y="34" fill="#c6da74"/><rect x="31" y="34" fill="#d1da6d"/><rect x="32" y="34" fill="#dbda67"/><rect x="33" y="34" fill="#e3d95f"/><rect x="34" y="34" fill="#e9d857"/><rect x="35" y="34" fill="#edd64e"/><rect x="36" y="34" fill="#f0d346"/><rect x="37" y="34" fill="#f2d03e"/><rect x="38" y="34" fill="#f4cc36"/><rect x="39" y="34" fill="#f6c82e"/><rect x="40" y="34" fill="#f8c327"/><rect x="41" y="34" fill="#f9bf1f"/><rect x="42" y="34" fill="#faba18"/><rect x="43" y="34" fill="#fbb511"/><rect x="44" y="34" fill="#fcb00b"/><rect x="45" y="34" fill="#fdab06"/><rect x="46" y="34" fill="#fea502"/><rect x="47" y="34" fill="#fea205"/><rect x="48" y="34" fill="#fe9d02"/><rect x="49" y="34" fill="#ff9b06"/><rect x="50" y="34" fill="#ff990a"/><rect x="51" y="34" fill="#ff9408"/><rect x="52" y="34" fill="#ff930d"/><rect x="53" y="34" fill="#ff8e0b"/><rect x="54" y="34" fill="#ff8e10"/><rect x="55" y="34" fill="#ff8a0e"/><rect x="56" y="34" fill="#ff860d"/><rect x="57" y="34" fill="#ff8613"/><rect x="58" y="34" fill="#ff8211"/><rect x="59" y="34" fill="#ff8418"/><rect x="60" y="34" fill="#ff8016"/><rect x="61" y="34" fill="#ff7c14"/><rect x="62" y="34" fill="#ff7f1c"/><rect x="63" y="34" fill="#ff7b1a"/><rect x="64" y="34" fill="#ff7818"/><rect x="65" y="34" fill="#ff7416"/><rect x="0" y="35" fill="#01c4d0"/><rect x="1" y="35" fill="#01c3ce"/><rect x="2" y="35" fill="#01c3ce"/><rect x="3" y="35" fill="#01c3cf"/><rect x="4" y="35" fill="#01c3cd"/><rect x="5" y="35" fill="#01c3cb"/><rect x="6" y="35" fill="#00c3c8"/><rect x="7" y="35" fill="#00c2c6"/><rect x="8" y="35" fill="#00c2c4"/><rect x="9" y="35" fill="#00c2c2"/><rect x="10" y="35" fill="#00c2bf"/><rect x="11" y="35" fill="#00c1bd"/><rect x="12" y="35" fill="#00c1ba"/><rect x="13" y="35" fill="#00c0b8"/><rect x="14" y="35" fill="#00c0b5"/><rect x="15" y="35" fill="#00bfb2"/><rect x="16" y="35" fill="#00bfaf"/><rect x="17" y="35" fill="#00bfac"/><rect x="18" y="35" fill="#00bfa8"/><rect x="19" y="35" fill="#00bfa5"/><rect x="20" y="35" fill="#09c1a1"/><rect x="21" y="35" fill="#17c29e"/><rect x="22" y="35" fill="#29c59b"/><rect x="23" y="35" fill="#3fc897"/><rect x="24" y="35" fill="#57cc94"/><rect x="25" y="35" fill="#70d091"/><rect x="26" y="35" fill="#88d48e"/><rect x="27" y="35" fill="#9dd78b"/><rect x="28" y="35" fill="#b0d987"/><rect x="29" y="35" fill="#bfdb82"/><rect x="30" y="35" fill="#ccdc7d"/><rect x="31" y="35" fill="#d7db77"/><rect x="32" y="35" fill="#e0db70"/><rect x="33" y="35" fill="#e7d969"/><rect x="34" y="35" fill="#ecd761"/><rect x="35" y="35" fill="#f0d458"/><rect x="36" y="35" fill="#f3d050"/><rect x="37" y="35" fill="#f5cd48"/><rect x="38" y="35" fill="#f7c840"/><rect x="39" y="35" fill="#f8c438"/><rect x="40" y="35" fill="#fabf30"/><rect x="41" y="35" fill="#fbba28"/><rect x="42" y="35" fill="#fcb521"/><rect x="43" y="35" fill="#fdb01a"/><rect x="44" y="35" fill="#fdab14"/><rect x="45" y="35" fill="#fea50f"/><rect x="46" y="35" fill="#fea00a"/><rect x="47" y="35" fill="#ff9b06"/><rect x="48" y="35" fill="#ff9809"/><rect x="49" y="35" fill="#ff9306"/><rect x="50" y="35" fill="#ff910a"/><rect x="51" y="35" fill="#ff8f0f"/><rect x="52" y="35" fill="#ff8a0d"/><rect x="53" y="35" fill="#ff8a12"/><rect x="54" y="35" fill="#ff8510"/><rect x="55" y="35" fill="#ff8516"/><rect x="56" y="35" fill="#ff8114"/><rect x="57" y="35" fill="#ff7d11"/><rect x="58" y="35" fill="#ff7e18"/><rect x="59" y="35" fill="#ff7a15"/><rect x="60" y="35" fill="#ff7b1c"/><rect x="61" y="35" fill="#ff781a"/><rect x="62" y="35" fill="#ff7417"/><rect x="63" y="35" fill="#ff771f"/><rect x="64" y="35" fill="#ff731d"/><rect x="65" y="35" fill="#ff701a"/><rect x="0" y="36" fill="#01c4d1"/><rect x="1" y="36" fill="#01c3cf"/><rect x="2" y="36" fill="#01c3cf"/><rect x="3" y="36" fill="#01c4d0"/><rect x="4" y="36" fill="#01c3ce"/><rect x="5" y="36" fill="#00c3cc"/><rect x="6" y="36" fill="#00c3ca"/><rect x="7" y="36" fill="#00c3c8"/><rect x="8" y="36" fill="#00c2c6"/><rect x="9" y="36" fill="#00c2c4"/><rect x="10" y="36" fill="#00c2c1"/><rect x="11" y="36" fill="#00c1bf"/><rect x="12" y="36" fill="#00c1bd"/><rect x="13" y="36" fill="#00c0bb"/><rect x="14" y="36" fill="#00c0b8"/><rect x="15" y="36" fill="#00c0b5"/><rect x="16" y="36" fill="#00bfb3"/><rect x="17" y="36" fill="#00bfb0"/><rect x="18" y="36" fill="#00bfad"/><rect x="19" y="36" fill="#00c0aa"/><rect x="20" y="36" fill="#09c1a7"/><rect x="21" y="36" fill="#19c3a4"/><rect x="22" y="36" fill="#2ec6a2"/><rect x="23" y="36" fill="#46ca9f"/><rect x="24" y="36" fill="#5fce9c"/><rect x="25" y="36" fill="#79d299"/><rect x="26" y="36" fill="#91d696"/><rect x="27" y="36" fill="#a6d993"/><rect x="28" y="36" fill="#b8db8f"/><rect x="29" y="36" fill="#c7dc8a"/><rect x="30" y="36" fill="#d3dc85"/><rect x="31" y="36" fill="#dcdc80"/><rect x="32" y="36" fill="#e4db79"/><rect x="33" y="36" fill="#ead872"/><rect x="34" y="36" fill="#efd56a"/><rect x="35" y="36" fill="#f3d161"/><rect x="36" y="36" fill="#f6cd59"/><rect x="37" y="36" fill="#f8c951"/><rect x="38" y="36" fill="#f9c449"/><rect x="39" y="36" fill="#fbbf41"/><rect x="40" y="36" fill="#fcba39"/><rect x="41" y="36" fill="#fdb432"/><rect x="42" y="36" fill="#fdaf2b"/><rect x="43" y="36" fill="#feaa24"/><rect x="44" y="36" fill="#fea51e"/><rect x="45" y="36" fill="#fea018"/><rect x="46" y="36" fill="#ff9a13"/><rect x="47" y="36" fill="#ff950e"/><rect x="48" y="36" fill="#ff8f0b"/><rect x="49" y="36" fill="#ff8d0f"/><rect x="50" y="36" fill="#ff880c"/><rect x="51" y="36" fill="#ff8610"/><rect x="52" y="36" fill="#ff8515"/><rect x="53" y="36" fill="#ff8013"/><rect x="54" y="36" fill="#ff8018"/><rect x="55" y="36" fill="#ff7b15"/><rect x="56" y="36" fill="#ff7c1a"/><rect x="57" y="36" fill="#ff7818"/><rect x="58" y="36" fill="#ff7415"/><rect x="59" y="36" fill="#ff751b"/><rect x="60" y="36" fill="#ff7118"/><rect x="61" y="36" fill="#ff731f"/><rect x="62" y="36" fill="#ff6f1c"/><rect x="63" y="36" fill="#ff6c1a"/><rect x="64" y="36" fill="#ff6f21"/><rect x="65" y="36" fill="#ff6c1e"/><rect x="0" y="37" fill="#01c4d2"/><rect x="1" y="37" fill="#01c3d0"/><rect x="2" y="37" fill="#01c4d1"/><rect x="3" y="37" fill="#01c4d1"/><rect x="4" y="37" fill="#01c3cf"/><rect x="5" y="37" fill="#00c3cd"/><rect x="6" y="37" fill="#00c3cb"/><rect x="7" y="37" fill="#00c3c9"/><rect x="8" y="37" fill="#00c2c7"/><rect x="9" y="37" fill="#00c2c6"/><rect x="10" y="37" fill="#00c2c4"/><rect x="11" y="37" fill="#00c2c2"/><rect x="12" y="37" fill="#00c1c0"/><rect x="13" y="37" fill="#00c1be"/><rect x="14" y="37" fill="#00c0bb"/><rect x="15" y="37" fill="#00c0b9"/><rect x="16" y="37" fill="#00c0b7"/><rect x="17" y="37" fill="#00c0b4"/><rect x="18" y="37" fill="#00c0b2"/><rect x="19" y="37" fill="#00c1b0"/><rect x="20" y="37" fill="#09c2ad"/><rect x="21" y="37" fill="#1ac4ab"/><rect x="22" y="37" fill="#31c7a9"/><rect x="23" y="37" fill="#4ccba7"/><rect x="24" y="37" fill="#67d0a4"/><rect x="25" y="37" fill="#82d4a2"/><rect x="26" y="37" fill="#99d89e"/><rect x="27" y="37" fill="#aedb9b"/><rect x="28" y="37" fill="#c0dc96"/><rect x="29" y="37" fill="#cedd92"/><rect x="30" y="37" fill="#d9dd8d"/><rect x="31" y="37" fill="#e2dc88"/><rect x="32" y="37" fill="#e8da82"/><rect x="33" y="37" fill="#eed77b"/><rect x="34" y="37" fill="#f2d372"/><rect x="35" y="37" fill="#f5ce6a"/><rect x="36" y="37" fill="#f8c961"/><rect x="37" y="37" fill="#fac459"/><rect x="38" y="37" fill="#fbbf51"/><rect x="39" y="37" fill="#fdb94a"/><rect x="40" y="37" fill="#fdb442"/><rect x="41" y="37" fill="#feae3b"/><rect x="42" y="37" fill="#fea934"/><rect x="43" y="37" fill="#ffa42d"/><rect x="44" y="37" fill="#ff9f27"/><rect x="45" y="37" fill="#ff9922"/><rect x="46" y="37" fill="#ff941d"/><rect x="47" y="37" fill="#ff8f18"/><rect x="48" y="37" fill="#ff8915"/><rect x="49" y="37" fill="#ff8412"/><rect x="50" y="37" fill="#ff8215"/><rect x="51" y="37" fill="#ff7d12"/><rect x="52" y="37" fill="#ff7b16"/><rect x="53" y="37" fill="#ff7b1a"/><rect x="54" y="37" fill="#ff7617"/><rect x="55" y="37" fill="#ff761c"/><rect x="56" y="37" fill="#ff7119"/><rect x="57" y="37" fill="#ff721e"/><rect x="58" y="37" fill="#ff6e1b"/><rect x="59" y="37" fill="#ff6a18"/><rect x="60" y="37" fill="#ff6c1d"/><rect x="61" y="37" fill="#ff681a"/><rect x="62" y="37" fill="#ff6b21"/><rect x="63" y="37" fill="#ff671e"/><rect x="64" y="37" fill="#ff641b"/><rect x="65" y="37" fill="#ff6722"/><rect x="0" y="38" fill="#00c4d1"/><rect x="1" y="38" fill="#00c4d1"/><rect x="2" y="38" fill="#01c4d2"/><rect x="3" y="38" fill="#01c4d2"/><rect x="4" y="38" fill="#00c3d0"/><rect x="5" y="38" fill="#00c3ce"/><rect x="6" y="38" fill="#00c3cd"/><rect x="7" y="38" fill="#00c3cb"/><rect x="8" y="38" fill="#00c3c9"/><rect x="9" y="38" fill="#00c2c7"/><rect x="10" y="38" fill="#00c2c6"/><rect x="11" y="38" fill="#00c2c4"/><rect x="12" y="38" fill="#00c2c2"/><rect x="13" y="38" fill="#00c1c1"/><rect x="14" y="38" fill="#00c1bf"/><rect x="15" y="38" fill="#00c1bd"/><rect x="16" y="38" fill="#00c1bb"/><rect x="17" y="38" fill="#00c1b9"/><rect x="18" y="38" fill="#00c1b8"/><rect x="19" y="38" fill="#00c1b6"/><rect x="20" y="38" fill="#08c2b4"/><rect x="21" y="38" fill="#1bc5b2"/><rect x="22" y="38" fill="#35c9b1"/><rect x="23" y="38" fill="#53cdb0"/><rect x="24" y="38" fill="#70d2ad"/><rect x="25" y="38" fill="#8bd6aa"/><rect x="26" y="38" fill="#a2d9a7"/><rect x="27" y="38" fill="#b6dca3"/><rect x="28" y="38" fill="#c7dd9e"/><rect x="29" y="38" fill="#d5de9a"/><rect x="30" y="38" fill="#dfdd95"/><rect x="31" y="38" fill="#e7db90"/><rect x="32" y="38" fill="#edd889"/><rect x="33" y="38" fill="#f1d482"/><rect x="34" y="38" fill="#f5d07a"/><rect x="35" y="38" fill="#f8ca71"/><rect x="36" y="38" fill="#fac468"/><rect x="37" y="38" fill="#fcbe60"/><rect x="38" y="38" fill="#fdb959"/><rect x="39" y="38" fill="#feb352"/><rect x="40" y="38" fill="#ffad4b"/><rect x="41" y="38" fill="#ffa843"/><rect x="42" y="38" fill="#ffa23d"/><rect x="43" y="38" fill="#ff9d36"/><rect x="44" y="38" fill="#ff9831"/><rect x="45" y="38" fill="#ff932c"/><rect x="46" y="38" fill="#ff8d27"/><rect x="47" y="38" fill="#ff8823"/><rect x="48" y="38" fill="#ff831f"/><rect x="49" y="38" fill="#ff7d1b"/><rect x="50" y="38" fill="#ff7717"/><rect x="51" y="38" fill="#ff761a"/><rect x="52" y="38" fill="#ff7117"/><rect x="53" y="38" fill="#ff701a"/><rect x="54" y="38" fill="#ff701e"/><rect x="55" y="38" fill="#ff6b1a"/><rect x="56" y="38" fill="#ff6c1e"/><rect x="57" y="38" fill="#ff671b"/><rect x="58" y="38" fill="#ff681f"/><rect x="59" y="38" fill="#ff651c"/><rect x="60" y="38" fill="#ff6119"/><rect x="61" y="38" fill="#ff631e"/><rect x="62" y="38" fill="#ff5f1b"/><rect x="63" y="38" fill="#ff6221"/><rect x="64" y="38" fill="#ff5f1e"/><rect x="65" y="38" fill="#ff5c1c"/><rect x="0" y="39" fill="#00c4d2"/><rect x="1" y="39" fill="#00c4d2"/><rect x="2" y="39" fill="#00c4d3"/><rect x="3" y="39" fill="#00c4d3"/><rect x="4" y="39" fill="#00c4d1"/><rect x="5" y="39" fill="#00c3d0"/><rect x="6" y="39" fill="#00c3ce"/><rect x="7" y="39" fill="#00c3cc"/><rect x="8" y="39" fill="#00c3cb"/><rect x="9" y="39" fill="#00c3c9"/><rect x="10" y="39" fill="#00c2c8"/><rect x="11" y="39" fill="#00c2c6"/><rect x="12" y="39" fill="#00c2c5"/><rect x="13" y="39" fill="#00c2c4"/><rect x="14" y="39" fill="#00c1c2"/><rect x="15" y="39" fill="#00c1c1"/><rect x="16" y="39" fill="#00c1c0"/><rect x="17" y="39" fill="#00c1be"/><rect x="18" y="39" fill="#00c2bd"/><rect x="19" y="39" fill="#00c2bd"/><rect x="20" y="39" fill="#08c4bc"/><rect x="21" y="39" fill="#1dc6bb"/><rect x="22" y="39" fill="#3bcbba"/><rect x="23" y="39" fill="#5bd0b9"/><rect x="24" y="39" fill="#79d4b7"/><rect x="25" y="39" fill="#93d8b4"/><rect x="26" y="39" fill="#abdbb0"/><rect x="27" y="39" fill="#beddac"/><rect x="28" y="39" fill="#cedea7"/><rect x="29" y="39" fill="#dbdea2"/><rect x="30" y="39" fill="#e5dc9d"/><rect x="31" y="39" fill="#ecd997"/><rect x="32" y="39" fill="#f1d690"/><rect x="33" y="39" fill="#f5d188"/><rect x="34" y="39" fill="#f8cb80"/><rect x="35" y="39" fill="#fbc577"/><rect x="36" y="39" fill="#fdbf6e"/><rect x="37" y="39" fill="#feb866"/><rect x="38" y="39" fill="#ffb25f"/><rect x="39" y="39" fill="#ffac59"/><rect x="40" y="39" fill="#ffa652"/><rect x="41" y="39" fill="#ffa04b"/><rect x="42" y="39" fill="#ff9b45"/><rect x="43" y="39" fill="#ff953f"/><rect x="44" y="39" fill="#ff903a"/><rect x="45" y="39" fill="#ff8b35"/><rect x="46" y="39" fill="#ff8631"/><rect x="47" y="39" fill="#ff812d"/><rect x="48" y="39" fill="#ff7b28"/><rect x="49" y="39" fill="#ff7624"/><rect x="50" y="39" fill="#ff701f"/><rect x="51" y="39" fill="#ff6b1b"/><rect x="52" y="39" fill="#ff6a1d"/><rect x="53" y="39" fill="#ff6519"/><rect x="54" y="39" fill="#ff641c"/><rect x="55" y="39" fill="#ff651f"/><rect x="56" y="39" fill="#ff601b"/><rect x="57" y="39" fill="#ff611f"/><rect x="58" y="39" fill="#ff5d1c"/><rect x="59" y="39" fill="#ff5f20"/><rect x="60" y="39" fill="#ff5b1d"/><rect x="61" y="39" fill="#ff581a"/><rect x="62" y="39" fill="#ff5a1f"/><rect x="63" y="39" fill="#ff571c"/><rect x="64" y="39" fill="#ff5a22"/><rect x="65" y="39" fill="#ff571f"/><rect x="0" y="40" fill="#00c4d2"/><rect x="1" y="40" fill="#00c4d3"/><rect x="2" y="40" fill="#00c4d4"/><rect x="3" y="40" fill="#00c4d2"/><rect x="4" y="40" fill="#00c4d2"/><rect x="5" y="40" fill="#00c4d1"/><rect x="6" y="40" fill="#00c3cf"/><rect x="7" y="40" fill="#00c3ce"/><rect x="8" y="40" fill="#00c3cd"/><rect x="9" y="40" fill="#00c3cb"/><rect x="10" y="40" fill="#00c3ca"/><rect x="11" y="40" fill="#00c3c9"/><rect x="12" y="40" fill="#00c2c8"/><rect x="13" y="40" fill="#00c2c7"/><rect x="14" y="40" fill="#00c2c6"/><rect x="15" y="40" fill="#00c2c5"/><rect x="16" y="40" fill="#00c2c4"/><rect x="17" y="40" fill="#00c2c3"/><rect x="18" y="40" fill="#00c3c3"/><rect x="19" y="40" fill="#00c4c3"/><rect x="20" y="40" fill="#0bc5c4"/><rect x="21" y="40" fill="#21c8c4"/><rect x="22" y="40" fill="#42cdc4"/><rect x="23" y="40" fill="#64d2c3"/><rect x="24" y="40" fill="#82d6c1"/><rect x="25" y="40" fill="#9cdabe"/><rect x="26" y="40" fill="#b3ddba"/><rect x="27" y="40" fill="#c6deb6"/><rect x="28" y="40" fill="#d5deb1"/><rect x="29" y="40" fill="#e1ddac"/><rect x="30" y="40" fill="#eadba6"/><rect x="31" y="40" fill="#f1d79f"/><rect x="32" y="40" fill="#f5d397"/><rect x="33" y="40" fill="#f9cd8f"/><rect x="34" y="40" fill="#fbc786"/><rect x="35" y="40" fill="#fdc07d"/><rect x="36" y="40" fill="#ffb974"/><rect x="37" y="40" fill="#ffb26c"/><rect x="38" y="40" fill="#ffab64"/><rect x="39" y="40" fill="#ffa55e"/><rect x="40" y="40" fill="#ff9f58"/><rect x="41" y="40" fill="#ff9952"/><rect x="42" y="40" fill="#ff934c"/><rect x="43" y="40" fill="#ff8d46"/><rect x="44" y="40" fill="#ff8841"/><rect x="45" y="40" fill="#ff833d"/><rect x="46" y="40" fill="#ff7e39"/><rect x="47" y="40" fill="#ff7934"/><rect x="48" y="40" fill="#ff7330"/><rect x="49" y="40" fill="#ff6e2b"/><rect x="50" y="40" fill="#ff6826"/><rect x="51" y="40" fill="#ff6321"/><rect x="52" y="40" fill="#ff5e1c"/><rect x="53" y="40" fill="#ff5e1e"/><rect x="54" y="40" fill="#ff591a"/><rect x="55" y="40" fill="#ff591d"/><rect x="56" y="40" fill="#ff5519"/><rect x="57" y="40" fill="#ff561c"/><rect x="58" y="40" fill="#ff5720"/><rect x="59" y="40" fill="#ff541d"/><rect x="60" y="40" fill="#ff5521"/><rect x="61" y="40" fill="#ff521e"/><rect x="62" y="40" fill="#ff4f1b"/><rect x="63" y="40" fill="#ff5120"/><rect x="64" y="40" fill="#ff4f1d"/><rect x="65" y="40" fill="#ff5223"/><rect x="0" y="41" fill="#00c4d3"/><rect x="1" y="41" fill="#00c5d4"/><rect x="2" y="41" fill="#00c4d3"/><rect x="3" y="41" fill="#00c4d3"/><rect x="4" y="41" fill="#00c4d3"/><rect x="5" y="41" fill="#00c4d2"/><rect x="6" y="41" fill="#00c4d1"/><rect x="7" y="41" fill="#00c4cf"/><rect x="8" y="41" fill="#00c3ce"/><rect x="9" y="41" fill="#00c3cd"/><rect x="10" y="41" fill="#00c3cc"/><rect x="11" y="41" fill="#00c3cb"/><rect x="12" y="41" fill="#00c3ca"/><rect x="13" y="41" fill="#00c3ca"/><rect x="14" y="41" fill="#00c3c9"/><rect x="15" y="41" fill="#00c3c8"/><rect x="16" y="41" fill="#00c3c8"/><rect x="17" y="41" fill="#00c3c8"/><rect x="18" y="41" fill="#00c4c9"/><rect x="19" y="41" fill="#00c6c9"/><rect x="20" y="41" fill="#10c8ca"/><rect x="21" y="41" fill="#29cbcb"/><rect x="22" y="41" fill="#4ad0cc"/><rect x="23" y="41" fill="#6bd4cc"/><rect x="24" y="41" fill="#8ad8cb"/><rect x="25" y="41" fill="#a4dcc8"/><rect x="26" y="41" fill="#badec5"/><rect x="27" y="41" fill="#cddec0"/><rect x="28" y="41" fill="#dcdebb"/><rect x="29" y="41" fill="#e7dcb5"/><rect x="30" y="41" fill="#efd9ae"/><rect x="31" y="41" fill="#f5d4a7"/><rect x="32" y="41" fill="#f9cf9f"/><rect x="33" y="41" fill="#fcc996"/><rect x="34" y="41" fill="#fec28d"/><rect x="35" y="41" fill="#ffba83"/><rect x="36" y="41" fill="#ffb37a"/><rect x="37" y="41" fill="#ffab72"/><rect x="38" y="41" fill="#ffa46a"/><rect x="39" y="41" fill="#ff9d64"/><rect x="40" y="41" fill="#ff975e"/><rect x="41" y="41" fill="#ff9058"/><rect x="42" y="41" fill="#ff8a52"/><rect x="43" y="41" fill="#ff854d"/><rect x="44" y="41" fill="#ff7f48"/><rect x="45" y="41" fill="#ff7a44"/><rect x="46" y="41" fill="#ff753f"/><rect x="47" y="41" fill="#ff703b"/><rect x="48" y="41" fill="#ff6b36"/><rect x="49" y="41" fill="#ff6531"/><rect x="50" y="41" fill="#ff602c"/><rect x="51" y="41" fill="#ff5b26"/><rect x="52" y="41" fill="#ff5622"/><rect x="53" y="41" fill="#ff521e"/><rect x="54" y="41" fill="#ff5220"/><rect x="55" y="41" fill="#ff4e1c"/><rect x="56" y="41" fill="#ff4f1e"/><rect x="57" y="41" fill="#ff4b1b"/><rect x="58" y="41" fill="#ff4c1e"/><rect x="59" y="41" fill="#ff4e21"/><rect x="60" y="41" fill="#ff4a1e"/><rect x="61" y="41" fill="#ff4d22"/><rect x="62" y="41" fill="#ff4a1f"/><rect x="63" y="41" fill="#ff471c"/><rect x="64" y="41" fill="#ff4921"/><rect x="65" y="41" fill="#ff471e"/><rect x="0" y="42" fill="#00c5d4"/><rect x="1" y="42" fill="#00c5d5"/><rect x="2" y="42" fill="#00c4d4"/><rect x="3" y="42" fill="#00c5d4"/><rect x="4" y="42" fill="#00c5d4"/><rect x="5" y="42" fill="#00c4d3"/><rect x="6" y="42" fill="#00c4d2"/><rect x="7" y="42" fill="#00c4d1"/><rect x="8" y="42" fill="#00c4d0"/><rect x="9" y="42" fill="#00c3cf"/><rect x="10" y="42" fill="#00c3ce"/><rect x="11" y="42" fill="#00c3cd"/><rect x="12" y="42" fill="#00c3cd"/><rect x="13" y="42" fill="#00c3cc"/><rect x="14" y="42" fill="#00c3cc"/><rect x="15" y="42" fill="#00c3cc"/><rect x="16" y="42" fill="#00c4cc"/><rect x="17" y="42" fill="#00c4cc"/><rect x="18" y="42" fill="#00c6cd"/><rect x="19" y="42" fill="#03c7ce"/><rect x="20" y="42" fill="#17cad0"/><rect x="21" y="42" fill="#32cdd2"/><rect x="22" y="42" fill="#52d2d3"/><rect x="23" y="42" fill="#73d6d4"/><rect x="24" y="42" fill="#91dad3"/><rect x="25" y="42" fill="#abddd1"/><rect x="26" y="42" fill="#c1dece"/><rect x="27" y="42" fill="#d3deca"/><rect x="28" y="42" fill="#e1ddc4"/><rect x="29" y="42" fill="#ecdabe"/><rect x="30" y="42" fill="#f3d6b6"/><rect x="31" y="42" fill="#f8d0ae"/><rect x="32" y="42" fill="#fbcaa6"/><rect x="33" y="42" fill="#fec49d"/><rect x="34" y="42" fill="#ffbc93"/><rect x="35" y="42" fill="#ffb48a"/><rect x="36" y="42" fill="#ffac80"/><rect x="37" y="42" fill="#ffa478"/><rect x="38" y="42" fill="#ff9d70"/><rect x="39" y="42" fill="#ff9569"/><rect x="40" y="42" fill="#ff8f63"/><rect x="41" y="42" fill="#ff885e"/><rect x="42" y="42" fill="#ff8258"/><rect x="43" y="42" fill="#ff7c53"/><rect x="44" y="42" fill="#ff774f"/><rect x="45" y="42" fill="#ff714a"/><rect x="46" y="42" fill="#ff6c46"/><rect x="47" y="42" fill="#ff6741"/><rect x="48" y="42" fill="#ff623c"/><rect x="49" y="42" fill="#ff5d37"/><rect x="50" y="42" fill="#ff5831"/><rect x="51" y="42" fill="#ff532c"/><rect x="52" y="42" fill="#ff4f28"/><rect x="53" y="42" fill="#ff4b23"/><rect x="54" y="42" fill="#ff471f"/><rect x="55" y="42" fill="#ff4721"/><rect x="56" y="42" fill="#ff441d"/><rect x="57" y="42" fill="#ff4520"/><rect x="58" y="42" fill="#ff421c"/><rect x="59" y="42" fill="#ff431f"/><rect x="60" y="42" fill="#ff4522"/><rect x="61" y="42" fill="#ff421f"/><rect x="62" y="42" fill="#ff4423"/><rect x="63" y="42" fill="#ff4220"/><rect x="64" y="42" fill="#ff3f1d"/><rect x="65" y="42" fill="#ff4222"/><rect x="0" y="43" fill="#00c5d5"/><rect x="1" y="43" fill="#00c5d6"/><rect x="2" y="43" fill="#00c5d5"/><rect x="3" y="43" fill="#00c5d5"/><rect x="4" y="43" fill="#00c5d5"/><rect x="5" y="43" fill="#00c4d4"/><rect x="6" y="43" fill="#00c4d3"/><rect x="7" y="43" fill="#00c4d2"/><rect x="8" y="43" fill="#00c4d1"/><rect x="9" y="43" fill="#00c4d1"/><rect x="10" y="43" fill="#00c3d0"/><rect x="11" y="43" fill="#00c3d0"/><rect x="12" y="43" fill="#00c3cf"/><rect x="13" y="43" fill="#00c3cf"/><rect x="14" y="43" fill="#00c4cf"/><rect x="15" y="43" fill="#00c4cf"/><rect x="16" y="43" fill="#00c4cf"/><rect x="17" y="43" fill="#00c5d0"/><rect x="18" y="43" fill="#00c7d1"/><rect x="19" y="43" fill="#06c9d3"/><rect x="20" y="43" fill="#1dccd4"/><rect x="21" y="43" fill="#39cfd7"/><rect x="22" y="43" fill="#5ad3d9"/><rect x="23" y="43" fill="#7ad7da"/><rect x="24" y="43" fill="#99dada"/><rect x="25" y="43" fill="#b2dcd9"/><rect x="26" y="43" fill="#c8ddd6"/><rect x="27" y="43" fill="#d9dcd2"/><rect x="28" y="43" fill="#e6d9cc"/><rect x="29" y="43" fill="#efd6c5"/><rect x="30" y="43" fill="#f6d1be"/><rect x="31" y="43" fill="#faccb5"/><rect x="32" y="43" fill="#fdc5ac"/><rect x="33" y="43" fill="#ffbea3"/><rect x="34" y="43" fill="#ffb699"/><rect x="35" y="43" fill="#ffae90"/><rect x="36" y="43" fill="#ffa586"/><rect x="37" y="43" fill="#ff9d7e"/><rect x="38" y="43" fill="#ff9576"/><rect x="39" y="43" fill="#ff8d6f"/><rect x="40" y="43" fill="#ff8669"/><rect x="41" y="43" fill="#ff8063"/><rect x="42" y="43" fill="#ff795e"/><rect x="43" y="43" fill="#ff7359"/><rect x="44" y="43" fill="#ff6e54"/><rect x="45" y="43" fill="#ff6950"/><rect x="46" y="43" fill="#ff634b"/><rect x="47" y="43" fill="#ff5f46"/><rect x="48" y="43" fill="#ff5a41"/><rect x="49" y="43" fill="#ff553c"/><rect x="50" y="43" fill="#ff5037"/><rect x="51" y="43" fill="#ff4b32"/><rect x="52" y="43" fill="#ff472d"/><rect x="53" y="43" fill="#ff4329"/><rect x="54" y="43" fill="#ff4025"/><rect x="55" y="43" fill="#ff3d21"/><rect x="56" y="43" fill="#ff3e23"/><rect x="57" y="43" fill="#ff3b1f"/><rect x="58" y="43" fill="#ff3c21"/><rect x="59" y="43" fill="#ff3a1e"/><rect x="60" y="43" fill="#ff3b21"/><rect x="61" y="43" fill="#ff3d24"/><rect x="62" y="43" fill="#ff3b21"/><rect x="63" y="43" fill="#ff3d25"/><rect x="64" y="43" fill="#ff3b22"/><rect x="65" y="43" fill="#ff391f"/><rect x="0" y="44" fill="#00c5d6"/><rect x="1" y="44" fill="#00c4d5"/><rect x="2" y="44" fill="#00c5d6"/><rect x="3" y="44" fill="#00c5d6"/><rect x="4" y="44" fill="#00c5d6"/><rect x="5" y="44" fill="#00c5d5"/><rect x="6" y="44" fill="#00c4d4"/><rect x="7" y="44" fill="#00c4d4"/><rect x="8" y="44" fill="#00c4d3"/><rect x="9" y="44" fill="#00c4d2"/><rect x="10" y="44" fill="#00c4d2"/><rect x="11" y="44" fill="#00c3d2"/><rect x="12" y="44" fill="#00c4d1"/><rect x="13" y="44" fill="#00c4d1"/><rect x="14" y="44" fill="#00c4d1"/><rect x="15" y="44" fill="#00c4d1"/><rect x="16" y="44" fill="#00c5d2"/><rect x="17" y="44" fill="#00c6d3"/><rect x="18" y="44" fill="#00c7d4"/><rect x="19" y="44" fill="#09c9d6"/><rect x="20" y="44" fill="#21ccd8"/><rect x="21" y="44" fill="#3fd0da"/><rect x="22" y="44" fill="#62d4dd"/><rect x="23" y="44" fill="#83d7df"/><rect x="24" y="44" fill="#a0d9df"/><rect x="25" y="44" fill="#b9dadf"/><rect x="26" y="44" fill="#cddadc"/><rect x="27" y="44" fill="#ddd7d8"/><rect x="28" y="44" fill="#e9d4d2"/><rect x="29" y="44" fill="#f1d0cb"/><rect x="30" y="44" fill="#f7ccc3"/><rect x="31" y="44" fill="#fbc6bb"/><rect x="32" y="44" fill="#febfb2"/><rect x="33" y="44" fill="#ffb8a8"/><rect x="34" y="44" fill="#ffaf9f"/><rect x="35" y="44" fill="#ffa795"/><rect x="36" y="44" fill="#ff9e8c"/><rect x="37" y="44" fill="#ff9683"/><rect x="38" y="44" fill="#ff8d7b"/><rect x="39" y="44" fill="#ff8574"/><rect x="40" y="44" fill="#ff7e6e"/><rect x="41" y="44" fill="#ff7768"/><rect x="42" y="44" fill="#ff7163"/><rect x="43" y="44" fill="#ff6b5e"/><rect x="44" y="44" fill="#ff655a"/><rect x="45" y="44" fill="#ff6055"/><rect x="46" y="44" fill="#ff5b51"/><rect x="47" y="44" fill="#ff564c"/><rect x="48" y="44" fill="#ff5147"/><rect x="49" y="44" fill="#ff4d42"/><rect x="50" y="44" fill="#ff483d"/><rect x="51" y="44" fill="#ff4438"/><rect x="52" y="44" fill="#ff4033"/><rect x="53" y="44" fill="#ff3d2f"/><rect x="54" y="44" fill="#ff3a2b"/><rect x="55" y="44" fill="#ff3727"/><rect x="56" y="44" fill="#ff3523"/><rect x="57" y="44" fill="#ff3525"/><rect x="58" y="44" fill="#ff3421"/><rect x="59" y="44" fill="#ff3523"/><rect x="60" y="44" fill="#ff3320"/><rect x="61" y="44" fill="#ff3423"/><rect x="62" y="44" fill="#ff3626"/><rect x="63" y="44" fill="#ff3423"/><rect x="64" y="44" fill="#ff3626"/><rect x="65" y="44" fill="#ff3523"/><rect x="0" y="45" fill="#00c5d7"/><rect x="1" y="45" fill="#00c4d6"/><rect x="2" y="45" fill="#00c5d7"/><rect x="3" y="45" fill="#00c5d7"/><rect x="4" y="45" fill="#00c4d6"/><rect x="5" y="45" fill="#00c5d6"/><rect x="6" y="45" fill="#00c4d6"/><rect x="7" y="45" fill="#00c4d5"/><rect x="8" y="45" fill="#00c4d4"/><rect x="9" y="45" fill="#00c4d4"/><rect x="10" y="45" fill="#00c3d4"/><rect x="11" y="45" fill="#00c3d4"/><rect x="12" y="45" fill="#00c3d3"/><rect x="13" y="45" fill="#00c4d3"/><rect x="14" y="45" fill="#00c4d3"/><rect x="15" y="45" fill="#00c4d4"/><rect x="16" y="45" fill="#00c5d4"/><rect x="17" y="45" fill="#00c6d5"/><rect x="18" y="45" fill="#00c7d6"/><rect x="19" y="45" fill="#0ac9d8"/><rect x="20" y="45" fill="#23ccda"/><rect x="21" y="45" fill="#45d0dd"/><rect x="22" y="45" fill="#6ad3e0"/><rect x="23" y="45" fill="#8bd6e2"/><rect x="24" y="45" fill="#a7d7e3"/><rect x="25" y="45" fill="#bfd6e2"/><rect x="26" y="45" fill="#d1d5e0"/><rect x="27" y="45" fill="#e0d2db"/><rect x="28" y="45" fill="#eaced6"/><rect x="29" y="45" fill="#f2cacf"/><rect x="30" y="45" fill="#f7c5c8"/><rect x="31" y="45" fill="#fbc0c0"/><rect x="32" y="45" fill="#feb9b7"/><rect x="33" y="45" fill="#ffb1ad"/><rect x="34" y="45" fill="#ffa8a3"/><rect x="35" y="45" fill="#ff9f9a"/><rect x="36" y="45" fill="#ff9690"/><rect x="37" y="45" fill="#ff8e87"/><rect x="38" y="45" fill="#ff857f"/><rect x="39" y="45" fill="#ff7d78"/><rect x="40" y="45" fill="#ff7672"/><rect x="41" y="45" fill="#ff6f6d"/><rect x="42" y="45" fill="#ff6868"/><rect x="43" y="45" fill="#ff6263"/><rect x="44" y="45" fill="#ff5d5f"/><rect x="45" y="45" fill="#ff585a"/><rect x="46" y="45" fill="#ff5356"/><rect x="47" y="45" fill="#ff4e51"/><rect x="48" y="45" fill="#ff4a4c"/><rect x="49" y="45" fill="#ff4648"/><rect x="50" y="45" fill="#ff4143"/><rect x="51" y="45" fill="#ff3d3e"/><rect x="52" y="45" fill="#ff3a39"/><rect x="53" y="45" fill="#ff3735"/><rect x="54" y="45" fill="#ff3431"/><rect x="55" y="45" fill="#ff322d"/><rect x="56" y="45" fill="#ff3029"/><rect x="57" y="45" fill="#ff2e25"/><rect x="58" y="45" fill="#ff2f27"/><rect x="59" y="45" fill="#ff2e23"/><rect x="60" y="45" fill="#ff2f25"/><rect x="61" y="45" fill="#ff2d22"/><rect x="62" y="45" fill="#ff2f24"/><rect x="63" y="45" fill="#ff3027"/><rect x="64" y="45" fill="#ff2f24"/><rect x="65" y="45" fill="#ff3128"/><rect x="0" y="46" fill="#00c5d8"/><rect x="1" y="46" fill="#00c4d7"/><rect x="2" y="46" fill="#00c5d8"/><rect x="3" y="46" fill="#00c5d8"/><rect x="4" y="46" fill="#00c4d7"/><rect x="5" y="46" fill="#00c5d7"/><rect x="6" y="46" fill="#00c4d7"/><rect x="7" y="46" fill="#00c4d6"/><rect x="8" y="46" fill="#00c3d6"/><rect x="9" y="46" fill="#00c3d6"/><rect x="10" y="46" fill="#00c3d5"/><rect x="11" y="46" fill="#00c3d5"/><rect x="12" y="46" fill="#00c3d5"/><rect x="13" y="46" fill="#00c3d5"/><rect x="14" y="46" fill="#00c3d5"/><rect x="15" y="46" fill="#00c4d5"/><rect x="16" y="46" fill="#00c4d6"/><rect x="17" y="46" fill="#00c5d7"/><rect x="18" y="46" fill="#00c7d8"/><rect x="19" y="46" fill="#0cc8d9"/><rect x="20" y="46" fill="#26cbdb"/><rect x="21" y="46" fill="#4acede"/><rect x="22" y="46" fill="#70d2e1"/><rect x="23" y="46" fill="#91d3e4"/><rect x="24" y="46" fill="#acd3e4"/><rect x="25" y="46" fill="#c3d1e4"/><rect x="26" y="46" fill="#d4cfe1"/><rect x="27" y="46" fill="#e1cbdd"/><rect x="28" y="46" fill="#ebc7d8"/><rect x="29" y="46" fill="#f2c3d2"/><rect x="30" y="46" fill="#f6becb"/><rect x="31" y="46" fill="#fab9c3"/><rect x="32" y="46" fill="#fdb1ba"/><rect x="33" y="46" fill="#ffa9b1"/><rect x="34" y="46" fill="#ffa0a7"/><rect x="35" y="46" fill="#ff989d"/><rect x="36" y="46" fill="#ff8f94"/><rect x="37" y="46" fill="#ff868b"/><rect x="38" y="46" fill="#ff7d83"/><rect x="39" y="46" fill="#ff757c"/><rect x="40" y="46" fill="#ff6e76"/><rect x="41" y="46" fill="#ff6771"/><rect x="42" y="46" fill="#ff606d"/><rect x="43" y="46" fill="#ff5a68"/><rect x="44" y="46" fill="#ff5564"/><rect x="45" y="46" fill="#ff5060"/><rect x="46" y="46" fill="#ff4c5b"/><rect x="47" y="46" fill="#ff4857"/><rect x="48" y="46" fill="#ff4352"/><rect x="49" y="46" fill="#ff3f4d"/><rect x="50" y="46" fill="#ff3b49"/><rect x="51" y="46" fill="#ff3744"/><rect x="52" y="46" fill="#ff343f"/><rect x="53" y="46" fill="#ff313b"/><rect x="54" y="46" fill="#ff2f37"/><rect x="55" y="46" fill="#ff2d33"/><rect x="56" y="46" fill="#ff2b2f"/><rect x="57" y="46" fill="#ff2a2b"/><rect x="58" y="46" fill="#ff2928"/><rect x="59" y="46" fill="#ff2a29"/><rect x="60" y="46" fill="#ff2926"/><rect x="61" y="46" fill="#ff2a28"/><rect x="62" y="46" fill="#ff2925"/><rect x="63" y="46" fill="#ff2a27"/><rect x="64" y="46" fill="#ff2c29"/><rect x="65" y="46" fill="#ff2b26"/><rect x="0" y="47" fill="#00c4d7"/><rect x="1" y="47" fill="#00c4d8"/><rect x="2" y="47" fill="#00c5d9"/><rect x="3" y="47" fill="#00c4d8"/><rect x="4" y="47" fill="#00c4d8"/><rect x="5" y="47" fill="#00c4d9"/><rect x="6" y="47" fill="#00c4d8"/><rect x="7" y="47" fill="#00c3d8"/><rect x="8" y="47" fill="#00c3d7"/><rect x="9" y="47" fill="#00c3d7"/><rect x="10" y="47" fill="#00c2d7"/><rect x="11" y="47" fill="#00c2d7"/><rect x="12" y="47" fill="#00c2d7"/><rect x="13" y="47" fill="#00c2d7"/><rect x="14" y="47" fill="#00c2d7"/><rect x="15" y="47" fill="#00c3d7"/><rect x="16" y="47" fill="#00c3d7"/><rect x="17" y="47" fill="#00c4d8"/><rect x="18" y="47" fill="#00c5d9"/><rect x="19" y="47" fill="#0fc7da"/><rect x="20" y="47" fill="#2bc9dc"/><rect x="21" y="47" fill="#4fccdf"/><rect x="22" y="47" fill="#75cee2"/><rect x="23" y="47" fill="#94cfe4"/><rect x="24" y="47" fill="#afcee5"/><rect x="25" y="47" fill="#c5cce4"/><rect x="26" y="47" fill="#d5c9e2"/><rect x="27" y="47" fill="#e2c5de"/><rect x="28" y="47" fill="#ebc0d9"/><rect x="29" y="47" fill="#f1bcd3"/><rect x="30" y="47" fill="#f5b7cd"/><rect x="31" y="47" fill="#f9b1c5"/><rect x="32" y="47" fill="#fca9bc"/><rect x="33" y="47" fill="#fea1b3"/><rect x="34" y="47" fill="#ff98a9"/><rect x="35" y="47" fill="#ff8fa0"/><rect x="36" y="47" fill="#ff8696"/><rect x="37" y="47" fill="#ff7e8d"/><rect x="38" y="47" fill="#ff7585"/><rect x="39" y="47" fill="#ff6e7f"/><rect x="40" y="47" fill="#ff667a"/><rect x="41" y="47" fill="#ff5f75"/><rect x="42" y="47" fill="#ff5971"/><rect x="43" y="47" fill="#ff536d"/><rect x="44" y="47" fill="#ff4e69"/><rect x="45" y="47" fill="#ff4a65"/><rect x="46" y="47" fill="#ff4660"/><rect x="47" y="47" fill="#ff425c"/><rect x="48" y="47" fill="#ff3e58"/><rect x="49" y="47" fill="#ff3a53"/><rect x="50" y="47" fill="#ff364f"/><rect x="51" y="47" fill="#ff324a"/><rect x="52" y="47" fill="#ff2f46"/><rect x="53" y="47" fill="#ff2d42"/><rect x="54" y="47" fill="#ff2b3d"/><rect x="55" y="47" fill="#ff2939"/><rect x="56" y="47" fill="#ff2835"/><rect x="57" y="47" fill="#ff2732"/><rect x="58" y="47" fill="#ff262f"/><rect x="59" y="47" fill="#ff252b"/><rect x="60" y="47" fill="#ff262c"/><rect x="61" y="47" fill="#ff2529"/><rect x="62" y="47" fill="#ff262a"/><rect x="63" y="47" fill="#ff2527"/><rect x="64" y="47" fill="#ff2729"/><rect x="65" y="47" fill="#ff282b"/><rect x="0" y="48" fill="#00c4d8"/><rect x="1" y="48" fill="#00c4d9"/><rect x="2" y="48" fill="#00c5da"/><rect x="3" y="48" fill="#00c4d9"/><rect x="4" y="48" fill="#00c4d9"/><rect x="5" y="48" fill="#00c4da"/><rect x="6" y="48" fill="#00c4d9"/><rect x="7" y="48" fill="#00c3d9"/><rect x="8" y="48" fill="#00c2d9"/><rect x="9" y="48" fill="#00c2d8"/><rect x="10" y="48" fill="#00c1d8"/><rect x="11" y="48" fill="#00c1d8"/><rect x="12" y="48" fill="#00c1d8"/><rect x="13" y="48" fill="#00c0d8"/><rect x="14" y="48" fill="#00c0d8"/><rect x="15" y="48" fill="#00c1d8"/><rect x="16" y="48" fill="#00c1d9"/><rect x="17" y="48" fill="#00c2d9"/><rect x="18" y="48" fill="#00c3da"/><rect x="19" y="48" fill="#13c5db"/><rect x="20" y="48" fill="#2fc7dd"/><rect x="21" y="48" fill="#53c8e0"/><rect x="22" y="48" fill="#76cae2"/><rect x="23" y="48" fill="#95cae4"/><rect x="24" y="48" fill="#afc9e4"/><rect x="25" y="48" fill="#c4c6e4"/><rect x="26" y="48" fill="#d4c2e1"/><rect x="27" y="48" fill="#e1bede"/><rect x="28" y="48" fill="#eab9d9"/><rect x="29" y="48" fill="#f0b4d3"/><rect x="30" y="48" fill="#f5aecd"/><rect x="31" y="48" fill="#f8a8c5"/><rect x="32" y="48" fill="#fba1bd"/><rect x="33" y="48" fill="#fd98b4"/><rect x="34" y="48" fill="#ff90aa"/><rect x="35" y="48" fill="#ff87a1"/><rect x="36" y="48" fill="#ff7e98"/><rect x="37" y="48" fill="#ff768f"/><rect x="38" y="48" fill="#ff6e88"/><rect x="39" y="48" fill="#ff6682"/><rect x="40" y="48" fill="#ff5f7d"/><rect x="41" y="48" fill="#ff5979"/><rect x="42" y="48" fill="#ff5375"/><rect x="43" y="48" fill="#ff4d71"/><rect x="44" y="48" fill="#ff496d"/><rect x="45" y="48" fill="#ff446a"/><rect x="46" y="48" fill="#ff4066"/><rect x="47" y="48" fill="#ff3d62"/><rect x="48" y="48" fill="#ff395e"/><rect x="49" y="48" fill="#ff3559"/><rect x="50" y="48" fill="#ff3255"/><rect x="51" y="48" fill="#ff2f51"/><rect x="52" y="48" fill="#ff2c4d"/><rect x="53" y="48" fill="#ff2a48"/><rect x="54" y="48" fill="#ff2844"/><rect x="55" y="48" fill="#ff2740"/><rect x="56" y="48" fill="#ff253c"/><rect x="57" y="48" fill="#ff2439"/><rect x="58" y="48" fill="#ff2335"/><rect x="59" y="48" fill="#ff2232"/><rect x="60" y="48" fill="#ff222e"/><rect x="61" y="48" fill="#ff232f"/><rect x="62" y="48" fill="#ff222c"/><rect x="63" y="48" fill="#ff232d"/><rect x="64" y="48" fill="#ff222a"/><rect x="65" y="48" fill="#ff232c"/><rect x="0" y="49" fill="#00c4d9"/><rect x="1" y="49" fill="#00c4da"/><rect x="2" y="49" fill="#00c4da"/><rect x="3" y="49" fill="#00c4da"/><rect x="4" y="49" fill="#00c4db"/><rect x="5" y="49" fill="#00c4db"/><rect x="6" y="49" fill="#00c3da"/><rect x="7" y="49" fill="#00c2da"/><rect x="8" y="49" fill="#00c2da"/><rect x="9" y="49" fill="#00c1da"/><rect x="10" y="49" fill="#00c0da"/><rect x="11" y="49" fill="#00bfda"/><rect x="12" y="49" fill="#00bfd9"/><rect x="13" y="49" fill="#00bed9"/><rect x="14" y="49" fill="#00bed9"/><rect x="15" y="49" fill="#00bed9"/><rect x="16" y="49" fill="#00beda"/><rect x="17" y="49" fill="#00bfda"/><rect x="18" y="49" fill="#04c0da"/><rect x="19" y="49" fill="#17c2db"/><rect x="20" y="49" fill="#34c3dd"/><rect x="21" y="49" fill="#57c3df"/><rect x="22" y="49" fill="#79c4e1"/><rect x="23" y="49" fill="#96c4e3"/><rect x="24" y="49" fill="#afc2e3"/><rect x="25" y="49" fill="#c3bfe2"/><rect x="26" y="49" fill="#d3bbe0"/><rect x="27" y="49" fill="#dfb6dc"/><rect x="28" y="49" fill="#e8b1d7"/><rect x="29" y="49" fill="#efacd2"/><rect x="30" y="49" fill="#f4a6cb"/><rect x="31" y="49" fill="#f79fc4"/><rect x="32" y="49" fill="#fa98bc"/><rect x="33" y="49" fill="#fc90b4"/><rect x="34" y="49" fill="#fe87ab"/><rect x="35" y="49" fill="#ff7fa2"/><rect x="36" y="49" fill="#ff7699"/><rect x="37" y="49" fill="#ff6e90"/><rect x="38" y="49" fill="#ff678a"/><rect x="39" y="49" fill="#ff6085"/><rect x="40" y="49" fill="#ff5980"/><rect x="41" y="49" fill="#ff537c"/><rect x="42" y="49" fill="#ff4e79"/><rect x="43" y="49" fill="#ff4875"/><rect x="44" y="49" fill="#ff4472"/><rect x="45" y="49" fill="#ff406e"/><rect x="46" y="49" fill="#ff3c6b"/><rect x="47" y="49" fill="#ff3967"/><rect x="48" y="49" fill="#ff3563"/><rect x="49" y="49" fill="#ff3260"/><rect x="50" y="49" fill="#ff2f5c"/><rect x="51" y="49" fill="#ff2c58"/><rect x="52" y="49" fill="#ff2a54"/><rect x="53" y="49" fill="#ff2850"/><rect x="54" y="49" fill="#ff264c"/><rect x="55" y="49" fill="#ff2548"/><rect x="56" y="49" fill="#ff2344"/><rect x="57" y="49" fill="#ff2240"/><rect x="58" y="49" fill="#ff213c"/><rect x="59" y="49" fill="#ff2039"/><rect x="60" y="49" fill="#ff1f35"/><rect x="61" y="49" fill="#ff1f32"/><rect x="62" y="49" fill="#ff2032"/><rect x="63" y="49" fill="#ff1f2f"/><rect x="64" y="49" fill="#ff2030"/><rect x="65" y="49" fill="#ff1f2d"/><rect x="0" y="50" fill="#00c4da"/><rect x="1" y="50" fill="#00c4db"/><rect x="2" y="50" fill="#00c3db"/><rect x="3" y="50" fill="#00c3db"/><rect x="4" y="50" fill="#00c4dc"/><rect x="5" y="50" fill="#00c3db"/><rect x="6" y="50" fill="#00c3dc"/><rect x="7" y="50" fill="#00c1db"/><rect x="8" y="50" fill="#00c0db"/><rect x="9" y="50" fill="#00bfdb"/><rect x="10" y="50" fill="#00bedb"/><rect x="11" y="50" fill="#00bddb"/><rect x="12" y="50" fill="#00bcda"/><rect x="13" y="50" fill="#00bbda"/><rect x="14" y="50" fill="#00bada"/><rect x="15" y="50" fill="#00bada"/><rect x="16" y="50" fill="#00bbda"/><rect x="17" y="50" fill="#00bbda"/><rect x="18" y="50" fill="#0abcdb"/><rect x="19" y="50" fill="#1fbddc"/><rect x="20" y="50" fill="#3dbddd"/><rect x="21" y="50" fill="#5fbddf"/><rect x="22" y="50" fill="#7fbde0"/><rect x="23" y="50" fill="#9abce1"/><rect x="24" y="50" fill="#b0bae1"/><rect x="25" y="50" fill="#c3b7df"/><rect x="26" y="50" fill="#d2b3dd"/><rect x="27" y="50" fill="#deaed9"/><rect x="28" y="50" fill="#e7a8d5"/><rect x="29" y="50" fill="#eda2cf"/><rect x="30" y="50" fill="#f29cc9"/><rect x="31" y="50" fill="#f695c2"/><rect x="32" y="50" fill="#f98ebb"/><rect x="33" y="50" fill="#fb87b3"/><rect x="34" y="50" fill="#fd7fab"/><rect x="35" y="50" fill="#fe77a2"/><rect x="36" y="50" fill="#ff6f9a"/><rect x="37" y="50" fill="#ff6793"/><rect x="38" y="50" fill="#ff608c"/><rect x="39" y="50" fill="#ff5a88"/><rect x="40" y="50" fill="#ff5484"/><rect x="41" y="50" fill="#ff4e80"/><rect x="42" y="50" fill="#ff497d"/><rect x="43" y="50" fill="#ff447a"/><rect x="44" y="50" fill="#ff4077"/><rect x="45" y="50" fill="#ff3c73"/><rect x="46" y="50" fill="#ff3970"/><rect x="47" y="50" fill="#ff356d"/><rect x="48" y="50" fill="#ff3269"/><rect x="49" y="50" fill="#ff2f66"/><rect x="50" y="50" fill="#ff2d62"/><rect x="51" y="50" fill="#ff2a5f"/><rect x="52" y="50" fill="#ff285b"/><rect x="53" y="50" fill="#ff2657"/><rect x="54" y="50" fill="#ff2553"/><rect x="55" y="50" fill="#ff234f"/><rect x="56" y="50" fill="#ff224b"/><rect x="57" y="50" fill="#ff2147"/><rect x="58" y="50" fill="#ff2044"/><rect x="59" y="50" fill="#ff1f40"/><rect x="60" y="50" fill="#ff1e3c"/><rect x="61" y="50" fill="#ff1d38"/><rect x="62" y="50" fill="#ff1c35"/><rect x="63" y="50" fill="#ff1d35"/><rect x="64" y="50" fill="#ff1c32"/><rect x="65" y="50" fill="#ff1d33"/><rect x="0" y="51" fill="#00c3db"/><rect x="1" y="51" fill="#00c2db"/><rect x="2" y="51" fill="#00c3db"/><rect x="3" y="51" fill="#00c3dc"/><rect x="4" y="51" fill="#00c2dc"/><rect x="5" y="51" fill="#00c2dc"/><rect x="6" y="51" fill="#00c2dc"/><rect x="7" y="51" fill="#00c0dc"/><rect x="8" y="51" fill="#00bfdc"/><rect x="9" y="51" fill="#00bddc"/><rect x="10" y="51" fill="#00bbdc"/><rect x="11" y="51" fill="#00badb"/><rect x="12" y="51" fill="#00b8db"/><rect x="13" y="51" fill="#00b7db"/><rect x="14" y="51" fill="#00b6db"/><rect x="15" y="51" fill="#00b6da"/><rect x="16" y="51" fill="#00b6da"/><rect x="17" y="51" fill="#03b6db"/><rect x="18" y="51" fill="#12b6db"/><rect x="19" y="51" fill="#29b7dc"/><rect x="20" y="51" fill="#48b6dd"/><rect x="21" y="51" fill="#6ab6dd"/><rect x="22" y="51" fill="#87b5de"/><rect x="23" y="51" fill="#9fb3de"/><rect x="24" y="51" fill="#b4b1dd"/><rect x="25" y="51" fill="#c5aedc"/><rect x="26" y="51" fill="#d2aad9"/><rect x="27" y="51" fill="#dda5d6"/><rect x="28" y="51" fill="#e59fd1"/><rect x="29" y="51" fill="#eb99cc"/><rect x="30" y="51" fill="#f093c6"/><rect x="31" y="51" fill="#f48cc0"/><rect x="32" y="51" fill="#f785b9"/><rect x="33" y="51" fill="#fa7eb2"/><rect x="34" y="51" fill="#fc77ab"/><rect x="35" y="51" fill="#fd6fa3"/><rect x="36" y="51" fill="#fe689c"/><rect x="37" y="51" fill="#ff6195"/><rect x="38" y="51" fill="#ff5b90"/><rect x="39" y="51" fill="#ff558c"/><rect x="40" y="51" fill="#ff4f88"/><rect x="41" y="51" fill="#ff4a84"/><rect x="42" y="51" fill="#ff4581"/><rect x="43" y="51" fill="#ff417e"/><rect x="44" y="51" fill="#ff3d7b"/><rect x="45" y="51" fill="#ff3978"/><rect x="46" y="51" fill="#ff3675"/><rect x="47" y="51" fill="#ff3372"/><rect x="48" y="51" fill="#ff306f"/><rect x="49" y="51" fill="#ff2e6c"/><rect x="50" y="51" fill="#ff2b69"/><rect x="51" y="51" fill="#ff2966"/><rect x="52" y="51" fill="#ff2762"/><rect x="53" y="51" fill="#ff255f"/><rect x="54" y="51" fill="#ff245b"/><rect x="55" y="51" fill="#ff2257"/><rect x="56" y="51" fill="#ff2153"/><rect x="57" y="51" fill="#ff204f"/><rect x="58" y="51" fill="#ff1e4b"/><rect x="59" y="51" fill="#ff1d47"/><rect x="60" y="51" fill="#ff1c43"/><rect x="61" y="51" fill="#ff1d43"/><rect x="62" y="51" fill="#ff1c3f"/><rect x="63" y="51" fill="#ff1e40"/><rect x="64" y="51" fill="#ff1d3c"/><rect x="65" y="51" fill="#ff1c39"/><rect x="0" y="52" fill="#00c2dc"/><rect x="1" y="52" fill="#00c2dc"/><rect x="2" y="52" fill="#00c2dc"/><rect x="3" y="52" fill="#00c2dd"/><rect x="4" y="52" fill="#00c1dc"/><rect x="5" y="52" fill="#00c1dd"/><rect x="6" y="52" fill="#00c0dd"/><rect x="7" y="52" fill="#00bfdd"/><rect x="8" y="52" fill="#00bddc"/><rect x="9" y="52" fill="#00bbdc"/><rect x="10" y="52" fill="#00b8dc"/><rect x="11" y="52" fill="#00b6dc"/><rect x="12" y="52" fill="#00b4dc"/><rect x="13" y="52" fill="#00b2db"/><rect x="14" y="52" fill="#00b1db"/><rect x="15" y="52" fill="#00b0da"/><rect x="16" y="52" fill="#00afda"/><rect x="17" y="52" fill="#0bafda"/><rect x="18" y="52" fill="#1cafda"/><rect x="19" y="52" fill="#35afdb"/><rect x="20" y="52" fill="#53aedb"/><rect x="21" y="52" fill="#73addb"/><rect x="22" y="52" fill="#8fabdb"/><rect x="23" y="52" fill="#a5a9db"/><rect x="24" y="52" fill="#b8a7da"/><rect x="25" y="52" fill="#c6a4d8"/><rect x="26" y="52" fill="#d2a0d5"/><rect x="27" y="52" fill="#dc9bd2"/><rect x="28" y="52" fill="#e495cd"/><rect x="29" y="52" fill="#ea8fc8"/><rect x="30" y="52" fill="#ee89c3"/><rect x="31" y="52" fill="#f283bd"/><rect x="32" y="52" fill="#f67cb7"/><rect x="33" y="52" fill="#f876b1"/><rect x="34" y="52" fill="#fa6faa"/><rect x="35" y="52" fill="#fc68a4"/><rect x="36" y="52" fill="#fe629e"/><rect x="37" y="52" fill="#ff5b98"/><rect x="38" y="52" fill="#ff5594"/><rect x="39" y="52" fill="#ff508f"/><rect x="40" y="52" fill="#ff4b8c"/><rect x="41" y="52" fill="#ff4689"/><rect x="42" y="52" fill="#ff4286"/><rect x="43" y="52" fill="#ff3e83"/><rect x="44" y="52" fill="#ff3a80"/><rect x="45" y="52" fill="#ff377d"/><rect x="46" y="52" fill="#ff347b"/><rect x="47" y="52" fill="#ff3178"/><rect x="48" y="52" fill="#ff2e75"/><rect x="49" y="52" fill="#ff2c72"/><rect x="50" y="52" fill="#ff2a70"/><rect x="51" y="52" fill="#ff286d"/><rect x="52" y="52" fill="#ff276a"/><rect x="53" y="52" fill="#ff2566"/><rect x="54" y="52" fill="#ff2363"/><rect x="55" y="52" fill="#ff225f"/><rect x="56" y="52" fill="#ff205a"/><rect x="57" y="52" fill="#ff1f56"/><rect x="58" y="52" fill="#ff2055"/><rect x="59" y="52" fill="#ff1e51"/><rect x="60" y="52" fill="#ff1d4d"/><rect x="61" y="52" fill="#ff1e4d"/><rect x="62" y="52" fill="#ff1d4a"/><rect x="63" y="52" fill="#ff1c46"/><rect x="64" y="52" fill="#ff1e47"/><rect x="65" y="52" fill="#ff1d43"/><rect x="0" y="53" fill="#00c2dd"/><rect x="1" y="53" fill="#00c1dc"/><rect x="2" y="53" fill="#00c1dd"/><rect x="3" y="53" fill="#00bfdd"/><rect x="4" y="53" fill="#00bfdd"/><rect x="5" y="53" fill="#00bfdd"/><rect x="6" y="53" fill="#00bede"/><rect x="7" y="53" fill="#00bcdd"/><rect x="8" y="53" fill="#00badd"/><rect x="9" y="53" fill="#00b7dd"/><rect x="10" y="53" fill="#00b5dd"/><rect x="11" y="53" fill="#00b2dc"/><rect x="12" y="53" fill="#00afdc"/><rect x="13" y="53" fill="#00addb"/><rect x="14" y="53" fill="#00abda"/><rect x="15" y="53" fill="#00a9da"/><rect x="16" y="53" fill="#05a8d9"/><rect x="17" y="53" fill="#12a8d9"/><rect x="18" y="53" fill="#26a8d9"/><rect x="19" y="53" fill="#3fa7d9"/><rect x="20" y="53" fill="#5da5d9"/><rect x="21" y="53" fill="#7ba4d9"/><rect x="22" y="53" fill="#96a1d8"/><rect x="23" y="53" fill="#aa9fd7"/><rect x="24" y="53" fill="#bb9dd5"/><rect x="25" y="53" fill="#c89ad3"/><rect x="26" y="53" fill="#d296d1"/><rect x="27" y="53" fill="#db91cd"/><rect x="28" y="53" fill="#e28cc9"/><rect x="29" y="53" fill="#e886c5"/><rect x="30" y="53" fill="#ec80c0"/><rect x="31" y="53" fill="#f079ba"/><rect x="32" y="53" fill="#f474b5"/><rect x="33" y="53" fill="#f66eb0"/><rect x="34" y="53" fill="#f968aa"/><rect x="35" y="53" fill="#fb62a5"/><rect x="36" y="53" fill="#fd5ca0"/><rect x="37" y="53" fill="#fe569b"/><rect x="38" y="53" fill="#ff5197"/><rect x="39" y="53" fill="#ff4c93"/><rect x="40" y="53" fill="#ff4790"/><rect x="41" y="53" fill="#ff438d"/><rect x="42" y="53" fill="#ff3f8a"/><rect x="43" y="53" fill="#ff3b87"/><rect x="44" y="53" fill="#ff3885"/><rect x="45" y="53" fill="#ff3582"/><rect x="46" y="53" fill="#ff3280"/><rect x="47" y="53" fill="#ff2f7d"/><rect x="48" y="53" fill="#ff2d7b"/><rect x="49" y="53" fill="#ff2b78"/><rect x="50" y="53" fill="#ff2976"/><rect x="51" y="53" fill="#ff2874"/><rect x="52" y="53" fill="#ff2671"/><rect x="53" y="53" fill="#ff256e"/><rect x="54" y="53" fill="#ff236a"/><rect x="55" y="53" fill="#ff2166"/><rect x="56" y="53" fill="#ff2264"/><rect x="57" y="53" fill="#ff2060"/><rect x="58" y="53" fill="#ff1f5c"/><rect x="59" y="53" fill="#ff205b"/><rect x="60" y="53" fill="#ff1f57"/><rect x="61" y="53" fill="#ff2057"/><rect x="62" y="53" fill="#ff1f54"/><rect x="63" y="53" fill="#ff1e50"/><rect x="64" y="53" fill="#ff1f51"/><rect x="65" y="53" fill="#ff1e4d"/><rect x="0" y="54" fill="#00c1dd"/><rect x="1" y="54" fill="#00bfdd"/><rect x="2" y="54" fill="#00bfdd"/><rect x="3" y="54" fill="#00bedd"/><rect x="4" y="54" fill="#00bddd"/><rect x="5" y="54" fill="#00bdde"/><rect x="6" y="54" fill="#00bbdd"/><rect x="7" y="54" fill="#00badd"/><rect x="8" y="54" fill="#00b7dd"/><rect x="9" y="54" fill="#00b4dd"/><rect x="10" y="54" fill="#00b0dc"/><rect x="11" y="54" fill="#00addc"/><rect x="12" y="54" fill="#00aadc"/><rect x="13" y="54" fill="#00a6db"/><rect x="14" y="54" fill="#00a4da"/><rect x="15" y="54" fill="#02a2d9"/><rect x="16" y="54" fill="#0ba0d8"/><rect x="17" y="54" fill="#19a0d8"/><rect x="18" y="54" fill="#2d9fd7"/><rect x="19" y="54" fill="#489ed7"/><rect x="20" y="54" fill="#659cd6"/><rect x="21" y="54" fill="#819ad5"/><rect x="22" y="54" fill="#9998d4"/><rect x="23" y="54" fill="#ad95d2"/><rect x="24" y="54" fill="#bc93d1"/><rect x="25" y="54" fill="#c890cf"/><rect x="26" y="54" fill="#d28ccc"/><rect x="27" y="54" fill="#da88c9"/><rect x="28" y="54" fill="#e082c5"/><rect x="29" y="54" fill="#e57cc1"/><rect x="30" y="54" fill="#ea77bc"/><rect x="31" y="54" fill="#ee71b7"/><rect x="32" y="54" fill="#f16bb3"/><rect x="33" y="54" fill="#f466ae"/><rect x="34" y="54" fill="#f761aa"/><rect x="35" y="54" fill="#f95ca6"/><rect x="36" y="54" fill="#fb56a1"/><rect x="37" y="54" fill="#fd519e"/><rect x="38" y="54" fill="#fe4d9a"/><rect x="39" y="54" fill="#ff4897"/><rect x="40" y="54" fill="#ff4494"/><rect x="41" y="54" fill="#ff4091"/><rect x="42" y="54" fill="#ff3c8e"/><rect x="43" y="54" fill="#ff398c"/><rect x="44" y="54" fill="#ff3689"/><rect x="45" y="54" fill="#ff3387"/><rect x="46" y="54" fill="#ff3084"/><rect x="47" y="54" fill="#ff2e82"/><rect x="48" y="54" fill="#ff2c80"/><rect x="49" y="54" fill="#ff2a7e"/><rect x="50" y="54" fill="#ff297c"/><rect x="51" y="54" fill="#ff277a"/><rect x="52" y="54" fill="#ff2677"/><rect x="53" y="54" fill="#ff2474"/><rect x="54" y="54" fill="#ff2572"/><rect x="55" y="54" fill="#ff236f"/><rect x="56" y="54" fill="#ff246d"/><rect x="57" y="54" fill="#ff2369"/><rect x="58" y="54" fill="#ff2166"/><rect x="59" y="54" fill="#ff2264"/><rect x="60" y="54" fill="#ff2161"/><rect x="61" y="54" fill="#ff205d"/><rect x="62" y="54" fill="#ff215d"/><rect x="63" y="54" fill="#ff205a"/><rect x="64" y="54" fill="#ff1f56"/><rect x="65" y="54" fill="#ff1e53"/><rect x="0" y="55" fill="#00bedd"/><rect x="1" y="55" fill="#00bedd"/><rect x="2" y="55" fill="#00bcdd"/><rect x="3" y="55" fill="#00bcdd"/><rect x="4" y="55" fill="#00bbde"/><rect x="5" y="55" fill="#00b9dd"/><rect x="6" y="55" fill="#00b8dd"/><rect x="7" y="55" fill="#00b7dd"/><rect x="8" y="55" fill="#00b3dd"/><rect x="9" y="55" fill="#00afdc"/><rect x="10" y="55" fill="#00abdc"/><rect x="11" y="55" fill="#00a7db"/><rect x="12" y="55" fill="#00a3db"/><rect x="13" y="55" fill="#009fda"/><rect x="14" y="55" fill="#009cd8"/><rect x="15" y="55" fill="#0699d7"/><rect x="16" y="55" fill="#1098d6"/><rect x="17" y="55" fill="#1f97d5"/><rect x="18" y="55" fill="#3397d5"/><rect x="19" y="55" fill="#4f95d4"/><rect x="20" y="55" fill="#6c93d3"/><rect x="21" y="55" fill="#8590d2"/><rect x="22" y="55" fill="#9b8ed0"/><rect x="23" y="55" fill="#ae8bce"/><rect x="24" y="55" fill="#bc89cc"/><rect x="25" y="55" fill="#c886ca"/><rect x="26" y="55" fill="#d083c7"/><rect x="27" y="55" fill="#d87fc4"/><rect x="28" y="55" fill="#de7ac1"/><rect x="29" y="55" fill="#e374bd"/><rect x="30" y="55" fill="#e76eb9"/><rect x="31" y="55" fill="#eb69b5"/><rect x="32" y="55" fill="#ef64b1"/><rect x="33" y="55" fill="#f25fad"/><rect x="34" y="55" fill="#f55baa"/><rect x="35" y="55" fill="#f756a6"/><rect x="36" y="55" fill="#fa51a3"/><rect x="37" y="55" fill="#fb4da0"/><rect x="38" y="55" fill="#fd499d"/><rect x="39" y="55" fill="#fe459a"/><rect x="40" y="55" fill="#ff4197"/><rect x="41" y="55" fill="#ff3d95"/><rect x="42" y="55" fill="#ff3a92"/><rect x="43" y="55" fill="#ff3790"/><rect x="44" y="55" fill="#ff348d"/><rect x="45" y="55" fill="#ff318b"/><rect x="46" y="55" fill="#ff2f89"/><rect x="47" y="55" fill="#ff2d87"/><rect x="48" y="55" fill="#ff2b85"/><rect x="49" y="55" fill="#ff2a83"/><rect x="50" y="55" fill="#ff2882"/><rect x="51" y="55" fill="#ff2780"/><rect x="52" y="55" fill="#ff277d"/><rect x="53" y="55" fill="#ff267b"/><rect x="54" y="55" fill="#ff2778"/><rect x="55" y="55" fill="#ff2576"/><rect x="56" y="55" fill="#ff2473"/><rect x="57" y="55" fill="#ff2571"/><rect x="58" y="55" fill="#ff246e"/><rect x="59" y="55" fill="#ff226b"/><rect x="60" y="55" fill="#ff2369"/><rect x="61" y="55" fill="#ff2266"/><rect x="62" y="55" fill="#ff2163"/><rect x="63" y="55" fill="#ff2263"/><rect x="64" y="55" fill="#ff2160"/><rect x="65" y="55" fill="#ff205c"/><rect x="0" y="56" fill="#00bcdd"/><rect x="1" y="56" fill="#00bcde"/><rect x="2" y="56" fill="#00badd"/><rect x="3" y="56" fill="#00badd"/><rect x="4" y="56" fill="#00b9de"/><rect x="5" y="56" fill="#00b6dd"/><rect x="6" y="56" fill="#00b5dd"/><rect x="7" y="56" fill="#00b3dd"/><rect x="8" y="56" fill="#00aedc"/><rect x="9" y="56" fill="#00aadb"/><rect x="10" y="56" fill="#00a5db"/><rect x="11" y="56" fill="#00a0da"/><rect x="12" y="56" fill="#009cd9"/><rect x="13" y="56" fill="#0098d8"/><rect x="14" y="56" fill="#0494d6"/><rect x="15" y="56" fill="#0b92d5"/><rect x="16" y="56" fill="#1690d4"/><rect x="17" y="56" fill="#258fd3"/><rect x="18" y="56" fill="#3a8ed2"/><rect x="19" y="56" fill="#548cd1"/><rect x="20" y="56" fill="#6f89d0"/><rect x="21" y="56" fill="#8787ce"/><rect x="22" y="56" fill="#9b85cc"/><rect x="23" y="56" fill="#ad82ca"/><rect x="24" y="56" fill="#bb80c7"/><rect x="25" y="56" fill="#c57ec5"/><rect x="26" y="56" fill="#ce7bc3"/><rect x="27" y="56" fill="#d577c0"/><rect x="28" y="56" fill="#db72bd"/><rect x="29" y="56" fill="#e06cb9"/><rect x="30" y="56" fill="#e467b5"/><rect x="31" y="56" fill="#e862b2"/><rect x="32" y="56" fill="#ec5eaf"/><rect x="33" y="56" fill="#f059ac"/><rect x="34" y="56" fill="#f355a9"/><rect x="35" y="56" fill="#f551a6"/><rect x="36" y="56" fill="#f84da4"/><rect x="37" y="56" fill="#fa49a1"/><rect x="38" y="56" fill="#fb459f"/><rect x="39" y="56" fill="#fc429d"/><rect x="40" y="56" fill="#fd3e9a"/><rect x="41" y="56" fill="#fe3b98"/><rect x="42" y="56" fill="#fe3895"/><rect x="43" y="56" fill="#fe3593"/><rect x="44" y="56" fill="#fe3291"/><rect x="45" y="56" fill="#ff308f"/><rect x="46" y="56" fill="#ff2e8d"/><rect x="47" y="56" fill="#ff2c8b"/><rect x="48" y="56" fill="#ff2a8a"/><rect x="49" y="56" fill="#fe2988"/><rect x="50" y="56" fill="#ff2985"/><rect x="51" y="56" fill="#ff2884"/><rect x="52" y="56" fill="#ff2981"/><rect x="53" y="56" fill="#ff287f"/><rect x="54" y="56" fill="#ff267e"/><rect x="55" y="56" fill="#ff277b"/><rect x="56" y="56" fill="#ff2679"/><rect x="57" y="56" fill="#ff2577"/><rect x="58" y="56" fill="#ff2674"/><rect x="59" y="56" fill="#ff2572"/><rect x="60" y="56" fill="#ff236f"/><rect x="61" y="56" fill="#ff256e"/><rect x="62" y="56" fill="#ff236b"/><rect x="63" y="56" fill="#ff2268"/><rect x="64" y="56" fill="#ff2165"/><rect x="65" y="56" fill="#ff2365"/><rect x="0" y="57" fill="#00badd"/><rect x="1" y="57" fill="#00bade"/><rect x="2" y="57" fill="#00b7dd"/><rect x="3" y="57" fill="#00b7dd"/><rect x="4" y="57" fill="#00b4dd"/><rect x="5" y="57" fill="#00b2dd"/><rect x="6" y="57" fill="#00b0dd"/><rect x="7" y="57" fill="#00acdc"/><rect x="8" y="57" fill="#00a9db"/><rect x="9" y="57" fill="#00a4da"/><rect x="10" y="57" fill="#009ed9"/><rect x="11" y="57" fill="#0098d8"/><rect x="12" y="57" fill="#0093d7"/><rect x="13" y="57" fill="#028fd5"/><rect x="14" y="57" fill="#078cd4"/><rect x="15" y="57" fill="#0f8ad3"/><rect x="16" y="57" fill="#1b88d1"/><rect x="17" y="57" fill="#2b86d0"/><rect x="18" y="57" fill="#4085cf"/><rect x="19" y="57" fill="#5983cd"/><rect x="20" y="57" fill="#7180cb"/><rect x="21" y="57" fill="#877eca"/><rect x="22" y="57" fill="#9a7cc8"/><rect x="23" y="57" fill="#ab7ac5"/><rect x="24" y="57" fill="#b878c3"/><rect x="25" y="57" fill="#c276c1"/><rect x="26" y="57" fill="#cb73be"/><rect x="27" y="57" fill="#d26fbc"/><rect x="28" y="57" fill="#d76bb9"/><rect x="29" y="57" fill="#dc66b6"/><rect x="30" y="57" fill="#e161b3"/><rect x="31" y="57" fill="#e55cb0"/><rect x="32" y="57" fill="#e958ad"/><rect x="33" y="57" fill="#ed54ab"/><rect x="34" y="57" fill="#f050a9"/><rect x="35" y="57" fill="#f34da6"/><rect x="36" y="57" fill="#f649a4"/><rect x="37" y="57" fill="#f845a3"/><rect x="38" y="57" fill="#f942a1"/><rect x="39" y="57" fill="#fb3f9f"/><rect x="40" y="57" fill="#fc3c9d"/><rect x="41" y="57" fill="#fc399b"/><rect x="42" y="57" fill="#fd3699"/><rect x="43" y="57" fill="#fd3397"/><rect x="44" y="57" fill="#fd3195"/><rect x="45" y="57" fill="#fe2f93"/><rect x="46" y="57" fill="#fe2d91"/><rect x="47" y="57" fill="#fe2b90"/><rect x="48" y="57" fill="#fe2b8d"/><rect x="49" y="57" fill="#fe2a8b"/><rect x="50" y="57" fill="#ff2b89"/><rect x="51" y="57" fill="#ff2987"/><rect x="52" y="57" fill="#ff2886"/><rect x="53" y="57" fill="#ff2983"/><rect x="54" y="57" fill="#ff2881"/><rect x="55" y="57" fill="#ff2780"/><rect x="56" y="57" fill="#ff287d"/><rect x="57" y="57" fill="#ff277b"/><rect x="58" y="57" fill="#ff267a"/><rect x="59" y="57" fill="#ff2777"/><rect x="60" y="57" fill="#ff2675"/><rect x="61" y="57" fill="#ff2573"/><rect x="62" y="57" fill="#ff2370"/><rect x="63" y="57" fill="#ff256f"/><rect x="64" y="57" fill="#ff246d"/><rect x="65" y="57" fill="#ff236a"/><rect x="0" y="58" fill="#00b8dd"/><rect x="1" y="58" fill="#00b7de"/><rect x="2" y="58" fill="#00b5dd"/><rect x="3" y="58" fill="#00b3dd"/><rect x="4" y="58" fill="#00b0dc"/><rect x="5" y="58" fill="#00aedc"/><rect x="6" y="58" fill="#00aadb"/><rect x="7" y="58" fill="#00a7db"/><rect x="8" y="58" fill="#00a4da"/><rect x="9" y="58" fill="#009ed9"/><rect x="10" y="58" fill="#0098d7"/><rect x="11" y="58" fill="#0091d5"/><rect x="12" y="58" fill="#008cd4"/><rect x="13" y="58" fill="#0588d3"/><rect x="14" y="58" fill="#0b85d1"/><rect x="15" y="58" fill="#1382d0"/><rect x="16" y="58" fill="#1f80ce"/><rect x="17" y="58" fill="#317ecd"/><rect x="18" y="58" fill="#467ccb"/><rect x="19" y="58" fill="#5c7ac9"/><rect x="20" y="58" fill="#7278c7"/><rect x="21" y="58" fill="#8776c5"/><rect x="22" y="58" fill="#9974c3"/><rect x="23" y="58" fill="#a872c1"/><rect x="24" y="58" fill="#b570bf"/><rect x="25" y="58" fill="#bf6ebd"/><rect x="26" y="58" fill="#c76cba"/><rect x="27" y="58" fill="#ce68b8"/><rect x="28" y="58" fill="#d464b5"/><rect x="29" y="58" fill="#d95fb3"/><rect x="30" y="58" fill="#de5bb0"/><rect x="31" y="58" fill="#e257ae"/><rect x="32" y="58" fill="#e653ac"/><rect x="33" y="58" fill="#ea4faa"/><rect x="34" y="58" fill="#ee4ca8"/><rect x="35" y="58" fill="#f149a6"/><rect x="36" y="58" fill="#f345a5"/><rect x="37" y="58" fill="#f542a3"/><rect x="38" y="58" fill="#f73fa2"/><rect x="39" y="58" fill="#f93ca0"/><rect x="40" y="58" fill="#fa399f"/><rect x="41" y="58" fill="#fb379d"/><rect x="42" y="58" fill="#fb349b"/><rect x="43" y="58" fill="#fc3299"/><rect x="44" y="58" fill="#fc2f98"/><rect x="45" y="58" fill="#fd3095"/><rect x="46" y="58" fill="#fd2e94"/><rect x="47" y="58" fill="#fd2c92"/><rect x="48" y="58" fill="#fe2d8f"/><rect x="49" y="58" fill="#fe2b8e"/><rect x="50" y="58" fill="#fe2a8d"/><rect x="51" y="58" fill="#ff2b8a"/><rect x="52" y="58" fill="#ff2a89"/><rect x="53" y="58" fill="#ff2887"/><rect x="54" y="58" fill="#ff2984"/><rect x="55" y="58" fill="#ff2883"/><rect x="56" y="58" fill="#ff2782"/><rect x="57" y="58" fill="#ff297f"/><rect x="58" y="58" fill="#ff277e"/><rect x="59" y="58" fill="#ff277c"/><rect x="60" y="58" fill="#ff267a"/><rect x="61" y="58" fill="#ff2778"/><rect x="62" y="58" fill="#ff2676"/><rect x="63" y="58" fill="#ff2574"/><rect x="64" y="58" fill="#ff2472"/><rect x="65" y="58" fill="#ff2670"/><rect x="0" y="59" fill="#00b5dd"/><rect x="1" y="59" fill="#00b2dd"/><rect x="2" y="59" fill="#00b1dd"/><rect x="3" y="59" fill="#00aedc"/><rect x="4" y="59" fill="#00acdc"/><rect x="5" y="59" fill="#00aadc"/><rect x="6" y="59" fill="#00a5db"/><rect x="7" y="59" fill="#00a3da"/><rect x="8" y="59" fill="#00a0da"/><rect x="9" y="59" fill="#0099d8"/><rect x="10" y="59" fill="#0092d6"/><rect x="11" y="59" fill="#008bd3"/><rect x="12" y="59" fill="#0285d1"/><rect x="13" y="59" fill="#0881d0"/><rect x="14" y="59" fill="#0e7ecf"/><rect x="15" y="59" fill="#177bcd"/><rect x="16" y="59" fill="#2379cb"/><rect x="17" y="59" fill="#3577c9"/><rect x="18" y="59" fill="#4a74c7"/><rect x="19" y="59" fill="#6072c5"/><rect x="20" y="59" fill="#7470c3"/><rect x="21" y="59" fill="#866ec1"/><rect x="22" y="59" fill="#976cbf"/><rect x="23" y="59" fill="#a66abd"/><rect x="24" y="59" fill="#b269bb"/><rect x="25" y="59" fill="#bc67b9"/><rect x="26" y="59" fill="#c464b6"/><rect x="27" y="59" fill="#cb61b4"/><rect x="28" y="59" fill="#d05db2"/><rect x="29" y="59" fill="#d55ab0"/><rect x="30" y="59" fill="#da56ae"/><rect x="31" y="59" fill="#df52ac"/><rect x="32" y="59" fill="#e34faa"/><rect x="33" y="59" fill="#e74ba9"/><rect x="34" y="59" fill="#eb48a8"/><rect x="35" y="59" fill="#ee45a6"/><rect x="36" y="59" fill="#f142a5"/><rect x="37" y="59" fill="#f340a4"/><rect x="38" y="59" fill="#f53da3"/><rect x="39" y="59" fill="#f63aa2"/><rect x="40" y="59" fill="#f837a0"/><rect x="41" y="59" fill="#f9359f"/><rect x="42" y="59" fill="#f9329e"/><rect x="43" y="59" fill="#fb339b"/><rect x="44" y="59" fill="#fb319a"/><rect x="45" y="59" fill="#fc2f98"/><rect x="46" y="59" fill="#fd2f96"/><rect x="47" y="59" fill="#fd2e94"/><rect x="48" y="59" fill="#fe2f92"/><rect x="49" y="59" fill="#fe2d90"/><rect x="50" y="59" fill="#fe2b8f"/><rect x="51" y="59" fill="#ff2d8c"/><rect x="52" y="59" fill="#ff2b8b"/><rect x="53" y="59" fill="#fe2a8a"/><rect x="54" y="59" fill="#fe2988"/><rect x="55" y="59" fill="#ff2a86"/><rect x="56" y="59" fill="#ff2984"/><rect x="57" y="59" fill="#ff2883"/><rect x="58" y="59" fill="#ff2782"/><rect x="59" y="59" fill="#ff297f"/><rect x="60" y="59" fill="#ff287e"/><rect x="61" y="59" fill="#ff277c"/><rect x="62" y="59" fill="#ff267a"/><rect x="63" y="59" fill="#ff2778"/><rect x="64" y="59" fill="#ff2677"/><rect x="65" y="59" fill="#ff2675"/><rect x="0" y="60" fill="#00b2dd"/><rect x="1" y="60" fill="#00afdc"/><rect x="2" y="60" fill="#00addc"/><rect x="3" y="60" fill="#00a9db"/><rect x="4" y="60" fill="#00a8db"/><rect x="5" y="60" fill="#00a3da"/><rect x="6" y="60" fill="#00a1da"/><rect x="7" y="60" fill="#009fd9"/><rect x="8" y="60" fill="#0098d7"/><rect x="9" y="60" fill="#0096d7"/><rect x="10" y="60" fill="#008ed4"/><rect x="11" y="60" fill="#0087d2"/><rect x="12" y="60" fill="#0580cf"/><rect x="13" y="60" fill="#0b7bce"/><rect x="14" y="60" fill="#1278cc"/><rect x="15" y="60" fill="#1c75ca"/><rect x="16" y="60" fill="#2872c8"/><rect x="17" y="60" fill="#3a6fc5"/><rect x="18" y="60" fill="#4e6dc3"/><rect x="19" y="60" fill="#626ac1"/><rect x="20" y="60" fill="#7568be"/><rect x="21" y="60" fill="#8666bd"/><rect x="22" y="60" fill="#9665bb"/><rect x="23" y="60" fill="#a463b9"/><rect x="24" y="60" fill="#af62b7"/><rect x="25" y="60" fill="#b960b5"/><rect x="26" y="60" fill="#c15eb3"/><rect x="27" y="60" fill="#c85bb1"/><rect x="28" y="60" fill="#cd58af"/><rect x="29" y="60" fill="#d254ad"/><rect x="30" y="60" fill="#d751ab"/><rect x="31" y="60" fill="#dc4eaa"/><rect x="32" y="60" fill="#e14ba9"/><rect x="33" y="60" fill="#e548a8"/><rect x="34" y="60" fill="#e845a7"/><rect x="35" y="60" fill="#eb42a6"/><rect x="36" y="60" fill="#ee40a6"/><rect x="37" y="60" fill="#f03da5"/><rect x="38" y="60" fill="#f23ba4"/><rect x="39" y="60" fill="#f438a3"/><rect x="40" y="60" fill="#f536a2"/><rect x="41" y="60" fill="#f836a0"/><rect x="42" y="60" fill="#f8349f"/><rect x="43" y="60" fill="#f9319e"/><rect x="44" y="60" fill="#fb329b"/><rect x="45" y="60" fill="#fb309a"/><rect x="46" y="60" fill="#fc3198"/><rect x="47" y="60" fill="#fd2f96"/><rect x="48" y="60" fill="#fd2e95"/><rect x="49" y="60" fill="#fe2f92"/><rect x="50" y="60" fill="#fe2d91"/><rect x="51" y="60" fill="#fe2c8f"/><rect x="52" y="60" fill="#fe2a8e"/><rect x="53" y="60" fill="#ff2c8c"/><rect x="54" y="60" fill="#ff2b8a"/><rect x="55" y="60" fill="#fe2a89"/><rect x="56" y="60" fill="#fe2888"/><rect x="57" y="60" fill="#ff2a85"/><rect x="58" y="60" fill="#ff2984"/><rect x="59" y="60" fill="#ff2883"/><rect x="60" y="60" fill="#ff2781"/><rect x="61" y="60" fill="#ff297f"/><rect x="62" y="60" fill="#ff287e"/><rect x="63" y="60" fill="#ff277c"/><rect x="64" y="60" fill="#ff267b"/><rect x="65" y="60" fill="#ff2579"/><rect x="0" y="61" fill="#00aedc"/><rect x="1" y="61" fill="#00abdc"/><rect x="2" y="61" fill="#00aadc"/><rect x="3" y="61" fill="#00a5db"/><rect x="4" y="61" fill="#00a4db"/><rect x="5" y="61" fill="#009fd9"/><rect x="6" y="61" fill="#009dd9"/><rect x="7" y="61" fill="#0097d7"/><rect x="8" y="61" fill="#0095d6"/><rect x="9" y="61" fill="#0093d6"/><rect x="10" y="61" fill="#008bd3"/><rect x="11" y="61" fill="#0284d0"/><rect x="12" y="61" fill="#087ccd"/><rect x="13" y="61" fill="#0f76cb"/><rect x="14" y="61" fill="#1772c9"/><rect x="15" y="61" fill="#216ec7"/><rect x="16" y="61" fill="#2e6bc4"/><rect x="17" y="61" fill="#3f68c1"/><rect x="18" y="61" fill="#5265bf"/><rect x="19" y="61" fill="#6563bc"/><rect x="20" y="61" fill="#7661ba"/><rect x="21" y="61" fill="#8760b8"/><rect x="22" y="61" fill="#955eb7"/><rect x="23" y="61" fill="#a25db5"/><rect x="24" y="61" fill="#ad5bb3"/><rect x="25" y="61" fill="#b65ab2"/><rect x="26" y="61" fill="#be58b0"/><rect x="27" y="61" fill="#c555ae"/><rect x="28" y="61" fill="#ca53ad"/><rect x="29" y="61" fill="#cf50ab"/><rect x="30" y="61" fill="#d54daa"/><rect x="31" y="61" fill="#da4aa9"/><rect x="32" y="61" fill="#de48a8"/><rect x="33" y="61" fill="#e245a7"/><rect x="34" y="61" fill="#e543a7"/><rect x="35" y="61" fill="#e840a6"/><rect x="36" y="61" fill="#eb3ea6"/><rect x="37" y="61" fill="#ed3ba5"/><rect x="38" y="61" fill="#ef39a5"/><rect x="39" y="61" fill="#f339a4"/><rect x="40" y="61" fill="#f437a3"/><rect x="41" y="61" fill="#f737a1"/><rect x="42" y="61" fill="#f835a0"/><rect x="43" y="61" fill="#f8339f"/><rect x="44" y="61" fill="#fa349d"/><rect x="45" y="61" fill="#fb329b"/><rect x="46" y="61" fill="#fb309a"/><rect x="47" y="61" fill="#fc3198"/><rect x="48" y="61" fill="#fd2f96"/><rect x="49" y="61" fill="#fd2e95"/><rect x="50" y="61" fill="#fd2c94"/><rect x="51" y="61" fill="#fe2e91"/><rect x="52" y="61" fill="#fe2c90"/><rect x="53" y="61" fill="#fe2b8f"/><rect x="54" y="61" fill="#ff2d8c"/><rect x="55" y="61" fill="#ff2c8b"/><rect x="56" y="61" fill="#ff2b8a"/><rect x="57" y="61" fill="#ff2a88"/><rect x="58" y="61" fill="#ff2887"/><rect x="59" y="61" fill="#ff2a85"/><rect x="60" y="61" fill="#ff2984"/><rect x="61" y="61" fill="#ff2882"/><rect x="62" y="61" fill="#ff2881"/><rect x="63" y="61" fill="#ff2780"/><rect x="64" y="61" fill="#ff297d"/><rect x="65" y="61" fill="#ff287c"/><rect x="0" y="62" fill="#00a8db"/><rect x="1" y="62" fill="#00a7db"/><rect x="2" y="62" fill="#00a3da"/><rect x="3" y="62" fill="#00a1da"/><rect x="4" y="62" fill="#009cd8"/><rect x="5" y="62" fill="#009bd8"/><rect x="6" y="62" fill="#009ad8"/><rect x="7" y="62" fill="#0094d6"/><rect x="8" y="62" fill="#0092d6"/><rect x="9" y="62" fill="#0090d5"/><rect x="10" y="62" fill="#0089d2"/><rect x="11" y="62" fill="#0481cf"/><rect x="12" y="62" fill="#0b79cb"/><rect x="13" y="62" fill="#1372c8"/><rect x="14" y="62" fill="#1c6cc6"/><rect x="15" y="62" fill="#2768c3"/><rect x="16" y="62" fill="#3564c0"/><rect x="17" y="62" fill="#4561bd"/><rect x="18" y="62" fill="#575fbb"/><rect x="19" y="62" fill="#685cb8"/><rect x="20" y="62" fill="#785bb6"/><rect x="21" y="62" fill="#8759b5"/><rect x="22" y="62" fill="#9458b3"/><rect x="23" y="62" fill="#a057b2"/><rect x="24" y="62" fill="#aa56b0"/><rect x="25" y="62" fill="#b354af"/><rect x="26" y="62" fill="#bb53ad"/><rect x="27" y="62" fill="#c251ac"/><rect x="28" y="62" fill="#c84fab"/><rect x="29" y="62" fill="#cd4caa"/><rect x="30" y="62" fill="#d34aa9"/><rect x="31" y="62" fill="#d747a8"/><rect x="32" y="62" fill="#dc45a8"/><rect x="33" y="62" fill="#df43a7"/><rect x="34" y="62" fill="#e241a7"/><rect x="35" y="62" fill="#e53ea7"/><rect x="36" y="62" fill="#e83ca6"/><rect x="37" y="62" fill="#ec3ca6"/><rect x="38" y="62" fill="#ee3aa5"/><rect x="39" y="62" fill="#f23aa4"/><rect x="40" y="62" fill="#f338a3"/><rect x="41" y="62" fill="#f436a2"/><rect x="42" y="62" fill="#f737a1"/><rect x="43" y="62" fill="#f835a0"/><rect x="44" y="62" fill="#f9339f"/><rect x="45" y="62" fill="#fa349d"/><rect x="46" y="62" fill="#fb329b"/><rect x="47" y="62" fill="#fb309a"/><rect x="48" y="62" fill="#fd3298"/><rect x="49" y="62" fill="#fd3096"/><rect x="50" y="62" fill="#fd2e95"/><rect x="51" y="62" fill="#fd2d94"/><rect x="52" y="62" fill="#fe2f91"/><rect x="53" y="62" fill="#fe2e90"/><rect x="54" y="62" fill="#fe2c8f"/><rect x="55" y="62" fill="#fe2b8e"/><rect x="56" y="62" fill="#fe2a8d"/><rect x="57" y="62" fill="#ff2c8a"/><rect x="58" y="62" fill="#ff2b89"/><rect x="59" y="62" fill="#ff2a88"/><rect x="60" y="62" fill="#ff2987"/><rect x="61" y="62" fill="#ff2886"/><rect x="62" y="62" fill="#ff2a83"/><rect x="63" y="62" fill="#ff2982"/><rect x="64" y="62" fill="#ff2881"/><rect x="65" y="62" fill="#ff2880"/><rect x="0" y="63" fill="#00a4da"/><rect x="1" y="63" fill="#00a3da"/><rect x="2" y="63" fill="#009fd9"/><rect x="3" y="63" fill="#009ed9"/><rect x="4" y="63" fill="#0099d8"/><rect x="5" y="63" fill="#0098d7"/><rect x="6" y="63" fill="#0092d5"/><rect x="7" y="63" fill="#0091d5"/><rect x="8" y="63" fill="#0090d5"/><rect x="9" y="63" fill="#0089d2"/><rect x="10" y="63" fill="#0087d1"/><rect x="11" y="63" fill="#067ecd"/><rect x="12" y="63" fill="#0e75c9"/><rect x="13" y="63" fill="#176dc6"/><rect x="14" y="63" fill="#2267c3"/><rect x="15" y="63" fill="#2e62c0"/><rect x="16" y="63" fill="#3c5ebd"/><rect x="17" y="63" fill="#4c5bba"/><rect x="18" y="63" fill="#5c58b7"/><rect x="19" y="63" fill="#6c57b5"/><rect x="20" y="63" fill="#7a55b3"/><rect x="21" y="63" fill="#8754b2"/><rect x="22" y="63" fill="#9352b0"/><rect x="23" y="63" fill="#9e52af"/><rect x="24" y="63" fill="#a851ae"/><rect x="25" y="63" fill="#b050ad"/><rect x="26" y="63" fill="#b84fac"/><rect x="27" y="63" fill="#bf4dab"/><rect x="28" y="63" fill="#c54baa"/><rect x="29" y="63" fill="#cb49a9"/><rect x="30" y="63" fill="#d047a8"/><rect x="31" y="63" fill="#d545a8"/><rect x="32" y="63" fill="#d943a7"/><rect x="33" y="63" fill="#dc41a7"/><rect x="34" y="63" fill="#df3fa7"/><rect x="35" y="63" fill="#e43fa7"/><rect x="36" y="63" fill="#e73da7"/><rect x="37" y="63" fill="#eb3da6"/><rect x="38" y="63" fill="#ed3ba5"/><rect x="39" y="63" fill="#ef39a5"/><rect x="40" y="63" fill="#f239a4"/><rect x="41" y="63" fill="#f437a3"/><rect x="42" y="63" fill="#f535a2"/><rect x="43" y="63" fill="#f737a0"/><rect x="44" y="63" fill="#f8359f"/><rect x="45" y="63" fill="#f9339e"/><rect x="46" y="63" fill="#fb349c"/><rect x="47" y="63" fill="#fb329b"/><rect x="48" y="63" fill="#fb319a"/><rect x="49" y="63" fill="#fc2f99"/><rect x="50" y="63" fill="#fd3196"/><rect x="51" y="63" fill="#fd2f95"/><rect x="52" y="63" fill="#fd2e94"/><rect x="53" y="63" fill="#fd2d93"/><rect x="54" y="63" fill="#fe2f90"/><rect x="55" y="63" fill="#fe2e8f"/><rect x="56" y="63" fill="#fe2c8e"/><rect x="57" y="63" fill="#fe2b8d"/><rect x="58" y="63" fill="#fe2a8c"/><rect x="59" y="63" fill="#fe298b"/><rect x="60" y="63" fill="#ff2c88"/><rect x="61" y="63" fill="#ff2b87"/><rect x="62" y="63" fill="#ff2a86"/><rect x="63" y="63" fill="#ff2985"/><rect x="64" y="63" fill="#ff2884"/><rect x="65" y="63" fill="#ff2a81"/><rect x="0" y="64" fill="#00a0d9"/><rect x="1" y="64" fill="#00a0da"/><rect x="2" y="64" fill="#009bd8"/><rect x="3" y="64" fill="#009bd8"/><rect x="4" y="64" fill="#0096d7"/><rect x="5" y="64" fill="#0096d7"/><rect x="6" y="64" fill="#0090d5"/><rect x="7" y="64" fill="#008fd5"/><rect x="8" y="64" fill="#0088d2"/><rect x="9" y="64" fill="#0087d1"/><rect x="10" y="64" fill="#0284d0"/><rect x="11" y="64" fill="#087bcc"/><rect x="12" y="64" fill="#1171c8"/><rect x="13" y="64" fill="#1b69c4"/><rect x="14" y="64" fill="#2763c0"/><rect x="15" y="64" fill="#345dbd"/><rect x="16" y="64" fill="#4259ba"/><rect x="17" y="64" fill="#5156b7"/><rect x="18" y="64" fill="#6053b5"/><rect x="19" y="64" fill="#6e51b3"/><rect x="20" y="64" fill="#7b50b1"/><rect x="21" y="64" fill="#874faf"/><rect x="22" y="64" fill="#924eae"/><rect x="23" y="64" fill="#9b4ead"/><rect x="24" y="64" fill="#a44dac"/><rect x="25" y="64" fill="#ac4dac"/><rect x="26" y="64" fill="#b44cab"/><rect x="27" y="64" fill="#bb4baa"/><rect x="28" y="64" fill="#c149a9"/><rect x="29" y="64" fill="#c747a9"/><rect x="30" y="64" fill="#cd46a8"/><rect x="31" y="64" fill="#d144a8"/><rect x="32" y="64" fill="#d843a7"/><rect x="33" y="64" fill="#db41a7"/><rect x="34" y="64" fill="#de40a7"/><rect x="35" y="64" fill="#e440a7"/><rect x="36" y="64" fill="#e63ea7"/><rect x="37" y="64" fill="#e83ba6"/><rect x="38" y="64" fill="#ec3ca6"/><rect x="39" y="64" fill="#ee3aa5"/><rect x="40" y="64" fill="#f038a5"/><rect x="41" y="64" fill="#f339a3"/><rect x="42" y="64" fill="#f437a3"/><rect x="43" y="64" fill="#f535a2"/><rect x="44" y="64" fill="#f837a0"/><rect x="45" y="64" fill="#f9359f"/><rect x="46" y="64" fill="#f9339e"/><rect x="47" y="64" fill="#fa319d"/><rect x="48" y="64" fill="#fb339b"/><rect x="49" y="64" fill="#fc329a"/><rect x="50" y="64" fill="#fc3098"/><rect x="51" y="64" fill="#fc2f97"/><rect x="52" y="64" fill="#fd3195"/><rect x="53" y="64" fill="#fd2f94"/><rect x="54" y="64" fill="#fe2e93"/><rect x="55" y="64" fill="#fe2d91"/><rect x="56" y="64" fill="#fe2c90"/><rect x="57" y="64" fill="#ff2e8e"/><rect x="58" y="64" fill="#ff2d8d"/><rect x="59" y="64" fill="#ff2c8c"/><rect x="60" y="64" fill="#ff2b8b"/><rect x="61" y="64" fill="#fe2a8a"/><rect x="62" y="64" fill="#fe2989"/><rect x="63" y="64" fill="#ff2c86"/><rect x="64" y="64" fill="#ff2b85"/><rect x="65" y="64" fill="#ff2a84"/><rect x="0" y="65" fill="#009dd9"/><rect x="1" y="65" fill="#0098d7"/><rect x="2" y="65" fill="#0098d8"/><rect x="3" y="65" fill="#0093d6"/><rect x="4" y="65" fill="#0093d6"/><rect x="5" y="65" fill="#008ed4"/><rect x="6" y="65" fill="#008ed4"/><rect x="7" y="65" fill="#0087d1"/><rect x="8" y="65" fill="#0086d1"/><rect x="9" y="65" fill="#0284d0"/><rect x="10" y="65" fill="#087ccc"/><rect x="11" y="65" fill="#0b78cb"/><rect x="12" y="65" fill="#136fc7"/><rect x="13" y="65" fill="#1e66c3"/><rect x="14" y="65" fill="#2a5fbf"/><rect x="15" y="65" fill="#385abc"/><rect x="16" y="65" fill="#4655b9"/><rect x="17" y="65" fill="#5452b6"/><rect x="18" y="65" fill="#624fb4"/><rect x="19" y="65" fill="#6f4eb2"/><rect x="20" y="65" fill="#7b4cb0"/><rect x="21" y="65" fill="#854baf"/><rect x="22" y="65" fill="#8f4bad"/><rect x="23" y="65" fill="#984bac"/><rect x="24" y="65" fill="#a04bac"/><rect x="25" y="65" fill="#a84aab"/><rect x="26" y="65" fill="#af4aab"/><rect x="27" y="65" fill="#b549aa"/><rect x="28" y="65" fill="#bc48aa"/><rect x="29" y="65" fill="#c247a9"/><rect x="30" y="65" fill="#cd46a8"/><rect x="31" y="65" fill="#d144a8"/><rect x="32" y="65" fill="#d442a8"/><rect x="33" y="65" fill="#db42a7"/><rect x="34" y="65" fill="#de40a7"/><rect x="35" y="65" fill="#e341a7"/><rect x="36" y="65" fill="#e63fa7"/><rect x="37" y="65" fill="#e83da6"/><rect x="38" y="65" fill="#ec3ea6"/><rect x="39" y="65" fill="#ee3ca5"/><rect x="40" y="65" fill="#ef3aa5"/><rect x="41" y="65" fill="#f138a4"/><rect x="42" y="65" fill="#f439a3"/><rect x="43" y="65" fill="#f537a2"/><rect x="44" y="65" fill="#f635a1"/><rect x="45" y="65" fill="#f734a0"/><rect x="46" y="65" fill="#f9369f"/><rect x="47" y="65" fill="#fa349e"/><rect x="48" y="65" fill="#fa329c"/><rect x="49" y="65" fill="#fb319b"/><rect x="50" y="65" fill="#fc3399"/><rect x="51" y="65" fill="#fc3198"/><rect x="52" y="65" fill="#fd3097"/><rect x="53" y="65" fill="#fd2f96"/><rect x="54" y="65" fill="#fd2d95"/><rect x="55" y="65" fill="#fe3092"/><rect x="56" y="65" fill="#fe2f91"/><rect x="57" y="65" fill="#fe2e90"/><rect x="58" y="65" fill="#fe2c8f"/><rect x="59" y="65" fill="#fe2b8e"/><rect x="60" y="65" fill="#fe2a8d"/><rect x="61" y="65" fill="#ff2d8a"/><rect x="62" y="65" fill="#ff2c89"/><rect x="63" y="65" fill="#ff2b88"/><rect x="64" y="65" fill="#ff2a88"/><rect x="65" y="65" fill="#ff2a87"/><rect x="0" y="66" fill="#009ad8"/><rect x="1" y="66" fill="#0095d6"/><rect x="2" y="66" fill="#0096d7"/><rect x="3" y="66" fill="#0091d5"/><rect x="4" y="66" fill="#0091d5"/><rect x="5" y="66" fill="#008cd3"/><rect x="6" y="66" fill="#008cd3"/><rect x="7" y="66" fill="#0185d1"/><rect x="8" y="66" fill="#0284d0"/><rect x="9" y="66" fill="#087ccd"/><rect x="10" y="66" fill="#0a79cb"/><rect x="11" y="66" fill="#0d74ca"/><rect x="12" y="66" fill="#166cc6"/><rect x="13" y="66" fill="#2064c2"/><rect x="14" y="66" fill="#2d5dbf"/><rect x="15" y="66" fill="#3b57bb"/><rect x="16" y="66" fill="#4952b9"/><rect x="17" y="66" fill="#564fb6"/><rect x="18" y="66" fill="#634cb4"/><rect x="19" y="66" fill="#6f4ab2"/><rect x="20" y="66" fill="#7949b0"/><rect x="21" y="66" fill="#8349ae"/><rect x="22" y="66" fill="#8c49ad"/><rect x="23" y="66" fill="#9449ad"/><rect x="24" y="66" fill="#9b49ac"/><rect x="25" y="66" fill="#a249ab"/><rect x="26" y="66" fill="#a949ab"/><rect x="27" y="66" fill="#b048ab"/><rect x="28" y="66" fill="#bc48a9"/><rect x="29" y="66" fill="#c247a9"/><rect x="30" y="66" fill="#c745a9"/><rect x="31" y="66" fill="#d144a8"/><rect x="32" y="66" fill="#d443a8"/><rect x="33" y="66" fill="#db43a7"/><rect x="34" y="66" fill="#de41a7"/><rect x="35" y="66" fill="#e03fa7"/><rect x="36" y="66" fill="#e540a7"/><rect x="37" y="66" fill="#e83ea6"/><rect x="38" y="66" fill="#ea3ca6"/><rect x="39" y="66" fill="#eb3aa6"/><rect x="40" y="66" fill="#ef3ca5"/><rect x="41" y="66" fill="#f13aa4"/><rect x="42" y="66" fill="#f238a4"/><rect x="43" y="66" fill="#f336a3"/><rect x="44" y="66" fill="#f638a2"/><rect x="45" y="66" fill="#f736a1"/><rect x="46" y="66" fill="#f834a0"/><rect x="47" y="66" fill="#f8339f"/><rect x="48" y="66" fill="#fa359d"/><rect x="49" y="66" fill="#fb349c"/><rect x="50" y="66" fill="#fb329b"/><rect x="51" y="66" fill="#fb319a"/><rect x="52" y="66" fill="#fc2f99"/><rect x="53" y="66" fill="#fd3297"/><rect x="54" y="66" fill="#fd3195"/><rect x="55" y="66" fill="#fd2f94"/><rect x="56" y="66" fill="#fd2e93"/><rect x="57" y="66" fill="#fd2d92"/><rect x="58" y="66" fill="#fd2c91"/><rect x="59" y="66" fill="#fe2f8f"/><rect x="60" y="66" fill="#fe2e8e"/><rect x="61" y="66" fill="#fe2d8d"/><rect x="62" y="66" fill="#fe2c8c"/><rect x="63" y="66" fill="#fe2b8b"/><rect x="64" y="66" fill="#fe2a8a"/><rect x="65" y="66" fill="#fe2989"/><rect x="0" y="67" fill="#0098d7"/><rect x="1" y="67" fill="#0093d6"/><rect x="2" y="67" fill="#0094d6"/><rect x="3" y="67" fill="#008fd4"/><rect x="4" y="67" fill="#0089d2"/><rect x="5" y="67" fill="#008ad3"/><rect x="6" y="67" fill="#0283d0"/><rect x="7" y="67" fill="#0383d0"/><rect x="8" y="67" fill="#0481cf"/><rect x="9" y="67" fill="#0a79cb"/><rect x="10" y="67" fill="#0c75ca"/><rect x="11" y="67" fill="#146dc6"/><rect x="12" y="67" fill="#1969c5"/><rect x="13" y="67" fill="#2362c2"/><rect x="14" y="67" fill="#305abe"/><rect x="15" y="67" fill="#3e54bb"/><rect x="16" y="67" fill="#4b50b8"/><rect x="17" y="67" fill="#584cb6"/><rect x="18" y="67" fill="#6449b4"/><rect x="19" y="67" fill="#6e48b2"/><rect x="20" y="67" fill="#7847b0"/><rect x="21" y="67" fill="#8146af"/><rect x="22" y="67" fill="#8846ae"/><rect x="23" y="67" fill="#9047ad"/><rect x="24" y="67" fill="#9647ac"/><rect x="25" y="67" fill="#9d48ac"/><rect x="26" y="67" fill="#ab49ab"/><rect x="27" y="67" fill="#b148aa"/><rect x="28" y="67" fill="#be48a9"/><rect x="29" y="67" fill="#c347a9"/><rect x="30" y="67" fill="#c845a9"/><rect x="31" y="67" fill="#d245a8"/><rect x="32" y="67" fill="#d543a8"/><rect x="33" y="67" fill="#d842a8"/><rect x="34" y="67" fill="#de42a7"/><rect x="35" y="67" fill="#e040a7"/><rect x="36" y="67" fill="#e33fa7"/><rect x="37" y="67" fill="#e53da7"/><rect x="38" y="67" fill="#e93ea6"/><rect x="39" y="67" fill="#eb3ca6"/><rect x="40" y="67" fill="#ed3aa5"/><rect x="41" y="67" fill="#f13ca5"/><rect x="42" y="67" fill="#f23aa4"/><rect x="43" y="67" fill="#f338a3"/><rect x="44" y="67" fill="#f437a3"/><rect x="45" y="67" fill="#f535a2"/><rect x="46" y="67" fill="#f837a0"/><rect x="47" y="67" fill="#f8369f"/><rect x="48" y="67" fill="#f9349e"/><rect x="49" y="67" fill="#f9339e"/><rect x="50" y="67" fill="#fa319d"/><rect x="51" y="67" fill="#fc349a"/><rect x="52" y="67" fill="#fc3299"/><rect x="53" y="67" fill="#fc3198"/><rect x="54" y="67" fill="#fc3097"/><rect x="55" y="67" fill="#fc2e96"/><rect x="56" y="67" fill="#fd2d95"/><rect x="57" y="67" fill="#fe3093"/><rect x="58" y="67" fill="#fe2f92"/><rect x="59" y="67" fill="#fe2e91"/><rect x="60" y="67" fill="#fe2d90"/><rect x="61" y="67" fill="#fe2c8f"/><rect x="62" y="67" fill="#fe2b8e"/><rect x="63" y="67" fill="#fe2a8d"/><rect x="64" y="67" fill="#ff2e8a"/><rect x="65" y="67" fill="#ff2d89"/><rect x="0" y="68" fill="#0096d7"/><rect x="1" y="68" fill="#0091d5"/><rect x="2" y="68" fill="#008bd3"/><rect x="3" y="68" fill="#008dd4"/><rect x="4" y="68" fill="#0087d1"/><rect x="5" y="68" fill="#0088d2"/><rect x="6" y="68" fill="#0481cf"/><rect x="7" y="68" fill="#0480cf"/><rect x="8" y="68" fill="#0a78cb"/><rect x="9" y="68" fill="#0c76ca"/><rect x="10" y="68" fill="#146ec7"/><rect x="11" y="68" fill="#176bc6"/><rect x="12" y="68" fill="#1d66c5"/><rect x="13" y="68" fill="#275fc1"/><rect x="14" y="68" fill="#3458be"/><rect x="15" y="68" fill="#4152bb"/><rect x="16" y="68" fill="#4e4db8"/><rect x="17" y="68" fill="#5a49b6"/><rect x="18" y="68" fill="#6447b4"/><rect x="19" y="68" fill="#6e45b2"/><rect x="20" y="68" fill="#7744b0"/><rect x="21" y="68" fill="#7e44af"/><rect x="22" y="68" fill="#8645ae"/><rect x="23" y="68" fill="#8c45ae"/><rect x="24" y="68" fill="#9948ac"/><rect x="25" y="68" fill="#9f48ac"/><rect x="26" y="68" fill="#ad49ab"/><rect x="27" y="68" fill="#b348aa"/><rect x="28" y="68" fill="#b947aa"/><rect x="29" y="68" fill="#c547a9"/><rect x="30" y="68" fill="#ca46a8"/><rect x="31" y="68" fill="#ce44a8"/><rect x="32" y="68" fill="#d644a8"/><rect x="33" y="68" fill="#d842a7"/><rect x="34" y="68" fill="#db41a7"/><rect x="35" y="68" fill="#e142a7"/><rect x="36" y="68" fill="#e340a7"/><rect x="37" y="68" fill="#e53ea7"/><rect x="38" y="68" fill="#e73da7"/><rect x="39" y="68" fill="#eb3ea6"/><rect x="40" y="68" fill="#ed3ca5"/><rect x="41" y="68" fill="#ef3ba5"/><rect x="42" y="68" fill="#f039a5"/><rect x="43" y="68" fill="#f137a4"/><rect x="44" y="68" fill="#f43aa3"/><rect x="45" y="68" fill="#f538a2"/><rect x="46" y="68" fill="#f636a1"/><rect x="47" y="68" fill="#f735a1"/><rect x="48" y="68" fill="#f833a0"/><rect x="49" y="68" fill="#fa369e"/><rect x="50" y="68" fill="#fa349d"/><rect x="51" y="68" fill="#fb339c"/><rect x="52" y="68" fill="#fb329b"/><rect x="53" y="68" fill="#fb309a"/><rect x="54" y="68" fill="#fb2f99"/><rect x="55" y="68" fill="#fd3297"/><rect x="56" y="68" fill="#fd3196"/><rect x="57" y="68" fill="#fd3095"/><rect x="58" y="68" fill="#fd2f94"/><rect x="59" y="68" fill="#fd2d93"/><rect x="60" y="68" fill="#fd2c92"/><rect x="61" y="68" fill="#fd2b91"/><rect x="62" y="68" fill="#ff2f8e"/><rect x="63" y="68" fill="#ff2e8d"/><rect x="64" y="68" fill="#ff2d8d"/><rect x="65" y="68" fill="#ff2c8c"/><rect x="0" y="69" fill="#0094d6"/><rect x="1" y="69" fill="#008fd4"/><rect x="2" y="69" fill="#008ad2"/><rect x="3" y="69" fill="#008cd3"/><rect x="4" y="69" fill="#0186d1"/><rect x="5" y="69" fill="#0186d1"/><rect x="6" y="69" fill="#057fce"/><rect x="7" y="69" fill="#067dce"/><rect x="8" y="69" fill="#0c76ca"/><rect x="9" y="69" fill="#0f73c9"/><rect x="10" y="69" fill="#166cc6"/><rect x="11" y="69" fill="#1a68c5"/><rect x="12" y="69" fill="#2461c2"/><rect x="13" y="69" fill="#2c5bc0"/><rect x="14" y="69" fill="#3954bc"/><rect x="15" y="69" fill="#454eb9"/><rect x="16" y="69" fill="#514ab7"/><rect x="17" y="69" fill="#5c46b5"/><rect x="18" y="69" fill="#6544b3"/><rect x="19" y="69" fill="#6e43b2"/><rect x="20" y="69" fill="#7642b0"/><rect x="21" y="69" fill="#7d42af"/><rect x="22" y="69" fill="#8845ae"/><rect x="23" y="69" fill="#8f46ad"/><rect x="24" y="69" fill="#9c48ac"/><rect x="25" y="69" fill="#a248ac"/><rect x="26" y="69" fill="#a848ab"/><rect x="27" y="69" fill="#b648aa"/><rect x="28" y="69" fill="#bb48aa"/><rect x="29" y="69" fill="#c046a9"/><rect x="30" y="69" fill="#cb46a8"/><rect x="31" y="69" fill="#cf44a8"/><rect x="32" y="69" fill="#d243a8"/><rect x="33" y="69" fill="#d944a7"/><rect x="34" y="69" fill="#dc42a7"/><rect x="35" y="69" fill="#de40a7"/><rect x="36" y="69" fill="#e03fa7"/><rect x="37" y="69" fill="#e640a7"/><rect x="38" y="69" fill="#e83ea6"/><rect x="39" y="69" fill="#e93da6"/><rect x="40" y="69" fill="#eb3ba6"/><rect x="41" y="69" fill="#ef3da5"/><rect x="42" y="69" fill="#f03ca5"/><rect x="43" y="69" fill="#f23aa4"/><rect x="44" y="69" fill="#f338a4"/><rect x="45" y="69" fill="#f437a3"/><rect x="46" y="69" fill="#f535a2"/><rect x="47" y="69" fill="#f738a1"/><rect x="48" y="69" fill="#f836a0"/><rect x="49" y="69" fill="#f9359f"/><rect x="50" y="69" fill="#f9339e"/><rect x="51" y="69" fill="#f9329d"/><rect x="52" y="69" fill="#fa319c"/><rect x="53" y="69" fill="#fc349a"/><rect x="54" y="69" fill="#fc3399"/><rect x="55" y="69" fill="#fc3198"/><rect x="56" y="69" fill="#fc3097"/><rect x="57" y="69" fill="#fc2f97"/><rect x="58" y="69" fill="#fd2e96"/><rect x="59" y="69" fill="#fd2d95"/><rect x="60" y="69" fill="#fe3092"/><rect x="61" y="69" fill="#fe2f91"/><rect x="62" y="69" fill="#fe2e90"/><rect x="63" y="69" fill="#fe2d8f"/><rect x="64" y="69" fill="#fe2c8f"/><rect x="65" y="69" fill="#fe2c8e"/><rect x="0" y="70" fill="#008bd3"/><rect x="1" y="70" fill="#008dd4"/><rect x="2" y="70" fill="#0088d2"/><rect x="3" y="70" fill="#008ad3"/><rect x="4" y="70" fill="#0284d0"/><rect x="5" y="70" fill="#077dcd"/><rect x="6" y="70" fill="#077ccd"/><rect x="7" y="70" fill="#0d75ca"/><rect x="8" y="70" fill="#0e73c9"/><rect x="9" y="70" fill="#166cc6"/><rect x="10" y="70" fill="#1969c5"/><rect x="11" y="70" fill="#2262c2"/><rect x="12" y="70" fill="#295dc1"/><rect x="13" y="70" fill="#3557bd"/><rect x="14" y="70" fill="#3e50bb"/><rect x="15" y="70" fill="#494ab8"/><rect x="16" y="70" fill="#5446b6"/><rect x="17" y="70" fill="#5d43b4"/><rect x="18" y="70" fill="#6641b2"/><rect x="19" y="70" fill="#6e40b1"/><rect x="20" y="70" fill="#7943b0"/><rect x="21" y="70" fill="#8043af"/><rect x="22" y="70" fill="#8c46ad"/><rect x="23" y="70" fill="#9247ad"/><rect x="24" y="70" fill="#9747ad"/><rect x="25" y="70" fill="#a649ab"/><rect x="26" y="70" fill="#ab48ab"/><rect x="27" y="70" fill="#b148ab"/><rect x="28" y="70" fill="#be48a9"/><rect x="29" y="70" fill="#c347a9"/><rect x="30" y="70" fill="#c745a9"/><rect x="31" y="70" fill="#d145a8"/><rect x="32" y="70" fill="#d444a8"/><rect x="33" y="70" fill="#d742a8"/><rect x="34" y="70" fill="#d941a8"/><rect x="35" y="70" fill="#df42a7"/><rect x="36" y="70" fill="#e140a7"/><rect x="37" y="70" fill="#e33fa7"/><rect x="38" y="70" fill="#e53da7"/><rect x="39" y="70" fill="#ea3fa6"/><rect x="40" y="70" fill="#ec3ea6"/><rect x="41" y="70" fill="#ed3ca5"/><rect x="42" y="70" fill="#ee3aa5"/><rect x="43" y="70" fill="#f039a5"/><rect x="44" y="70" fill="#f33ca4"/><rect x="45" y="70" fill="#f43aa3"/><rect x="46" y="70" fill="#f538a2"/><rect x="47" y="70" fill="#f637a2"/><rect x="48" y="70" fill="#f735a1"/><rect x="49" y="70" fill="#f734a0"/><rect x="50" y="70" fill="#fa379e"/><rect x="51" y="70" fill="#fa369e"/><rect x="52" y="70" fill="#fa349d"/><rect x="53" y="70" fill="#fb339c"/><rect x="54" y="70" fill="#fb329b"/><rect x="55" y="70" fill="#fb319a"/><rect x="56" y="70" fill="#fc2f99"/><rect x="57" y="70" fill="#fd3397"/><rect x="58" y="70" fill="#fd3296"/><rect x="59" y="70" fill="#fd3195"/><rect x="60" y="70" fill="#fd3094"/><rect x="61" y="70" fill="#fe2f93"/><rect x="62" y="70" fill="#fe2e92"/><rect x="63" y="70" fill="#fe2d91"/><rect x="64" y="70" fill="#fe2c91"/><rect x="65" y="70" fill="#fe2b90"/><rect x="0" y="71" fill="#0089d2"/><rect x="1" y="71" fill="#008cd3"/><rect x="2" y="71" fill="#0087d1"/><rect x="3" y="71" fill="#0480cf"/><rect x="4" y="71" fill="#0481cf"/><rect x="5" y="71" fill="#097bcc"/><rect x="6" y="71" fill="#0979cc"/><rect x="7" y="71" fill="#0f72c9"/><rect x="8" y="71" fill="#1170c9"/><rect x="9" y="71" fill="#186ac5"/><rect x="10" y="71" fill="#1d66c5"/><rect x="11" y="71" fill="#265fc1"/><rect x="12" y="71" fill="#3159be"/><rect x="13" y="71" fill="#3953bc"/><rect x="14" y="71" fill="#454db9"/><rect x="15" y="71" fill="#4d47b6"/><rect x="16" y="71" fill="#5743b4"/><rect x="17" y="71" fill="#6243b3"/><rect x="18" y="71" fill="#6a41b2"/><rect x="19" y="71" fill="#7141b1"/><rect x="20" y="71" fill="#7d44af"/><rect x="21" y="71" fill="#8344ae"/><rect x="22" y="71" fill="#9047ad"/><rect x="23" y="71" fill="#9647ad"/><rect x="24" y="71" fill="#9b48ac"/><rect x="25" y="71" fill="#a148ac"/><rect x="26" y="71" fill="#af49ab"/><rect x="27" y="71" fill="#b448aa"/><rect x="28" y="71" fill="#b947aa"/><rect x="29" y="71" fill="#c547a9"/><rect x="30" y="71" fill="#ca46a8"/><rect x="31" y="71" fill="#ce44a8"/><rect x="32" y="71" fill="#d143a8"/><rect x="33" y="71" fill="#d844a7"/><rect x="34" y="71" fill="#da42a7"/><rect x="35" y="71" fill="#dd41a7"/><rect x="36" y="71" fill="#df3fa7"/><rect x="37" y="71" fill="#e441a7"/><rect x="38" y="71" fill="#e63fa7"/><rect x="39" y="71" fill="#e83ea6"/><rect x="40" y="71" fill="#ea3ca6"/><rect x="41" y="71" fill="#eb3ba6"/><rect x="42" y="71" fill="#ef3da5"/><rect x="43" y="71" fill="#f03ca5"/><rect x="44" y="71" fill="#f13aa4"/><rect x="45" y="71" fill="#f339a4"/><rect x="46" y="71" fill="#f337a3"/><rect x="47" y="71" fill="#f436a2"/><rect x="48" y="71" fill="#f739a1"/><rect x="49" y="71" fill="#f838a0"/><rect x="50" y="71" fill="#f8369f"/><rect x="51" y="71" fill="#f9359f"/><rect x="52" y="71" fill="#f9349e"/><rect x="53" y="71" fill="#fa329d"/><rect x="54" y="71" fill="#fa319c"/><rect x="55" y="71" fill="#fc359a"/><rect x="56" y="71" fill="#fc3499"/><rect x="57" y="71" fill="#fc3298"/><rect x="58" y="71" fill="#fd3197"/><rect x="59" y="71" fill="#fd3096"/><rect x="60" y="71" fill="#fd2f96"/><rect x="61" y="71" fill="#fd2e95"/><rect x="62" y="71" fill="#fd2d94"/><rect x="63" y="71" fill="#fd2c93"/><rect x="64" y="71" fill="#fe3090"/><rect x="65" y="71" fill="#fe2f90"/><rect x="0" y="72" fill="#0088d2"/><rect x="1" y="72" fill="#0382cf"/><rect x="2" y="72" fill="#0185d1"/><rect x="3" y="72" fill="#067fce"/><rect x="4" y="72" fill="#057fce"/><rect x="5" y="72" fill="#0a78cb"/><rect x="6" y="72" fill="#1171c8"/><rect x="7" y="72" fill="#1170c8"/><rect x="8" y="72" fill="#1869c5"/><rect x="9" y="72" fill="#1b67c5"/><rect x="10" y="72" fill="#2461c2"/><rect x="11" y="72" fill="#2b5cc0"/><rect x="12" y="72" fill="#3655bd"/><rect x="13" y="72" fill="#4150ba"/><rect x="14" y="72" fill="#4949b8"/><rect x="15" y="72" fill="#5345b5"/><rect x="16" y="72" fill="#5b42b4"/><rect x="17" y="72" fill="#6340b3"/><rect x="18" y="72" fill="#6e42b1"/><rect x="19" y="72" fill="#7542b0"/><rect x="20" y="72" fill="#8145af"/><rect x="21" y="72" fill="#8745ae"/><rect x="22" y="72" fill="#8d46ad"/><rect x="23" y="72" fill="#9a48ac"/><rect x="24" y="72" fill="#a048ac"/><rect x="25" y="72" fill="#a548ab"/><rect x="26" y="72" fill="#ab48ab"/><rect x="27" y="72" fill="#b849aa"/><rect x="28" y="72" fill="#bd48a9"/><rect x="29" y="72" fill="#c147a9"/><rect x="30" y="72" fill="#c645a9"/><rect x="31" y="72" fill="#d045a8"/><rect x="32" y="72" fill="#d344a8"/><rect x="33" y="72" fill="#d543a8"/><rect x="34" y="72" fill="#d841a8"/><rect x="35" y="72" fill="#de43a7"/><rect x="36" y="72" fill="#e041a7"/><rect x="37" y="72" fill="#e240a7"/><rect x="38" y="72" fill="#e43ea7"/><rect x="39" y="72" fill="#e63da7"/><rect x="40" y="72" fill="#ea3fa6"/><rect x="41" y="72" fill="#ec3ea6"/><rect x="42" y="72" fill="#ed3ca5"/><rect x="43" y="72" fill="#ef3ba5"/><rect x="44" y="72" fill="#f039a5"/><rect x="45" y="72" fill="#f138a4"/><rect x="46" y="72" fill="#f43ba3"/><rect x="47" y="72" fill="#f53aa2"/><rect x="48" y="72" fill="#f638a2"/><rect x="49" y="72" fill="#f737a1"/><rect x="50" y="72" fill="#f735a0"/><rect x="51" y="72" fill="#f834a0"/><rect x="52" y="72" fill="#f8339f"/><rect x="53" y="72" fill="#fa379d"/><rect x="54" y="72" fill="#fb359c"/><rect x="55" y="72" fill="#fb349b"/><rect x="56" y="72" fill="#fb339b"/><rect x="57" y="72" fill="#fc329a"/><rect x="58" y="72" fill="#fc3199"/><rect x="59" y="72" fill="#fc2f98"/><rect x="60" y="72" fill="#fc2e97"/><rect x="61" y="72" fill="#fe3395"/><rect x="62" y="72" fill="#fe3294"/><rect x="63" y="72" fill="#fe3193"/><rect x="64" y="72" fill="#fe3092"/><rect x="65" y="72" fill="#fe2f91"/><rect x="0" y="73" fill="#0086d1"/><rect x="1" y="73" fill="#0481cf"/><rect x="2" y="73" fill="#0383d0"/><rect x="3" y="73" fill="#077ccd"/><rect x="4" y="73" fill="#0d76ca"/><rect x="5" y="73" fill="#0c75ca"/><rect x="6" y="73" fill="#126fc7"/><rect x="7" y="73" fill="#146dc7"/><rect x="8" y="73" fill="#1b67c5"/><rect x="9" y="73" fill="#2461c2"/><rect x="10" y="73" fill="#295ec1"/><rect x="11" y="73" fill="#3358be"/><rect x="12" y="73" fill="#3a52bc"/><rect x="13" y="73" fill="#454cb9"/><rect x="14" y="73" fill="#4f48b7"/><rect x="15" y="73" fill="#5844b5"/><rect x="16" y="73" fill="#6042b3"/><rect x="17" y="73" fill="#6841b2"/><rect x="18" y="73" fill="#7343b1"/><rect x="19" y="73" fill="#7943b0"/><rect x="20" y="73" fill="#7f43af"/><rect x="21" y="73" fill="#8c46ad"/><rect x="22" y="73" fill="#9147ad"/><rect x="23" y="73" fill="#9647ad"/><rect x="24" y="73" fill="#9c47ac"/><rect x="25" y="73" fill="#aa49ab"/><rect x="26" y="73" fill="#af48ab"/><rect x="27" y="73" fill="#b448aa"/><rect x="28" y="73" fill="#c148a9"/><rect x="29" y="73" fill="#c547a9"/><rect x="30" y="73" fill="#c946a8"/><rect x="31" y="73" fill="#cd45a8"/><rect x="32" y="73" fill="#d043a8"/><rect x="33" y="73" fill="#d744a7"/><rect x="34" y="73" fill="#da43a7"/><rect x="35" y="73" fill="#dc42a7"/><rect x="36" y="73" fill="#de40a7"/><rect x="37" y="73" fill="#e03fa7"/><rect x="38" y="73" fill="#e541a7"/><rect x="39" y="73" fill="#e73fa7"/><rect x="40" y="73" fill="#e93ea6"/><rect x="41" y="73" fill="#ea3da6"/><rect x="42" y="73" fill="#eb3ba6"/><rect x="43" y="73" fill="#ed3aa6"/><rect x="44" y="73" fill="#f13da5"/><rect x="45" y="73" fill="#f23ba4"/><rect x="46" y="73" fill="#f33aa4"/><rect x="47" y="73" fill="#f439a3"/><rect x="48" y="73" fill="#f437a3"/><rect x="49" y="73" fill="#f536a2"/><rect x="50" y="73" fill="#f634a1"/><rect x="51" y="73" fill="#f938a0"/><rect x="52" y="73" fill="#f9379f"/><rect x="53" y="73" fill="#fa369e"/><rect x="54" y="73" fill="#fa359d"/><rect x="55" y="73" fill="#fa339d"/><rect x="56" y="73" fill="#fb329c"/><rect x="57" y="73" fill="#fb319b"/><rect x="58" y="73" fill="#fb309a"/><rect x="59" y="73" fill="#fd3498"/><rect x="60" y="73" fill="#fd3397"/><rect x="61" y="73" fill="#fd3296"/><rect x="62" y="73" fill="#fd3195"/><rect x="63" y="73" fill="#fd3094"/><rect x="64" y="73" fill="#fd2f94"/><rect x="65" y="73" fill="#fd2e93"/></g></g></g>
<path d="M298.9,1661.8C298.9,1661.8 298.9,1661.8 298.9,1661.8C298.8,1661.8 298.7,1661.9 298.7,1661.9C298.6,1661.9 298.6,1661.9 298.5,1661.9C298.4,1661.9 298.3,1661.9 298.3,1662C298.2,1662 298.1,1662 298,1662C297.9,1662 297.8,1662 297.7,1662C297.5,1662 297.4,1662 297.3,1662C297.1,1661.9 296.9,1661.8 296.7,1661.7C296.4,1661.6 296.1,1661.4 295.7,1661.1C295.4,1660.9 295,1660.6 294.6,1660.2C294.1,1659.8 293.5,1659.3 292.9,1658.8C292.2,1658.2 291.6,1657.6 290.8,1656.8C289.9,1656.1 289.1,1655.3 288,1654.4C286.9,1653.4 285.6,1652.3 284.2,1651.1C282.7,1649.8 281.2,1648.6 279.4,1646.9C277.7,1645.2 275.7,1643.4 273.5,1641C271.4,1638.6 269.2,1636.3 266.4,1632.4C263.6,1628.5 260.4,1623.9 256.7,1617.3C253.1,1610.8 249.1,1603.4 244.5,1592.9C239.9,1582.4 234.8,1570.3 229.1,1554.3C223.3,1538.3 216.4,1519.8 210,1497C203.5,1474.2 196.7,1447.4 190.3,1417.6C184,1387.9 177.1,1352.7 171.8,1318.5C166.6,1284.3 161.7,1246.6 158.9,1212.7C156.2,1178.7 154.5,1144.4 155.3,1114.7C156.1,1084.9 158.8,1056.4 163.7,1034.3C168.7,1012.3 176.3,994 184.8,982.3C193.3,970.6 204.1,965.9 214.7,963.9C225.3,961.9 237.1,966.4 248.4,970.3C259.7,974.3 271.5,981.2 282.6,987.4C293.6,993.7 304.3,1000.7 314.8,1007.9C325.3,1015.1 335.5,1022.8 345.8,1030.9C356,1038.9 366.2,1047.4 376.3,1056.1C386.5,1064.8 396.5,1073.9 406.6,1083.1C416.6,1092.3 426.6,1101.7 436.7,1111.2C446.7,1120.7 456.9,1130.4 466.9,1140.2C476.9,1149.9 487,1159.8 496.9,1169.6C506.9,1179.4 517,1189.2 526.8,1198.9C536.7,1208.7 546.5,1218.4 556.1,1228C565.7,1237.5 575.3,1247 584.5,1256.3C593.8,1265.5 603,1274.6 611.8,1283.4C620.6,1292.2 629.3,1300.7 637.5,1308.8C645.6,1316.9 653.6,1324.9 660.8,1332.1C668.1,1339.4 674.8,1346 681.2,1352.4C687.6,1358.7 693.6,1364.7 699.1,1370.1C704.5,1375.5 709.4,1380.3 713.9,1384.8C718.4,1389.2 722.4,1393.2 726,1396.8C729.6,1400.4 732.7,1403.5 735.6,1406.4C738.5,1409.3 741,1411.7 743.3,1414C745.6,1416.3 747.6,1418.3 749.5,1420.1C751.4,1422 753.1,1423.7 754.6,1425.3C756.2,1426.8 757.6,1428.2 758.8,1429.5C760.1,1430.7 761.2,1431.8 762.2,1432.8C763.2,1433.7 764,1434.5 764.7,1435.3C765.5,1436 766.1,1436.7 766.7,1437.2C767.2,1437.8 767.7,1438.3 768.1,1438.7C768.5,1439.1 768.8,1439.3 769,1439.6C769.3,1439.9 769.6,1440.1 769.8,1440.3C770,1440.6 770.2,1440.7 770.4,1440.9C770.6,1441.1 770.8,1441.3 771,1441.5C771.2,1441.7 771.4,1441.9 771.5,1442C771.6,1442.2 771.7,1442.3 771.8,1442.4C771.9,1442.4 772,1442.5 772,1442.5C772,1442.6 772.1,1442.6 772.1,1442.6" fill="none" stroke="#000" stroke-width="2.9" stroke-linejoin="round"/>
<path d="M290.8,1656.8L286.4,1661.7M288,1654.4L283.7,1659.3M284.2,1651.1L279.9,1656M279.4,1646.9L275,1651.6M273.5,1641L264.6,1649M266.4,1632.4L261.1,1636.2M256.7,1617.3L251.1,1620.5M244.5,1592.9L238.6,1595.5M229.1,1554.3L217.8,1558.3M210,1497L203.7,1498.8M190.3,1417.6L184,1419M171.8,1318.5L165.4,1319.5M158.9,1212.7L147,1213.6M155.3,1114.7L148.8,1114.5M163.7,1034.3L157.4,1032.9M184.8,982.3L179.6,978.5M214.7,963.9L212.5,952.1M248.4,970.3L250.5,964.2M282.6,987.4L285.8,981.8M314.8,1007.9L318.5,1002.5M345.8,1030.9L353.2,1021.4M376.3,1056.1L380.6,1051.2M406.6,1083.1L410.9,1078.3M436.7,1111.2L441.1,1106.5M466.9,1140.2L475.2,1131.6M496.9,1169.6L501.5,1164.9M526.8,1198.9L531.4,1194.3M556.1,1228L560.7,1223.4M584.5,1256.3L593,1247.8M611.8,1283.4L616.4,1278.8M637.5,1308.8L642.1,1304.2M660.8,1332.1L665.4,1327.5M681.2,1352.4L689.6,1343.8M699.1,1370.1L703.7,1365.5M713.9,1384.8L718.5,1380.2M726,1396.8L730.6,1392.2M735.6,1406.4L744.1,1397.9M743.3,1414L747.9,1409.4M749.5,1420.1L754.1,1415.5M754.6,1425.3L759.2,1420.7M758.8,1429.5L763.4,1424.9M762.2,1432.8L766.8,1428.1M764.7,1435.3L769.3,1430.7M766.7,1437.2L771.3,1432.6M768.1,1438.7L772.7,1434.1M769,1439.6L773.6,1435M769.8,1440.3L774.4,1435.7M770.4,1440.9L775,1436.3M771,1441.5L775.6,1436.9M771.5,1442L776.1,1437.4M771.8,1442.4L776.4,1437.8M772,1442.5L776.6,1437.9M772.1,1442.6L776.7,1438" stroke="#222" stroke-width="2.2" fill="none"/>
<text x="210" y="1663" font-family="'Liberation Serif', 'Times New Roman', serif" font-size="31" fill="#4b56a8">460</text>
<text x="160.5" y="1572" font-family="'Liberation Serif', 'Times New Roman', serif" font-size="31" fill="#4b56a8">480</text>
<text x="89" y="1227.5" font-family="'Liberation Serif', 'Times New Roman', serif" font-size="31" fill="#4b56a8">500</text>
<text x="186.5" y="946.5" font-family="'Liberation Serif', 'Times New Roman', serif" font-size="31" fill="#4b56a8">520</text>
<text x="357" y="1017" font-family="'Liberation Serif', 'Times New Roman', serif" font-size="31" fill="#4b56a8">540</text>
<text x="480" y="1128" font-family="'Liberation Serif', 'Times New Roman', serif" font-size="31" fill="#4b56a8">560</text>
<text x="598" y="1246" font-family="'Liberation Serif', 'Times New Roman', serif" font-size="31" fill="#4b56a8">580</text>
<text x="693.5" y="1341" font-family="'Liberation Serif', 'Times New Roman', serif" font-size="31" fill="#4b56a8">600</text>
<text x="746.5" y="1394.5" font-family="'Liberation Serif', 'Times New Roman', serif" font-size="31" fill="#4b56a8">620</text>
<path d="M152,907.2V1666H828.7" fill="none" stroke="#000" stroke-width="3.6"/>
<path d="M152,1666V1675M194.2,1666V1675M236.4,1666V1675M278.6,1666V1675M320.8,1666V1675M363,1666V1675M405.2,1666V1675M447.4,1666V1675M489.6,1666V1675M531.8,1666V1675M574,1666V1675M616.2,1666V1675M658.4,1666V1675M700.6,1666V1675M742.8,1666V1675M785,1666V1675M827.2,1666V1675M152,1666H144M152,1623.9H144M152,1581.8H144M152,1539.7H144M152,1497.6H144M152,1455.5H144M152,1413.4H144M152,1371.3H144M152,1329.2H144M152,1287.1H144M152,1245H144M152,1202.9H144M152,1160.8H144M152,1118.7H144M152,1076.6H144M152,1034.5H144M152,992.4H144M152,950.3H144M152,908.2H144" stroke="#000" stroke-width="3.4" fill="none"/>
<text x="152" y="1699.5" font-family="'Liberation Serif', 'Times New Roman', serif" font-size="31.5" text-anchor="middle">0.0</text>
<text x="236.4" y="1699.5" font-family="'Liberation Serif', 'Times New Roman', serif" font-size="31.5" text-anchor="middle">0.1</text>
<text x="320.8" y="1699.5" font-family="'Liberation Serif', 'Times New Roman', serif" font-size="31.5" text-anchor="middle">0.2</text>
<text x="405.2" y="1699.5" font-family="'Liberation Serif', 'Times New Roman', serif" font-size="31.5" text-anchor="middle">0.3</text>
<text x="489.6" y="1699.5" font-family="'Liberation Serif', 'Times New Roman', serif" font-size="31.5" text-anchor="middle">0.4</text>
<text x="574" y="1699.5" font-family="'Liberation Serif', 'Times New Roman', serif" font-size="31.5" text-anchor="middle">0.5</text>
<text x="658.4" y="1699.5" font-family="'Liberation Serif', 'Times New Roman', serif" font-size="31.5" text-anchor="middle">0.6</text>
<text x="742.8" y="1699.5" font-family="'Liberation Serif', 'Times New Roman', serif" font-size="31.5" text-anchor="middle">0.7</text>
<text x="827.2" y="1699.5" font-family="'Liberation Serif', 'Times New Roman', serif" font-size="31.5" text-anchor="middle">0.8</text>
<text x="135.5" y="1679.3" font-family="'Liberation Serif', 'Times New Roman', serif" font-size="31.5" text-anchor="end">0.0</text>
<text x="135.5" y="1595.1" font-family="'Liberation Serif', 'Times New Roman', serif" font-size="31.5" text-anchor="end">0.1</text>
<text x="135.5" y="1510.9" font-family="'Liberation Serif', 'Times New Roman', serif" font-size="31.5" text-anchor="end">0.2</text>
<text x="135.5" y="1426.7" font-family="'Liberation Serif', 'Times New Roman', serif" font-size="31.5" text-anchor="end">0.3</text>
<text x="135.5" y="1342.5" font-family="'Liberation Serif', 'Times New Roman', serif" font-size="31.5" text-anchor="end">0.4</text>
<text x="135.5" y="1258.3" font-family="'Liberation Serif', 'Times New Roman', serif" font-size="31.5" text-anchor="end">0.5</text>
<text x="135.5" y="1174.1" font-family="'Liberation Serif', 'Times New Roman', serif" font-size="31.5" text-anchor="end">0.6</text>
<text x="135.5" y="1089.9" font-family="'Liberation Serif', 'Times New Roman', serif" font-size="31.5" text-anchor="end">0.7</text>
<text x="135.5" y="1005.7" font-family="'Liberation Serif', 'Times New Roman', serif" font-size="31.5" text-anchor="end">0.8</text>
<text x="135.5" y="921.5" font-family="'Liberation Serif', 'Times New Roman', serif" font-size="31.5" text-anchor="end">0.9</text>
<text x="482" y="1733" font-family="'Liberation Serif', 'Times New Roman', serif" font-size="32" font-style="italic">x</text>
<text x="73" y="1297" font-family="'Liberation Serif', 'Times New Roman', serif" font-size="32" font-style="italic">y</text>
<defs><filter id="dsh" x="-50%" y="-50%" width="200%" height="200%"><feGaussianBlur stdDeviation="1.8"/></filter></defs>
<circle cx="303.7" cy="1613.5" r="7.5" fill="#111" opacity="0.85" filter="url(#dsh)"/><circle cx="299.7" cy="1609.5" r="7.5" fill="#ff2a22"/>
<circle cx="285.2" cy="1626.5" r="6.5" fill="#111" opacity="0.85" filter="url(#dsh)"/><circle cx="281.2" cy="1622.5" r="6.5" fill="#ff9a1a"/>
<circle cx="293.4" cy="1620.3" r="6.5" fill="#111" opacity="0.85" filter="url(#dsh)"/><circle cx="289.4" cy="1616.3" r="6.5" fill="#d8e41a"/>
<circle cx="293.4" cy="1631.3" r="6.5" fill="#111" opacity="0.85" filter="url(#dsh)"/><circle cx="289.4" cy="1627.3" r="6.5" fill="#1ab83a"/>
<circle cx="522.5" cy="925" r="6" fill="#111" opacity="0.85" filter="url(#dsh)"/><circle cx="518.5" cy="921" r="6" fill="#12b43c"/>
<text x="543" y="936.7" font-family="'Liberation Sans', Arial, Helvetica, sans-serif" font-size="36.5" font-weight="bold">6 V (0.154, 0.0489)</text>
<circle cx="522.5" cy="975.5" r="6" fill="#111" opacity="0.85" filter="url(#dsh)"/><circle cx="518.5" cy="971.5" r="6" fill="#ff8c1a"/>
<text x="543" y="988" font-family="'Liberation Sans', Arial, Helvetica, sans-serif" font-size="36.5" font-weight="bold">7 V (0.151, 0.0519)</text>
<circle cx="522.5" cy="1029.5" r="7" fill="#111" opacity="0.85" filter="url(#dsh)"/><circle cx="518.5" cy="1025.5" r="7" fill="#d6e01c"/>
<text x="543" y="1040.2" font-family="'Liberation Sans', Arial, Helvetica, sans-serif" font-size="36.5" font-weight="bold">8 V (0.155, 0.0561)</text>
<circle cx="522.5" cy="1082.6" r="8" fill="#111" opacity="0.85" filter="url(#dsh)"/><circle cx="518.5" cy="1078.6" r="8" fill="#ff2020"/>
<text x="543" y="1093.3" font-family="'Liberation Sans', Arial, Helvetica, sans-serif" font-size="36.5" font-weight="bold">9 V (0.169, 0.0679)</text>
<text x="999" y="935" font-family="'Liberation Sans', Arial, Helvetica, sans-serif" font-size="56" font-weight="bold">(d)</text>
<path d="M1174,1644.8V933.2H2142.5" fill="none" stroke="#000" stroke-width="4.8"/>
<line x1="1171.5" y1="1645" x2="2144.5" y2="1645" stroke="#000" stroke-width="4.6"/>
<line x1="2142.5" y1="931" x2="2142.5" y2="1647.3" stroke="#3246b4" stroke-width="5.2"/>
<defs><clipPath id="cpd"><rect x="1174" y="933" width="968.5" height="713.5"/></clipPath></defs>
<g clip-path="url(#cpd)">
<path d="M1174.2,1644.8C1182.3,1644.8 1206.4,1644.8 1222.5,1644.8C1238.6,1644.8 1254.7,1644.8 1270.9,1644.8C1287,1644.8 1303.1,1645 1319.2,1644.8C1335.3,1644.6 1351.4,1645.1 1367.5,1643.8C1383.6,1642.4 1399.7,1640.3 1415.8,1636.7C1431.9,1633 1448,1629.7 1464.2,1622C1480.3,1614.4 1496.4,1604.7 1512.5,1590.9C1528.6,1577.1 1544.7,1559.1 1560.8,1539.1C1576.9,1519.1 1593,1495.6 1609.1,1471C1625.2,1446.3 1641.3,1418.4 1657.5,1391.2C1673.6,1363.9 1689.7,1334.1 1705.8,1307.3C1721.9,1280.4 1738,1253.4 1754.1,1230C1770.2,1206.6 1786.3,1183.9 1802.4,1167C1818.5,1150.1 1834.6,1142.6 1850.8,1128.4C1866.9,1114.1 1883,1096.6 1899.1,1081.6C1915.2,1066.6 1931.3,1049.8 1947.4,1038.4C1963.5,1027 1979.6,1019.3 1995.7,1013.1C2011.8,1006.9 2027.9,999.3 2044.1,1001.4C2060.2,1003.5 2076.3,1010.1 2092.4,1025.8C2108.5,1041.5 2132.6,1083.9 2140.7,1095.5" fill="none" stroke="#000" stroke-width="7" stroke-linejoin="round"/>
<path d="M1174.2,1643.8C1182.3,1643.8 1206.4,1643.8 1222.5,1643.8C1238.6,1643.8 1254.7,1643.8 1270.9,1643.8C1287,1643.8 1303.1,1643.8 1319.2,1643.8C1335.3,1643.8 1351.4,1643.8 1367.5,1643.8C1383.6,1643.8 1399.7,1646.9 1415.8,1643.8C1431.9,1640.7 1448,1646.6 1464.2,1625.4C1480.3,1604.1 1496.4,1563.4 1512.5,1516.5C1528.6,1469.6 1544.7,1407.2 1560.8,1344.1C1576.9,1281.1 1593,1191.6 1609.1,1138.1C1625.2,1084.5 1645,1045.6 1657.5,1022.7C1669.9,999.8 1675.5,999.6 1683.5,1000.7C1691.6,1001.8 1694,999.8 1705.8,1029.2C1717.5,1058.6 1738,1130.9 1754.1,1176.9C1770.2,1223 1786.3,1269 1802.4,1305.2C1818.5,1341.5 1834.6,1370 1850.8,1394.7C1866.9,1419.3 1883,1440.2 1899.1,1453C1915.2,1465.7 1931.3,1458.4 1947.4,1471.1C1963.5,1483.9 1979.6,1517.8 1995.7,1529.5C2011.8,1541.1 2027.9,1534.6 2044.1,1541.1C2060.2,1547.6 2076.3,1559.9 2092.4,1568.3C2108.5,1576.8 2132.6,1587.8 2140.7,1591.7" fill="none" stroke="#3246b4" stroke-width="6.5" stroke-linejoin="round"/>
<polygon points="1174.2,1636.3 1182.7,1644.8 1174.2,1653.3 1165.7,1644.8" fill="#fff" stroke="#000" stroke-width="2.6"/>
<polygon points="1222.5,1636.3 1231,1644.8 1222.5,1653.3 1214,1644.8" fill="#fff" stroke="#000" stroke-width="2.6"/>
<polygon points="1270.9,1636.3 1279.4,1644.8 1270.9,1653.3 1262.4,1644.8" fill="#fff" stroke="#000" stroke-width="2.6"/>
<polygon points="1319.2,1636.3 1327.7,1644.8 1319.2,1653.3 1310.7,1644.8" fill="#fff" stroke="#000" stroke-width="2.6"/>
<polygon points="1367.5,1635.3 1376,1643.8 1367.5,1652.3 1359,1643.8" fill="#fff" stroke="#000" stroke-width="2.6"/>
<polygon points="1415.8,1628.2 1424.3,1636.7 1415.8,1645.2 1407.3,1636.7" fill="#fff" stroke="#000" stroke-width="2.6"/>
<polygon points="1464.2,1613.5 1472.7,1622 1464.2,1630.5 1455.7,1622" fill="#fff" stroke="#000" stroke-width="2.6"/>
<polygon points="1512.5,1582.4 1521,1590.9 1512.5,1599.4 1504,1590.9" fill="#fff" stroke="#000" stroke-width="2.6"/>
<polygon points="1560.8,1530.6 1569.3,1539.1 1560.8,1547.6 1552.3,1539.1" fill="#fff" stroke="#000" stroke-width="2.6"/>
<polygon points="1609.1,1462.5 1617.6,1471 1609.1,1479.5 1600.6,1471" fill="#fff" stroke="#000" stroke-width="2.6"/>
<polygon points="1657.5,1382.7 1666,1391.2 1657.5,1399.7 1649,1391.2" fill="#fff" stroke="#000" stroke-width="2.6"/>
<polygon points="1705.8,1298.8 1714.3,1307.3 1705.8,1315.8 1697.3,1307.3" fill="#fff" stroke="#000" stroke-width="2.6"/>
<polygon points="1754.1,1221.5 1762.6,1230 1754.1,1238.5 1745.6,1230" fill="#fff" stroke="#000" stroke-width="2.6"/>
<polygon points="1802.4,1158.5 1810.9,1167 1802.4,1175.5 1793.9,1167" fill="#fff" stroke="#000" stroke-width="2.6"/>
<polygon points="1850.8,1119.9 1859.2,1128.4 1850.8,1136.9 1842.2,1128.4" fill="#fff" stroke="#000" stroke-width="2.6"/>
<polygon points="1899.1,1073.1 1907.6,1081.6 1899.1,1090.1 1890.6,1081.6" fill="#fff" stroke="#000" stroke-width="2.6"/>
<polygon points="1947.4,1029.9 1955.9,1038.4 1947.4,1046.9 1938.9,1038.4" fill="#fff" stroke="#000" stroke-width="2.6"/>
<polygon points="1995.7,1004.6 2004.2,1013.1 1995.7,1021.6 1987.2,1013.1" fill="#fff" stroke="#000" stroke-width="2.6"/>
<polygon points="2044.1,992.9 2052.6,1001.4 2044.1,1009.9 2035.6,1001.4" fill="#fff" stroke="#000" stroke-width="2.6"/>
<polygon points="2092.4,1017.3 2100.9,1025.8 2092.4,1034.3 2083.9,1025.8" fill="#fff" stroke="#000" stroke-width="2.6"/>
<polygon points="2140.7,1087 2149.2,1095.5 2140.7,1104 2132.2,1095.5" fill="#fff" stroke="#000" stroke-width="2.6"/>
<circle cx="1174.2" cy="1644.8" r="7.6" fill="#fff" stroke="#6b6fae" stroke-width="2.2"/>
<circle cx="1222.5" cy="1644.8" r="7.6" fill="#fff" stroke="#6b6fae" stroke-width="2.2"/>
<circle cx="1270.9" cy="1644.8" r="7.6" fill="#fff" stroke="#6b6fae" stroke-width="2.2"/>
<circle cx="1319.2" cy="1644.8" r="7.6" fill="#fff" stroke="#6b6fae" stroke-width="2.2"/>
<circle cx="1367.5" cy="1644.8" r="7.6" fill="#fff" stroke="#6b6fae" stroke-width="2.2"/>
<circle cx="1415.8" cy="1644.8" r="7.6" fill="#fff" stroke="#6b6fae" stroke-width="2.2"/>
<circle cx="1464.2" cy="1625.4" r="7.6" fill="#fff" stroke="#6b6fae" stroke-width="2.2"/>
<circle cx="1512.5" cy="1516.5" r="7.6" fill="#fff" stroke="#6b6fae" stroke-width="2.2"/>
<circle cx="1560.8" cy="1344.1" r="7.6" fill="#fff" stroke="#6b6fae" stroke-width="2.2"/>
<circle cx="1609.1" cy="1138.1" r="7.6" fill="#fff" stroke="#6b6fae" stroke-width="2.2"/>
<circle cx="1657.5" cy="1022.7" r="7.6" fill="#fff" stroke="#6b6fae" stroke-width="2.2"/>
<circle cx="1705.8" cy="1029.2" r="7.6" fill="#fff" stroke="#6b6fae" stroke-width="2.2"/>
<circle cx="1754.1" cy="1176.9" r="7.6" fill="#fff" stroke="#6b6fae" stroke-width="2.2"/>
<circle cx="1802.4" cy="1305.2" r="7.6" fill="#fff" stroke="#6b6fae" stroke-width="2.2"/>
<circle cx="1850.8" cy="1394.7" r="7.6" fill="#fff" stroke="#6b6fae" stroke-width="2.2"/>
<circle cx="1899.1" cy="1453" r="7.6" fill="#fff" stroke="#6b6fae" stroke-width="2.2"/>
<circle cx="1947.4" cy="1471.1" r="7.6" fill="#fff" stroke="#6b6fae" stroke-width="2.2"/>
<circle cx="1995.7" cy="1529.5" r="7.6" fill="#fff" stroke="#6b6fae" stroke-width="2.2"/>
<circle cx="2044.1" cy="1541.1" r="7.6" fill="#fff" stroke="#6b6fae" stroke-width="2.2"/>
<circle cx="2092.4" cy="1568.3" r="7.6" fill="#fff" stroke="#6b6fae" stroke-width="2.2"/>
<circle cx="2140.7" cy="1591.7" r="7.6" fill="#fff" stroke="#6b6fae" stroke-width="2.2"/>
</g>
<line x1="2142.5" y1="931" x2="2142.5" y2="1647.3" stroke="#3246b4" stroke-width="5.2"/>
<line x1="1158.5" y1="1644.8" x2="1173" y2="1644.8" stroke="#000" stroke-width="4.2"/>
<text transform="translate(1147,1658.3) scale(0.935,1)" font-family="'Liberation Sans', Arial, Helvetica, sans-serif" font-size="46.5" text-anchor="end">0</text>
<line x1="1158.5" y1="1543.1" x2="1173" y2="1543.1" stroke="#000" stroke-width="4.2"/>
<text transform="translate(1147,1556.6) scale(0.935,1)" font-family="'Liberation Sans', Arial, Helvetica, sans-serif" font-size="46.5" text-anchor="end">100</text>
<line x1="1158.5" y1="1441.5" x2="1173" y2="1441.5" stroke="#000" stroke-width="4.2"/>
<text transform="translate(1147,1455) scale(0.935,1)" font-family="'Liberation Sans', Arial, Helvetica, sans-serif" font-size="46.5" text-anchor="end">200</text>
<line x1="1158.5" y1="1339.8" x2="1173" y2="1339.8" stroke="#000" stroke-width="4.2"/>
<text transform="translate(1147,1353.3) scale(0.935,1)" font-family="'Liberation Sans', Arial, Helvetica, sans-serif" font-size="46.5" text-anchor="end">300</text>
<line x1="1158.5" y1="1238.2" x2="1173" y2="1238.2" stroke="#000" stroke-width="4.2"/>
<text transform="translate(1147,1251.7) scale(0.935,1)" font-family="'Liberation Sans', Arial, Helvetica, sans-serif" font-size="46.5" text-anchor="end">400</text>
<line x1="1158.5" y1="1136.5" x2="1173" y2="1136.5" stroke="#000" stroke-width="4.2"/>
<text transform="translate(1147,1150) scale(0.935,1)" font-family="'Liberation Sans', Arial, Helvetica, sans-serif" font-size="46.5" text-anchor="end">500</text>
<line x1="1158.5" y1="1034.8" x2="1173" y2="1034.8" stroke="#000" stroke-width="4.2"/>
<text transform="translate(1147,1048.3) scale(0.935,1)" font-family="'Liberation Sans', Arial, Helvetica, sans-serif" font-size="46.5" text-anchor="end">600</text>
<line x1="1158.5" y1="933.2" x2="1173" y2="933.2" stroke="#000" stroke-width="4.2"/>
<text transform="translate(1147,946.7) scale(0.935,1)" font-family="'Liberation Sans', Arial, Helvetica, sans-serif" font-size="46.5" text-anchor="end">700</text>
<line x1="1165" y1="1594" x2="1173" y2="1594" stroke="#000" stroke-width="4.2"/>
<line x1="1165" y1="1492.3" x2="1173" y2="1492.3" stroke="#000" stroke-width="4.2"/>
<line x1="1165" y1="1390.7" x2="1173" y2="1390.7" stroke="#000" stroke-width="4.2"/>
<line x1="1165" y1="1289" x2="1173" y2="1289" stroke="#000" stroke-width="4.2"/>
<line x1="1165" y1="1187.3" x2="1173" y2="1187.3" stroke="#000" stroke-width="4.2"/>
<line x1="1165" y1="1085.7" x2="1173" y2="1085.7" stroke="#000" stroke-width="4.2"/>
<line x1="1165" y1="984" x2="1173" y2="984" stroke="#000" stroke-width="4.2"/>
<line x1="1174.2" y1="1643" x2="1174.2" y2="1660" stroke="#000" stroke-width="4.2"/>
<text transform="translate(1174.2,1704) scale(0.935,1)" font-family="'Liberation Sans', Arial, Helvetica, sans-serif" font-size="46.5" text-anchor="middle">2</text>
<line x1="1270.9" y1="1643" x2="1270.9" y2="1660" stroke="#000" stroke-width="4.2"/>
<text transform="translate(1270.9,1704) scale(0.935,1)" font-family="'Liberation Sans', Arial, Helvetica, sans-serif" font-size="46.5" text-anchor="middle">3</text>
<line x1="1367.5" y1="1643" x2="1367.5" y2="1660" stroke="#000" stroke-width="4.2"/>
<text transform="translate(1367.5,1704) scale(0.935,1)" font-family="'Liberation Sans', Arial, Helvetica, sans-serif" font-size="46.5" text-anchor="middle">4</text>
<line x1="1464.2" y1="1643" x2="1464.2" y2="1660" stroke="#000" stroke-width="4.2"/>
<text transform="translate(1464.2,1704) scale(0.935,1)" font-family="'Liberation Sans', Arial, Helvetica, sans-serif" font-size="46.5" text-anchor="middle">5</text>
<line x1="1560.8" y1="1643" x2="1560.8" y2="1660" stroke="#000" stroke-width="4.2"/>
<text transform="translate(1560.8,1704) scale(0.935,1)" font-family="'Liberation Sans', Arial, Helvetica, sans-serif" font-size="46.5" text-anchor="middle">6</text>
<line x1="1657.5" y1="1643" x2="1657.5" y2="1660" stroke="#000" stroke-width="4.2"/>
<text transform="translate(1657.5,1704) scale(0.935,1)" font-family="'Liberation Sans', Arial, Helvetica, sans-serif" font-size="46.5" text-anchor="middle">7</text>
<line x1="1754.1" y1="1643" x2="1754.1" y2="1660" stroke="#000" stroke-width="4.2"/>
<text transform="translate(1754.1,1704) scale(0.935,1)" font-family="'Liberation Sans', Arial, Helvetica, sans-serif" font-size="46.5" text-anchor="middle">8</text>
<line x1="1850.8" y1="1643" x2="1850.8" y2="1660" stroke="#000" stroke-width="4.2"/>
<text transform="translate(1850.8,1704) scale(0.935,1)" font-family="'Liberation Sans', Arial, Helvetica, sans-serif" font-size="46.5" text-anchor="middle">9</text>
<line x1="1947.4" y1="1643" x2="1947.4" y2="1660" stroke="#000" stroke-width="4.2"/>
<text transform="translate(1947.4,1704) scale(0.935,1)" font-family="'Liberation Sans', Arial, Helvetica, sans-serif" font-size="46.5" text-anchor="middle">10</text>
<line x1="2044.1" y1="1643" x2="2044.1" y2="1660" stroke="#000" stroke-width="4.2"/>
<text transform="translate(2044.1,1704) scale(0.935,1)" font-family="'Liberation Sans', Arial, Helvetica, sans-serif" font-size="46.5" text-anchor="middle">11</text>
<line x1="2140.7" y1="1643" x2="2140.7" y2="1660" stroke="#000" stroke-width="4.2"/>
<text transform="translate(2140.7,1704) scale(0.935,1)" font-family="'Liberation Sans', Arial, Helvetica, sans-serif" font-size="46.5" text-anchor="middle">12</text>
<line x1="1222.5" y1="1643" x2="1222.5" y2="1653.5" stroke="#000" stroke-width="4.2"/>
<line x1="1319.2" y1="1643" x2="1319.2" y2="1653.5" stroke="#000" stroke-width="4.2"/>
<line x1="1415.8" y1="1643" x2="1415.8" y2="1653.5" stroke="#000" stroke-width="4.2"/>
<line x1="1512.5" y1="1643" x2="1512.5" y2="1653.5" stroke="#000" stroke-width="4.2"/>
<line x1="1609.1" y1="1643" x2="1609.1" y2="1653.5" stroke="#000" stroke-width="4.2"/>
<line x1="1705.8" y1="1643" x2="1705.8" y2="1653.5" stroke="#000" stroke-width="4.2"/>
<line x1="1802.4" y1="1643" x2="1802.4" y2="1653.5" stroke="#000" stroke-width="4.2"/>
<line x1="1899.1" y1="1643" x2="1899.1" y2="1653.5" stroke="#000" stroke-width="4.2"/>
<line x1="1995.7" y1="1643" x2="1995.7" y2="1653.5" stroke="#000" stroke-width="4.2"/>
<line x1="2092.4" y1="1643" x2="2092.4" y2="1653.5" stroke="#000" stroke-width="4.2"/>
<line x1="2142.5" y1="1644.8" x2="2157" y2="1644.8" stroke="#3246b4" stroke-width="4.4"/>
<text transform="translate(2166.5,1658.1) scale(0.935,1)" font-family="'Liberation Sans', Arial, Helvetica, sans-serif" font-size="46.5" fill="#3246b4">0</text>
<line x1="2142.5" y1="1515.2" x2="2157" y2="1515.2" stroke="#3246b4" stroke-width="4.4"/>
<text transform="translate(2166.5,1528.5) scale(0.935,1)" font-family="'Liberation Sans', Arial, Helvetica, sans-serif" font-size="46.5" fill="#3246b4">1</text>
<line x1="2142.5" y1="1385.6" x2="2157" y2="1385.6" stroke="#3246b4" stroke-width="4.4"/>
<text transform="translate(2166.5,1398.9) scale(0.935,1)" font-family="'Liberation Sans', Arial, Helvetica, sans-serif" font-size="46.5" fill="#3246b4">2</text>
<line x1="2142.5" y1="1256" x2="2157" y2="1256" stroke="#3246b4" stroke-width="4.4"/>
<text transform="translate(2166.5,1269.3) scale(0.935,1)" font-family="'Liberation Sans', Arial, Helvetica, sans-serif" font-size="46.5" fill="#3246b4">3</text>
<line x1="2142.5" y1="1126.4" x2="2157" y2="1126.4" stroke="#3246b4" stroke-width="4.4"/>
<text transform="translate(2166.5,1139.7) scale(0.935,1)" font-family="'Liberation Sans', Arial, Helvetica, sans-serif" font-size="46.5" fill="#3246b4">4</text>
<line x1="2142.5" y1="996.8" x2="2157" y2="996.8" stroke="#3246b4" stroke-width="4.4"/>
<text transform="translate(2166.5,1010.1) scale(0.935,1)" font-family="'Liberation Sans', Arial, Helvetica, sans-serif" font-size="46.5" fill="#3246b4">5</text>
<line x1="2142.5" y1="1580" x2="2151.5" y2="1580" stroke="#3246b4" stroke-width="4.4"/>
<line x1="2142.5" y1="1450.4" x2="2151.5" y2="1450.4" stroke="#3246b4" stroke-width="4.4"/>
<line x1="2142.5" y1="1320.8" x2="2151.5" y2="1320.8" stroke="#3246b4" stroke-width="4.4"/>
<line x1="2142.5" y1="1191.2" x2="2151.5" y2="1191.2" stroke="#3246b4" stroke-width="4.4"/>
<line x1="2142.5" y1="1061.6" x2="2151.5" y2="1061.6" stroke="#3246b4" stroke-width="4.4"/>
<text x="1656.5" y="1756" font-family="'Liberation Sans', Arial, Helvetica, sans-serif" font-size="44.5" font-weight="bold" text-anchor="middle">Voltage (V)</text>
<text transform="translate(1050,1263) rotate(-90)" text-anchor="middle" font-family="'Liberation Sans', Arial, Helvetica, sans-serif" font-size="45" font-weight="bold">Current density (mA/cm<tspan dy="-16" font-size="28">2</tspan><tspan dy="16">)</tspan></text>
<text transform="translate(2240,1321) rotate(90)" text-anchor="middle" font-family="'Liberation Sans', Arial, Helvetica, sans-serif" font-size="44" font-weight="bold" fill="#3246b4">Luminance (cd/m<tspan dy="-16" font-size="28">2</tspan><tspan dy="16">)</tspan></text>
<line x1="1410" y1="1553.7" x2="1528.5" y2="1553.7" stroke="#000" stroke-width="3.2"/>
<polygon points="1392.5,1553.7 1414,1543.5 1414,1564" fill="#000"/>
<line x1="1858" y1="1346.3" x2="1975" y2="1346.3" stroke="#3246b4" stroke-width="3.2"/>
<polygon points="1999.5,1346.3 1969,1335 1969,1357.5" fill="#3246b4"/>
</svg></body></html>
